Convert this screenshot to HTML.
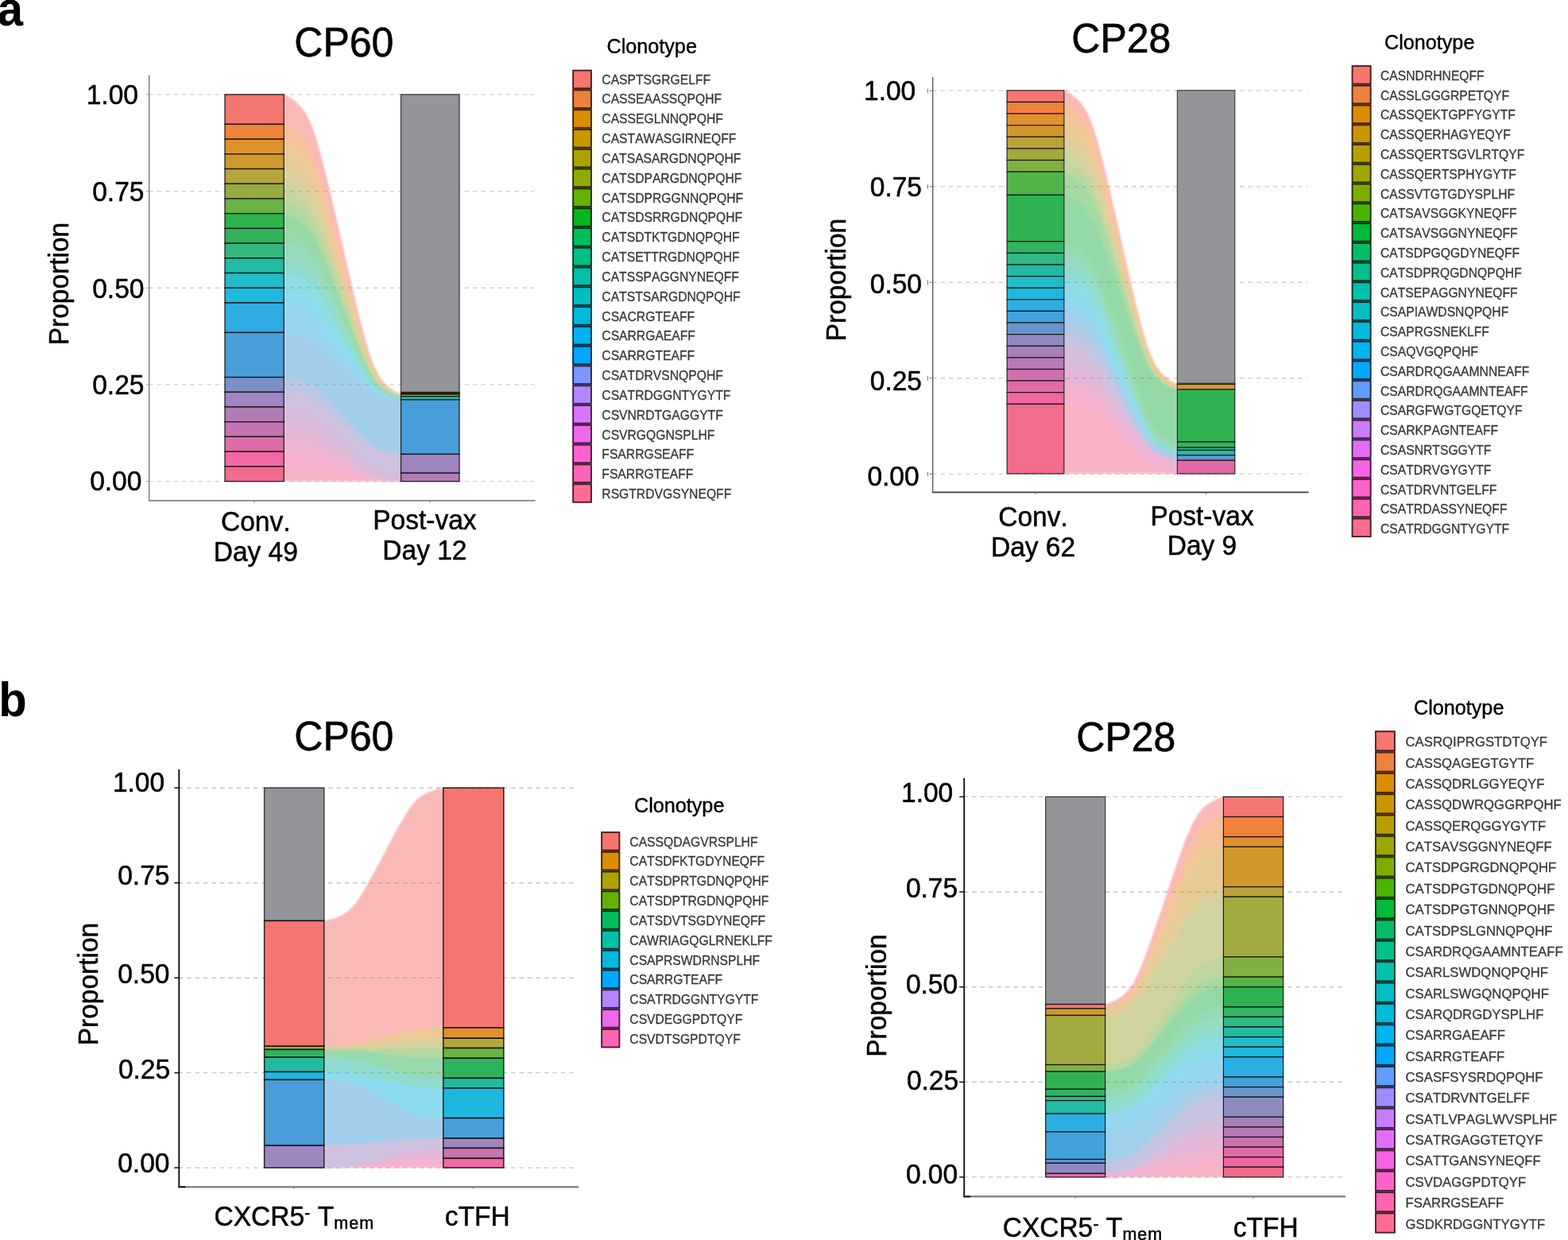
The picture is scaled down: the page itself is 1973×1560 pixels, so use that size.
<!DOCTYPE html>
<html lang="en"><head><meta charset="utf-8"><title>Clonotype alluvial plots</title>
<style>html,body{margin:0;padding:0;background:#fff;}svg{display:block;}text{white-space:pre;font-kerning:none;}</style>
</head><body>
<svg width="1973" height="1560" viewBox="0 0 1973 1560" font-family='"Liberation Sans", sans-serif' fill="#000" style="font-kerning:none">
<defs><filter id="soft" x="-5%" y="-5%" width="110%" height="110%"><feGaussianBlur stdDeviation="0.9"/></filter></defs>
<rect width="1973" height="1560" fill="#fff"/>
<g>
<line x1="187.0" y1="605.6" x2="672.2" y2="605.6" stroke="#cfcfcf" stroke-width="1.4" stroke-dasharray="5.5 4.96"/>
<line x1="187.0" y1="483.9" x2="672.2" y2="483.9" stroke="#cfcfcf" stroke-width="1.4" stroke-dasharray="5.5 4.96"/>
<line x1="187.0" y1="362.2" x2="672.2" y2="362.2" stroke="#cfcfcf" stroke-width="1.4" stroke-dasharray="5.5 4.96"/>
<line x1="187.0" y1="240.6" x2="672.2" y2="240.6" stroke="#cfcfcf" stroke-width="1.4" stroke-dasharray="5.5 4.96"/>
<line x1="187.0" y1="118.9" x2="672.2" y2="118.9" stroke="#cfcfcf" stroke-width="1.4" stroke-dasharray="5.5 4.96"/>
<g opacity="0.5" filter="url(#soft)">
<path d="M357.2,118.9 357.4,119.0 358.4,119.4 360.9,120.5 364.6,122.5 369.3,125.6 374.3,129.7 379.2,134.9 383.8,141.1 388.0,148.5 392.0,157.6 396.0,168.5 400.2,181.8 404.5,197.3 409.2,215.4 414.2,235.8 419.5,258.4 425.1,282.5 430.9,307.5 436.6,332.4 442.2,356.5 447.5,379.1 452.5,399.5 457.2,417.6 461.5,433.2 465.7,446.4 469.7,457.3 473.7,466.4 477.9,473.8 482.5,480.0 487.4,485.2 492.4,489.3 497.1,492.4 500.8,494.4 503.3,495.5 504.3,495.9 504.5,496.0 504.5,496.7 504.3,496.6 503.3,496.3 500.8,495.3 497.1,493.5 492.4,490.7 487.4,486.9 482.5,482.3 477.9,476.7 473.7,470.0 469.7,461.9 465.7,452.0 461.5,440.1 457.2,426.0 452.5,409.8 447.5,391.4 442.2,371.1 436.6,349.4 430.9,326.9 425.1,304.4 419.5,282.7 414.2,262.4 409.2,244.0 404.5,227.7 400.2,213.6 396.0,201.7 392.0,191.9 388.0,183.7 383.8,177.0 379.2,171.4 374.3,166.8 369.3,163.1 364.6,160.3 360.9,158.4 358.4,157.5 357.4,157.1 357.2,157.0Z" fill="#f47670"/>
<path d="M357.2,156.3 357.4,156.4 358.4,156.8 360.9,157.7 364.6,159.6 369.3,162.4 374.3,166.1 379.2,170.7 383.8,176.3 388.0,183.0 392.0,191.2 396.0,201.0 400.2,212.9 404.5,227.0 409.2,243.3 414.2,261.7 419.5,282.0 425.1,303.7 430.9,326.2 436.6,348.7 442.2,370.4 447.5,390.7 452.5,409.1 457.2,425.3 461.5,439.4 465.7,451.3 469.7,461.2 473.7,469.3 477.9,476.0 482.5,481.6 487.4,486.2 492.4,490.0 497.1,492.8 500.8,494.6 503.3,495.6 504.3,495.9 504.5,496.0 504.5,496.7 504.3,496.7 503.3,496.3 500.8,495.4 497.1,493.6 492.4,491.0 487.4,487.5 482.5,483.1 477.9,477.8 473.7,471.5 469.7,463.8 465.7,454.5 461.5,443.2 457.2,429.9 452.5,414.6 447.5,397.2 442.2,378.0 436.6,357.5 430.9,336.2 425.1,315.0 419.5,294.5 414.2,275.3 409.2,257.9 404.5,242.5 400.2,229.2 396.0,218.0 392.0,208.7 388.0,201.0 383.8,194.6 379.2,189.3 374.3,185.0 369.3,181.5 364.6,178.8 360.9,177.1 358.4,176.1 357.4,175.8 357.2,175.8Z" fill="#f1833a"/>
<path d="M357.2,175.1 357.4,175.1 358.4,175.4 360.9,176.4 364.6,178.1 369.3,180.8 374.3,184.3 379.2,188.6 383.8,193.9 388.0,200.3 392.0,208.0 396.0,217.3 400.2,228.5 404.5,241.8 409.2,257.2 414.2,274.6 419.5,293.8 425.1,314.3 430.9,335.5 436.6,356.8 442.2,377.3 447.5,396.5 452.5,413.9 457.2,429.2 461.5,442.5 465.7,453.8 469.7,463.1 473.7,470.8 477.9,477.1 482.5,482.4 487.4,486.8 492.4,490.3 497.1,492.9 500.8,494.7 503.3,495.6 504.3,496.0 504.5,496.0 504.5,496.7 504.3,496.7 503.3,496.3 500.8,495.5 497.1,493.8 492.4,491.3 487.4,488.0 482.5,483.9 477.9,478.9 473.7,472.9 469.7,465.7 465.7,456.9 461.5,446.3 457.2,433.8 452.5,419.4 447.5,403.0 442.2,384.9 436.6,365.6 430.9,345.6 425.1,325.6 419.5,306.3 414.2,288.2 409.2,271.8 404.5,257.3 400.2,244.8 396.0,234.3 392.0,225.5 388.0,218.2 383.8,212.3 379.2,207.3 374.3,203.2 369.3,199.8 364.6,197.4 360.9,195.7 358.4,194.8 357.4,194.5 357.2,194.5Z" fill="#de922e"/>
<path d="M357.2,193.8 357.4,193.8 358.4,194.1 360.9,195.0 364.6,196.7 369.3,199.1 374.3,202.5 379.2,206.6 383.8,211.6 388.0,217.5 392.0,224.8 396.0,233.6 400.2,244.1 404.5,256.6 409.2,271.1 414.2,287.5 419.5,305.6 425.1,324.9 430.9,344.9 436.6,364.9 442.2,384.2 447.5,402.3 452.5,418.7 457.2,433.1 461.5,445.6 465.7,456.2 469.7,465.0 473.7,472.2 477.9,478.2 482.5,483.2 487.4,487.3 492.4,490.6 497.1,493.1 500.8,494.8 503.3,495.6 504.3,496.0 504.5,496.0 504.5,496.7 504.3,496.7 503.3,496.4 500.8,495.5 497.1,494.0 492.4,491.7 487.4,488.6 482.5,484.7 477.9,480.0 473.7,474.4 469.7,467.6 465.7,459.4 461.5,449.4 457.2,437.7 452.5,424.2 447.5,408.8 442.2,391.8 436.6,373.7 430.9,354.9 425.1,336.2 419.5,318.1 414.2,301.1 409.2,285.7 404.5,272.2 400.2,260.4 396.0,250.5 392.0,242.3 388.0,235.5 383.8,229.9 379.2,225.2 374.3,221.3 369.3,218.2 364.6,215.9 360.9,214.4 358.4,213.5 357.4,213.2 357.2,213.2Z" fill="#cd992d"/>
<path d="M357.2,212.5 357.4,212.5 358.4,212.8 360.9,213.7 364.6,215.2 369.3,217.5 374.3,220.6 379.2,224.5 383.8,229.2 388.0,234.8 392.0,241.6 396.0,249.8 400.2,259.7 404.5,271.5 409.2,285.0 414.2,300.4 419.5,317.4 425.1,335.5 430.9,354.2 436.6,373.0 442.2,391.1 447.5,408.1 452.5,423.5 457.2,437.0 461.5,448.7 465.7,458.7 469.7,466.9 473.7,473.7 477.9,479.3 482.5,484.0 487.4,487.9 492.4,491.0 497.1,493.3 500.8,494.8 503.3,495.7 504.3,496.0 504.5,496.0 504.5,499.3 504.3,499.3 503.3,499.0 500.8,498.2 497.1,496.7 492.4,494.5 487.4,491.6 482.5,488.0 477.9,483.6 473.7,478.3 469.7,471.9 465.7,464.1 461.5,454.7 457.2,443.7 452.5,430.9 447.5,416.4 442.2,400.4 436.6,383.3 430.9,365.6 425.1,347.9 419.5,330.8 414.2,314.8 409.2,300.3 404.5,287.5 400.2,276.5 396.0,267.1 392.0,259.3 388.0,252.9 383.8,247.6 379.2,243.2 374.3,239.6 369.3,236.7 364.6,234.5 360.9,233.0 358.4,232.2 357.4,232.0 357.2,231.9Z" fill="#b4a53d"/>
<path d="M357.2,231.2 357.4,231.3 358.4,231.5 360.9,232.3 364.6,233.8 369.3,236.0 374.3,238.9 379.2,242.5 383.8,246.9 388.0,252.2 392.0,258.6 396.0,266.4 400.2,275.8 404.5,286.8 409.2,299.6 414.2,314.1 419.5,330.1 425.1,347.2 430.9,364.9 436.6,382.6 442.2,399.7 447.5,415.7 452.5,430.2 457.2,443.0 461.5,454.0 465.7,463.4 469.7,471.2 473.7,477.6 477.9,482.9 482.5,487.3 487.4,490.9 492.4,493.8 497.1,496.0 500.8,497.5 503.3,498.3 504.3,498.6 504.5,498.6 504.5,499.3 504.3,499.3 503.3,499.0 500.8,498.3 497.1,496.9 492.4,494.9 487.4,492.2 482.5,488.8 477.9,484.7 473.7,479.7 469.7,473.8 465.7,466.6 461.5,457.9 457.2,447.6 452.5,435.7 447.5,422.2 442.2,407.3 436.6,391.4 430.9,375.0 425.1,358.5 419.5,342.6 414.2,327.7 409.2,314.3 404.5,302.4 400.2,292.1 396.0,283.4 392.0,276.1 388.0,270.2 383.8,265.3 379.2,261.2 374.3,257.8 369.3,255.1 364.6,253.0 360.9,251.7 358.4,250.9 357.4,250.7 357.2,250.6Z" fill="#96ac3f"/>
<path d="M357.2,249.9 357.4,250.0 358.4,250.2 360.9,251.0 364.6,252.3 369.3,254.4 374.3,257.1 379.2,260.5 383.8,264.6 388.0,269.5 392.0,275.4 396.0,282.7 400.2,291.4 404.5,301.7 409.2,313.6 414.2,327.0 419.5,341.9 425.1,357.8 430.9,374.3 436.6,390.7 442.2,406.6 447.5,421.5 452.5,435.0 457.2,446.9 461.5,457.2 465.7,465.9 469.7,473.1 473.7,479.0 477.9,484.0 482.5,488.1 487.4,491.5 492.4,494.2 497.1,496.2 500.8,497.6 503.3,498.3 504.3,498.6 504.5,498.6 504.5,499.3 504.3,499.3 503.3,499.0 500.8,498.4 497.1,497.1 492.4,495.2 487.4,492.7 482.5,489.6 477.9,485.8 473.7,481.2 469.7,475.7 465.7,469.0 461.5,461.0 457.2,451.5 452.5,440.5 447.5,428.0 442.2,414.3 436.6,399.5 430.9,384.3 425.1,369.1 419.5,354.4 414.2,340.7 409.2,328.2 404.5,317.2 400.2,307.7 396.0,299.6 392.0,292.9 388.0,287.4 383.8,282.9 379.2,279.1 374.3,276.0 369.3,273.4 364.6,271.6 360.9,270.3 358.4,269.6 357.4,269.4 357.2,269.4Z" fill="#6ab445"/>
<path d="M357.2,268.7 357.4,268.7 358.4,268.9 360.9,269.6 364.6,270.9 369.3,272.7 374.3,275.3 379.2,278.4 383.8,282.2 388.0,286.7 392.0,292.2 396.0,298.9 400.2,307.0 404.5,316.5 409.2,327.5 414.2,340.0 419.5,353.7 425.1,368.4 430.9,383.6 436.6,398.8 442.2,413.6 447.5,427.3 452.5,439.8 457.2,450.8 461.5,460.3 465.7,468.3 469.7,475.0 473.7,480.5 477.9,485.1 482.5,488.9 487.4,492.0 492.4,494.5 497.1,496.4 500.8,497.7 503.3,498.3 504.3,498.6 504.5,498.6 504.5,499.3 504.3,499.3 503.3,499.0 500.8,498.4 497.1,497.3 492.4,495.5 487.4,493.2 482.5,490.4 477.9,486.9 473.7,482.7 469.7,477.6 465.7,471.5 461.5,464.1 457.2,455.4 452.5,445.3 447.5,433.8 442.2,421.2 436.6,407.7 430.9,393.7 425.1,379.7 419.5,366.2 414.2,353.6 409.2,342.1 404.5,332.0 400.2,323.3 396.0,315.9 392.0,309.7 388.0,304.7 383.8,300.5 379.2,297.0 374.3,294.1 369.3,291.8 364.6,290.1 360.9,288.9 358.4,288.3 357.4,288.1 357.2,288.1Z" fill="#2eb34b"/>
<path d="M357.2,287.4 357.4,287.4 358.4,287.6 360.9,288.2 364.6,289.4 369.3,291.1 374.3,293.4 379.2,296.3 383.8,299.8 388.0,304.0 392.0,309.0 396.0,315.2 400.2,322.6 404.5,331.3 409.2,341.4 414.2,352.9 419.5,365.5 425.1,379.0 430.9,393.0 436.6,407.0 442.2,420.5 447.5,433.1 452.5,444.6 457.2,454.7 461.5,463.4 465.7,470.8 469.7,476.9 473.7,482.0 477.9,486.2 482.5,489.7 487.4,492.5 492.4,494.8 497.1,496.6 500.8,497.7 503.3,498.3 504.3,498.6 504.5,498.6 504.5,499.3 504.3,499.3 503.3,499.1 500.8,498.5 497.1,497.5 492.4,495.9 487.4,493.8 482.5,491.1 477.9,488.0 473.7,484.2 469.7,479.6 465.7,474.0 461.5,467.2 457.2,459.3 452.5,450.0 447.5,439.6 442.2,428.1 436.6,415.8 430.9,403.0 425.1,390.3 419.5,378.0 414.2,366.5 409.2,356.1 404.5,346.8 400.2,338.9 396.0,332.1 392.0,326.5 388.0,321.9 383.8,318.1 379.2,314.9 374.3,312.3 369.3,310.2 364.6,308.6 360.9,307.6 358.4,307.0 357.4,306.8 357.2,306.8Z" fill="#30b35c"/>
<path d="M357.2,306.1 357.4,306.1 358.4,306.3 360.9,306.9 364.6,307.9 369.3,309.5 374.3,311.6 379.2,314.2 383.8,317.4 388.0,321.2 392.0,325.8 396.0,331.4 400.2,338.2 404.5,346.1 409.2,355.4 414.2,365.8 419.5,377.3 425.1,389.6 430.9,402.3 436.6,415.1 442.2,427.4 447.5,438.9 452.5,449.3 457.2,458.6 461.5,466.5 465.7,473.3 469.7,478.9 473.7,483.5 477.9,487.3 482.5,490.4 487.4,493.1 492.4,495.2 497.1,496.8 500.8,497.8 503.3,498.4 504.3,498.6 504.5,498.6 504.5,499.3 504.3,499.3 503.3,499.1 500.8,498.6 497.1,497.6 492.4,496.2 487.4,494.3 482.5,491.9 477.9,489.1 473.7,485.6 469.7,481.5 465.7,476.4 461.5,470.3 457.2,463.1 452.5,454.8 447.5,445.4 442.2,435.0 436.6,423.9 430.9,412.4 425.1,400.9 419.5,389.8 414.2,379.4 409.2,370.0 404.5,361.7 400.2,354.5 396.0,348.4 392.0,343.3 388.0,339.2 383.8,335.7 379.2,332.9 374.3,330.5 369.3,328.6 364.6,327.2 360.9,326.2 358.4,325.7 357.4,325.5 357.2,325.5Z" fill="#34b77d"/>
<path d="M357.2,324.8 357.4,324.8 358.4,325.0 360.9,325.5 364.6,326.5 369.3,327.9 374.3,329.8 379.2,332.2 383.8,335.0 388.0,338.5 392.0,342.6 396.0,347.7 400.2,353.8 404.5,361.0 409.2,369.3 414.2,378.7 419.5,389.1 425.1,400.2 430.9,411.7 436.6,423.2 442.2,434.3 447.5,444.7 452.5,454.1 457.2,462.4 461.5,469.6 465.7,475.7 469.7,480.8 473.7,484.9 477.9,488.4 482.5,491.2 487.4,493.6 492.4,495.5 497.1,496.9 500.8,497.9 503.3,498.4 504.3,498.6 504.5,498.6 504.5,503.6 504.3,503.6 503.3,503.4 500.8,502.9 497.1,502.1 492.4,500.8 487.4,499.0 482.5,496.9 477.9,494.2 473.7,491.1 469.7,487.3 465.7,482.6 461.5,477.0 457.2,470.4 452.5,462.8 447.5,454.2 442.2,444.7 436.6,434.5 430.9,423.9 425.1,413.4 419.5,403.2 414.2,393.6 409.2,385.0 404.5,377.4 400.2,370.8 396.0,365.2 392.0,360.6 388.0,356.8 383.8,353.6 379.2,351.0 374.3,348.8 369.3,347.1 364.6,345.8 360.9,344.9 358.4,344.4 357.4,344.3 357.2,344.2Z" fill="#21bba1"/>
<path d="M357.2,343.5 357.4,343.6 358.4,343.7 360.9,344.2 364.6,345.1 369.3,346.4 374.3,348.1 379.2,350.3 383.8,352.9 388.0,356.1 392.0,359.9 396.0,364.5 400.2,370.1 404.5,376.7 409.2,384.3 414.2,392.9 419.5,402.5 425.1,412.7 430.9,423.2 436.6,433.8 442.2,444.0 447.5,453.5 452.5,462.1 457.2,469.7 461.5,476.3 465.7,481.9 469.7,486.6 473.7,490.4 477.9,493.5 482.5,496.2 487.4,498.3 492.4,500.1 497.1,501.4 500.8,502.2 503.3,502.7 504.3,502.9 504.5,502.9 504.5,503.6 504.3,503.6 503.3,503.4 500.8,503.0 497.1,502.3 492.4,501.1 487.4,499.6 482.5,497.6 477.9,495.3 473.7,492.5 469.7,489.2 465.7,485.1 461.5,480.2 457.2,474.3 452.5,467.6 447.5,460.0 442.2,451.6 436.6,442.6 430.9,433.3 425.1,424.0 419.5,415.0 414.2,406.6 409.2,398.9 404.5,392.2 400.2,386.4 396.0,381.5 392.0,377.4 388.0,374.0 383.8,371.2 379.2,368.9 374.3,367.0 369.3,365.4 364.6,364.3 360.9,363.5 358.4,363.1 357.4,363.0 357.2,362.9Z" fill="#22bcc8"/>
<path d="M357.2,362.2 357.4,362.3 358.4,362.4 360.9,362.8 364.6,363.6 369.3,364.7 374.3,366.3 379.2,368.2 383.8,370.5 388.0,373.3 392.0,376.7 396.0,380.8 400.2,385.7 404.5,391.5 409.2,398.2 414.2,405.9 419.5,414.3 425.1,423.3 430.9,432.6 436.6,441.9 442.2,450.9 447.5,459.3 452.5,466.9 457.2,473.6 461.5,479.5 465.7,484.4 469.7,488.5 473.7,491.8 477.9,494.6 482.5,496.9 487.4,498.9 492.4,500.4 497.1,501.6 500.8,502.3 503.3,502.7 504.3,502.9 504.5,502.9 504.5,503.6 504.3,503.6 503.3,503.5 500.8,503.1 497.1,502.4 492.4,501.4 487.4,500.1 482.5,498.4 477.9,496.4 473.7,494.0 469.7,491.1 465.7,487.6 461.5,483.3 457.2,478.2 452.5,472.4 447.5,465.8 442.2,458.5 436.6,450.7 430.9,442.6 425.1,434.6 419.5,426.8 414.2,419.5 409.2,412.9 404.5,407.0 400.2,402.0 396.0,397.7 392.0,394.2 388.0,391.3 383.8,388.8 379.2,386.8 374.3,385.2 369.3,383.8 364.6,382.8 360.9,382.2 358.4,381.8 357.4,381.7 357.2,381.7Z" fill="#1eb8de"/>
<path d="M357.2,381.0 357.4,381.0 358.4,381.1 360.9,381.5 364.6,382.1 369.3,383.1 374.3,384.5 379.2,386.1 383.8,388.1 388.0,390.6 392.0,393.5 396.0,397.0 400.2,401.3 404.5,406.3 409.2,412.2 414.2,418.8 419.5,426.1 425.1,433.9 430.9,441.9 436.6,450.0 442.2,457.8 447.5,465.1 452.5,471.7 457.2,477.5 461.5,482.6 465.7,486.9 469.7,490.4 473.7,493.3 477.9,495.7 482.5,497.7 487.4,499.4 492.4,500.7 497.1,501.7 500.8,502.4 503.3,502.8 504.3,502.9 504.5,502.9 504.5,503.6 504.3,503.6 503.3,503.5 500.8,503.3 497.1,502.8 492.4,502.1 487.4,501.2 482.5,500.0 477.9,498.6 473.7,497.0 469.7,494.9 465.7,492.5 461.5,489.5 457.2,486.0 452.5,482.0 447.5,477.4 442.2,472.3 436.6,466.9 430.9,461.4 425.1,455.8 419.5,450.4 414.2,445.3 409.2,440.7 404.5,436.7 400.2,433.2 396.0,430.2 392.0,427.8 388.0,425.8 383.8,424.1 379.2,422.7 374.3,421.5 369.3,420.6 364.6,419.9 360.9,419.5 358.4,419.2 357.4,419.1 357.2,419.1Z" fill="#30ace4"/>
<path d="M357.2,418.4 357.4,418.4 358.4,418.5 360.9,418.8 364.6,419.2 369.3,419.9 374.3,420.8 379.2,422.0 383.8,423.4 388.0,425.1 392.0,427.1 396.0,429.5 400.2,432.5 404.5,436.0 409.2,440.0 414.2,444.6 419.5,449.7 425.1,455.1 430.9,460.7 436.6,466.2 442.2,471.6 447.5,476.7 452.5,481.3 457.2,485.3 461.5,488.8 465.7,491.8 469.7,494.2 473.7,496.3 477.9,497.9 482.5,499.3 487.4,500.5 492.4,501.4 497.1,502.1 500.8,502.6 503.3,502.8 504.3,502.9 504.5,502.9 504.5,572.1 504.3,572.1 503.3,572.0 500.8,571.7 497.1,571.2 492.4,570.4 487.4,569.3 482.5,568.0 477.9,566.4 473.7,564.5 469.7,562.2 465.7,559.4 461.5,556.0 457.2,552.0 452.5,547.3 447.5,542.1 442.2,536.3 436.6,530.1 430.9,523.7 425.1,517.3 419.5,511.1 414.2,505.3 409.2,500.0 404.5,495.4 400.2,491.4 396.0,488.0 392.0,485.2 388.0,482.9 383.8,481.0 379.2,479.4 374.3,478.0 369.3,477.0 364.6,476.2 360.9,475.7 358.4,475.4 357.4,475.3 357.2,475.3Z" fill="#489ed8"/>
<path d="M357.2,474.6 357.4,474.6 358.4,474.7 360.9,475.0 364.6,475.5 369.3,476.3 374.3,477.3 379.2,478.7 383.8,480.3 388.0,482.2 392.0,484.5 396.0,487.3 400.2,490.7 404.5,494.7 409.2,499.3 414.2,504.6 419.5,510.4 425.1,516.6 430.9,523.0 436.6,529.4 442.2,535.6 447.5,541.4 452.5,546.6 457.2,551.3 461.5,555.3 465.7,558.7 469.7,561.5 473.7,563.8 477.9,565.7 482.5,567.3 487.4,568.6 492.4,569.7 497.1,570.5 500.8,571.0 503.3,571.3 504.3,571.4 504.5,571.4 504.5,572.1 504.3,572.1 503.3,572.0 500.8,571.8 497.1,571.4 492.4,570.7 487.4,569.9 482.5,568.8 477.9,567.5 473.7,566.0 469.7,564.1 465.7,561.8 461.5,559.1 457.2,555.8 452.5,552.1 447.5,547.9 442.2,543.2 436.6,538.2 430.9,533.0 425.1,527.9 419.5,522.9 414.2,518.2 409.2,514.0 404.5,510.2 400.2,507.0 396.0,504.3 392.0,502.0 388.0,500.1 383.8,498.6 379.2,497.3 374.3,496.2 369.3,495.4 364.6,494.7 360.9,494.3 358.4,494.1 357.4,494.0 357.2,494.0Z" fill="#7a90c8"/>
<path d="M357.2,493.3 357.4,493.3 358.4,493.4 360.9,493.6 364.6,494.0 369.3,494.7 374.3,495.5 379.2,496.6 383.8,497.9 388.0,499.4 392.0,501.3 396.0,503.6 400.2,506.3 404.5,509.5 409.2,513.3 414.2,517.5 419.5,522.2 425.1,527.2 430.9,532.3 436.6,537.5 442.2,542.5 447.5,547.2 452.5,551.4 457.2,555.1 461.5,558.4 465.7,561.1 469.7,563.4 473.7,565.3 477.9,566.8 482.5,568.1 487.4,569.2 492.4,570.0 497.1,570.7 500.8,571.1 503.3,571.3 504.3,571.4 504.5,571.4 504.5,595.9 504.3,595.9 503.3,595.8 500.8,595.6 497.1,595.1 492.4,594.4 487.4,593.5 482.5,592.4 477.9,591.0 473.7,589.4 469.7,587.4 465.7,585.0 461.5,582.0 457.2,578.6 452.5,574.6 447.5,570.1 442.2,565.1 436.6,559.8 430.9,554.3 425.1,548.8 419.5,543.5 414.2,538.5 409.2,534.0 404.5,530.0 400.2,526.6 396.0,523.7 392.0,521.2 388.0,519.2 383.8,517.6 379.2,516.2 374.3,515.1 369.3,514.2 364.6,513.5 360.9,513.0 358.4,512.8 357.4,512.7 357.2,512.7Z" fill="#a086c0"/>
<path d="M357.2,512.0 357.4,512.0 358.4,512.1 360.9,512.3 364.6,512.8 369.3,513.5 374.3,514.4 379.2,515.5 383.8,516.9 388.0,518.5 392.0,520.5 396.0,523.0 400.2,525.9 404.5,529.3 409.2,533.3 414.2,537.8 419.5,542.8 425.1,548.1 430.9,553.6 436.6,559.1 442.2,564.4 447.5,569.4 452.5,573.9 457.2,577.9 461.5,581.3 465.7,584.3 469.7,586.7 473.7,588.7 477.9,590.3 482.5,591.7 487.4,592.8 492.4,593.7 497.1,594.4 500.8,594.9 503.3,595.1 504.3,595.2 504.5,595.2 504.5,606.3 504.3,606.3 503.3,606.2 500.8,606.0 497.1,605.6 492.4,605.0 487.4,604.1 482.5,603.1 477.9,601.9 473.7,600.4 469.7,598.6 465.7,596.4 461.5,593.8 457.2,590.7 452.5,587.1 447.5,583.1 442.2,578.6 436.6,573.8 430.9,568.9 425.1,563.9 419.5,559.1 414.2,554.6 409.2,550.6 404.5,547.0 400.2,543.9 396.0,541.3 392.0,539.1 388.0,537.3 383.8,535.8 379.2,534.6 374.3,533.6 369.3,532.8 364.6,532.1 360.9,531.7 358.4,531.5 357.4,531.4 357.2,531.4Z" fill="#b07cb6"/>
<path d="M357.2,530.7 357.4,530.7 358.4,530.8 360.9,531.0 364.6,531.4 369.3,532.1 374.3,532.9 379.2,533.9 383.8,535.1 388.0,536.6 392.0,538.4 396.0,540.6 400.2,543.2 404.5,546.3 409.2,549.9 414.2,553.9 419.5,558.4 425.1,563.2 430.9,568.2 436.6,573.1 442.2,577.9 447.5,582.4 452.5,586.4 457.2,590.0 461.5,593.1 465.7,595.7 469.7,597.9 473.7,599.7 477.9,601.2 482.5,602.4 487.4,603.4 492.4,604.3 497.1,604.9 500.8,605.3 503.3,605.5 504.3,605.6 504.5,605.6 504.5,606.3 504.3,606.3 503.3,606.2 500.8,606.1 497.1,605.8 492.4,605.3 487.4,604.7 482.5,603.9 477.9,603.0 473.7,601.9 469.7,600.5 465.7,598.9 461.5,596.9 457.2,594.6 452.5,591.9 447.5,588.9 442.2,585.5 436.6,581.9 430.9,578.2 425.1,574.5 419.5,570.9 414.2,567.6 409.2,564.5 404.5,561.8 400.2,559.5 396.0,557.5 392.0,555.9 388.0,554.6 383.8,553.4 379.2,552.5 374.3,551.8 369.3,551.1 364.6,550.7 360.9,550.4 358.4,550.2 357.4,550.2 357.2,550.1Z" fill="#c574b1"/>
<path d="M357.2,549.4 357.4,549.5 358.4,549.5 360.9,549.7 364.6,550.0 369.3,550.4 374.3,551.1 379.2,551.8 383.8,552.7 388.0,553.9 392.0,555.2 396.0,556.8 400.2,558.8 404.5,561.1 409.2,563.8 414.2,566.9 419.5,570.2 425.1,573.8 430.9,577.5 436.6,581.2 442.2,584.8 447.5,588.2 452.5,591.2 457.2,593.9 461.5,596.2 465.7,598.2 469.7,599.8 473.7,601.2 477.9,602.3 482.5,603.2 487.4,604.0 492.4,604.6 497.1,605.1 500.8,605.4 503.3,605.5 504.3,605.6 504.5,605.6 504.5,606.3 504.3,606.3 503.3,606.3 500.8,606.1 497.1,605.9 492.4,605.6 487.4,605.2 482.5,604.7 477.9,604.1 473.7,603.4 469.7,602.5 465.7,601.4 461.5,600.1 457.2,598.5 452.5,596.7 447.5,594.7 442.2,592.5 436.6,590.1 430.9,587.6 425.1,585.1 419.5,582.7 414.2,580.5 409.2,578.4 404.5,576.6 400.2,575.1 396.0,573.8 392.0,572.7 388.0,571.8 383.8,571.1 379.2,570.4 374.3,569.9 369.3,569.5 364.6,569.2 360.9,569.0 358.4,568.9 357.4,568.9 357.2,568.9Z" fill="#de6ca8"/>
<path d="M357.2,568.2 357.4,568.2 358.4,568.2 360.9,568.3 364.6,568.5 369.3,568.8 374.3,569.2 379.2,569.7 383.8,570.4 388.0,571.1 392.0,572.0 396.0,573.1 400.2,574.4 404.5,575.9 409.2,577.7 414.2,579.8 419.5,582.0 425.1,584.4 430.9,586.9 436.6,589.4 442.2,591.8 447.5,594.0 452.5,596.0 457.2,597.8 461.5,599.4 465.7,600.7 469.7,601.8 473.7,602.7 477.9,603.4 482.5,604.0 487.4,604.5 492.4,604.9 497.1,605.2 500.8,605.4 503.3,605.6 504.3,605.6 504.5,605.6 504.5,606.3 504.3,606.3 503.3,606.3 500.8,606.2 497.1,606.1 492.4,606.0 487.4,605.8 482.5,605.5 477.9,605.2 473.7,604.8 469.7,604.4 465.7,603.8 461.5,603.2 457.2,602.4 452.5,601.5 447.5,600.5 442.2,599.4 436.6,598.2 430.9,596.9 425.1,595.7 419.5,594.5 414.2,593.4 409.2,592.4 404.5,591.5 400.2,590.7 396.0,590.0 392.0,589.5 388.0,589.1 383.8,588.7 379.2,588.4 374.3,588.1 369.3,587.9 364.6,587.8 360.9,587.7 358.4,587.6 357.4,587.6 357.2,587.6Z" fill="#f068a5"/>
<path d="M357.2,586.9 357.4,586.9 358.4,586.9 360.9,587.0 364.6,587.1 369.3,587.2 374.3,587.4 379.2,587.7 383.8,588.0 388.0,588.4 392.0,588.8 396.0,589.3 400.2,590.0 404.5,590.8 409.2,591.7 414.2,592.7 419.5,593.8 425.1,595.0 430.9,596.2 436.6,597.5 442.2,598.7 447.5,599.8 452.5,600.8 457.2,601.7 461.5,602.5 465.7,603.1 469.7,603.7 473.7,604.1 477.9,604.5 482.5,604.8 487.4,605.1 492.4,605.3 497.1,605.4 500.8,605.5 503.3,605.6 504.3,605.6 504.5,605.6 504.5,605.6 504.3,605.6 503.3,605.6 500.8,605.6 497.1,605.6 492.4,605.6 487.4,605.6 482.5,605.6 477.9,605.6 473.7,605.6 469.7,605.6 465.7,605.6 461.5,605.6 457.2,605.6 452.5,605.6 447.5,605.6 442.2,605.6 436.6,605.6 430.9,605.6 425.1,605.6 419.5,605.6 414.2,605.6 409.2,605.6 404.5,605.6 400.2,605.6 396.0,605.6 392.0,605.6 388.0,605.6 383.8,605.6 379.2,605.6 374.3,605.6 369.3,605.6 364.6,605.6 360.9,605.6 358.4,605.6 357.4,605.6 357.2,605.6Z" fill="#f26b8e"/>
</g>
<rect x="283.0" y="118.9" width="74.2" height="37.4" fill="#f47670" stroke="#0a0a0a" stroke-opacity="0.88" stroke-width="1.3"/>
<rect x="283.0" y="156.3" width="74.2" height="18.7" fill="#f1833a" stroke="#0a0a0a" stroke-opacity="0.88" stroke-width="1.3"/>
<rect x="283.0" y="175.1" width="74.2" height="18.7" fill="#de922e" stroke="#0a0a0a" stroke-opacity="0.88" stroke-width="1.3"/>
<rect x="283.0" y="193.8" width="74.2" height="18.7" fill="#cd992d" stroke="#0a0a0a" stroke-opacity="0.88" stroke-width="1.3"/>
<rect x="283.0" y="212.5" width="74.2" height="18.7" fill="#b4a53d" stroke="#0a0a0a" stroke-opacity="0.88" stroke-width="1.3"/>
<rect x="283.0" y="231.2" width="74.2" height="18.7" fill="#96ac3f" stroke="#0a0a0a" stroke-opacity="0.88" stroke-width="1.3"/>
<rect x="283.0" y="249.9" width="74.2" height="18.7" fill="#6ab445" stroke="#0a0a0a" stroke-opacity="0.88" stroke-width="1.3"/>
<rect x="283.0" y="268.7" width="74.2" height="18.7" fill="#2eb34b" stroke="#0a0a0a" stroke-opacity="0.88" stroke-width="1.3"/>
<rect x="283.0" y="287.4" width="74.2" height="18.7" fill="#30b35c" stroke="#0a0a0a" stroke-opacity="0.88" stroke-width="1.3"/>
<rect x="283.0" y="306.1" width="74.2" height="18.7" fill="#34b77d" stroke="#0a0a0a" stroke-opacity="0.88" stroke-width="1.3"/>
<rect x="283.0" y="324.8" width="74.2" height="18.7" fill="#21bba1" stroke="#0a0a0a" stroke-opacity="0.88" stroke-width="1.3"/>
<rect x="283.0" y="343.5" width="74.2" height="18.7" fill="#22bcc8" stroke="#0a0a0a" stroke-opacity="0.88" stroke-width="1.3"/>
<rect x="283.0" y="362.2" width="74.2" height="18.7" fill="#1eb8de" stroke="#0a0a0a" stroke-opacity="0.88" stroke-width="1.3"/>
<rect x="283.0" y="381.0" width="74.2" height="37.4" fill="#30ace4" stroke="#0a0a0a" stroke-opacity="0.88" stroke-width="1.3"/>
<rect x="283.0" y="418.4" width="74.2" height="56.2" fill="#489ed8" stroke="#0a0a0a" stroke-opacity="0.88" stroke-width="1.3"/>
<rect x="283.0" y="474.6" width="74.2" height="18.7" fill="#7a90c8" stroke="#0a0a0a" stroke-opacity="0.88" stroke-width="1.3"/>
<rect x="283.0" y="493.3" width="74.2" height="18.7" fill="#a086c0" stroke="#0a0a0a" stroke-opacity="0.88" stroke-width="1.3"/>
<rect x="283.0" y="512.0" width="74.2" height="18.7" fill="#b07cb6" stroke="#0a0a0a" stroke-opacity="0.88" stroke-width="1.3"/>
<rect x="283.0" y="530.7" width="74.2" height="18.7" fill="#c574b1" stroke="#0a0a0a" stroke-opacity="0.88" stroke-width="1.3"/>
<rect x="283.0" y="549.4" width="74.2" height="18.7" fill="#de6ca8" stroke="#0a0a0a" stroke-opacity="0.88" stroke-width="1.3"/>
<rect x="283.0" y="568.2" width="74.2" height="18.7" fill="#f068a5" stroke="#0a0a0a" stroke-opacity="0.88" stroke-width="1.3"/>
<rect x="283.0" y="586.9" width="74.2" height="18.7" fill="#f26b8e" stroke="#0a0a0a" stroke-opacity="0.88" stroke-width="1.3"/>
<rect x="504.5" y="118.9" width="73.5" height="377.1" fill="#939598" stroke="#3d3d3f" stroke-width="1.3"/>
<rect x="503.9" y="492.8" width="74.8" height="3.2" fill="#222222"/>
<rect x="504.5" y="496.0" width="73.5" height="2.6" fill="#b4a53d" stroke="#0a0a0a" stroke-opacity="0.88" stroke-width="1.3"/>
<rect x="504.5" y="498.6" width="73.5" height="4.3" fill="#21bba1" stroke="#0a0a0a" stroke-opacity="0.88" stroke-width="1.3"/>
<rect x="504.5" y="502.9" width="73.5" height="68.5" fill="#489ed8" stroke="#0a0a0a" stroke-opacity="0.88" stroke-width="1.3"/>
<rect x="504.5" y="571.4" width="73.5" height="23.8" fill="#a086c0" stroke="#0a0a0a" stroke-opacity="0.88" stroke-width="1.3"/>
<rect x="504.5" y="595.2" width="73.5" height="10.4" fill="#b07cb6" stroke="#0a0a0a" stroke-opacity="0.88" stroke-width="1.3"/>
<line x1="187.7" y1="94.7" x2="187.7" y2="630.5" stroke="#707070" stroke-width="1.3"/>
<line x1="187.0" y1="629.8" x2="673.6" y2="629.8" stroke="#707070" stroke-width="1.4"/>
<line x1="320.1" y1="629.8" x2="320.1" y2="632.2" stroke="#707070" stroke-width="1.1"/>
<line x1="541.2" y1="629.8" x2="541.2" y2="632.2" stroke="#707070" stroke-width="1.1"/>
<line x1="184.2" y1="605.6" x2="187.7" y2="605.6" stroke="#9a9a9a" stroke-width="1.1"/>
<line x1="184.2" y1="483.9" x2="187.7" y2="483.9" stroke="#9a9a9a" stroke-width="1.1"/>
<line x1="184.2" y1="362.2" x2="187.7" y2="362.2" stroke="#9a9a9a" stroke-width="1.1"/>
<line x1="184.2" y1="240.6" x2="187.7" y2="240.6" stroke="#9a9a9a" stroke-width="1.1"/>
<line x1="184.2" y1="118.9" x2="187.7" y2="118.9" stroke="#9a9a9a" stroke-width="1.1"/>
<text transform="translate(173.90,131.20) scale(1,1.04)" font-size="33.5" text-anchor="end" stroke="#000" stroke-width="0.5">1.00</text>
<text transform="translate(181.40,252.90) scale(1,1.04)" font-size="33.5" text-anchor="end" stroke="#000" stroke-width="0.5">0.75</text>
<text transform="translate(181.40,375.10) scale(1,1.04)" font-size="33.5" text-anchor="end" stroke="#000" stroke-width="0.5">0.50</text>
<text transform="translate(181.40,496.40) scale(1,1.04)" font-size="33.5" text-anchor="end" stroke="#000" stroke-width="0.5">0.25</text>
<text transform="translate(178.30,617.10) scale(1,1.04)" font-size="33.5" text-anchor="end" stroke="#000" stroke-width="0.5">0.00</text>
<text transform="translate(85.60,357.00) rotate(-90) scale(1,1.04)" font-size="33.5" text-anchor="middle" stroke="#000" stroke-width="0.5">Proportion</text>
<text transform="translate(432.80,71.30) scale(1,1.04)" font-size="50" text-anchor="middle" stroke="#000" stroke-width="0.6">CP60</text>
<text transform="translate(321.80,667.80) scale(1,1.04)" font-size="33.5" text-anchor="middle" stroke="#000" stroke-width="0.5">Conv.</text>
<text transform="translate(321.80,705.70) scale(1,1.04)" font-size="33.5" text-anchor="middle" stroke="#000" stroke-width="0.5">Day 49</text>
<text transform="translate(534.40,666.00) scale(1,1.04)" font-size="33.5" text-anchor="middle" stroke="#000" stroke-width="0.5">Post-vax</text>
<text transform="translate(534.40,704.10) scale(1,1.04)" font-size="33.5" text-anchor="middle" stroke="#000" stroke-width="0.5">Day 12</text>
<text transform="translate(763.50,66.60) scale(1,1.04)" font-size="25.2" stroke="#000" stroke-width="0.4">Clonotype</text>
<rect x="720.60" y="88.10" width="23.90" height="544.18" fill="#3a2424"/>
<rect x="720.30" y="87.75" width="24.50" height="24.29" fill="#f8766d"/>
<rect x="721.20" y="88.65" width="22.70" height="22.49" fill="none" stroke="#140c0c" stroke-opacity="0.8" stroke-width="1.8"/>
<text transform="translate(757.30,105.52) scale(1,1.04)" font-size="15.7" fill="#383838" stroke="#383838" stroke-width="0.3">CASPTSGRGELFF</text>
<rect x="720.30" y="112.54" width="24.50" height="24.29" fill="#ec8239"/>
<rect x="721.20" y="113.44" width="22.70" height="22.49" fill="none" stroke="#140c0c" stroke-opacity="0.8" stroke-width="1.8"/>
<text transform="translate(757.30,130.36) scale(1,1.04)" font-size="15.7" fill="#383838" stroke="#383838" stroke-width="0.3">CASSEAASSQPQHF</text>
<rect x="720.30" y="137.33" width="24.50" height="24.29" fill="#db8e00"/>
<rect x="721.20" y="138.23" width="22.70" height="22.49" fill="none" stroke="#140c0c" stroke-opacity="0.8" stroke-width="1.8"/>
<text transform="translate(757.30,155.20) scale(1,1.04)" font-size="15.7" fill="#383838" stroke="#383838" stroke-width="0.3">CASSEGLNNQPQHF</text>
<rect x="720.30" y="162.12" width="24.50" height="24.29" fill="#c79800"/>
<rect x="721.20" y="163.02" width="22.70" height="22.49" fill="none" stroke="#140c0c" stroke-opacity="0.8" stroke-width="1.8"/>
<text transform="translate(757.30,180.04) scale(1,1.04)" font-size="15.7" fill="#383838" stroke="#383838" stroke-width="0.3">CASTAWASGIRNEQFF</text>
<rect x="720.30" y="186.91" width="24.50" height="24.29" fill="#aea200"/>
<rect x="721.20" y="187.81" width="22.70" height="22.49" fill="none" stroke="#140c0c" stroke-opacity="0.8" stroke-width="1.8"/>
<text transform="translate(757.30,204.88) scale(1,1.04)" font-size="15.7" fill="#383838" stroke="#383838" stroke-width="0.3">CATSASARGDNQPQHF</text>
<rect x="720.30" y="211.70" width="24.50" height="24.29" fill="#8faa00"/>
<rect x="721.20" y="212.60" width="22.70" height="22.49" fill="none" stroke="#140c0c" stroke-opacity="0.8" stroke-width="1.8"/>
<text transform="translate(757.30,229.72) scale(1,1.04)" font-size="15.7" fill="#383838" stroke="#383838" stroke-width="0.3">CATSDPARGDNQPQHF</text>
<rect x="720.30" y="236.49" width="24.50" height="24.29" fill="#64b200"/>
<rect x="721.20" y="237.39" width="22.70" height="22.49" fill="none" stroke="#140c0c" stroke-opacity="0.8" stroke-width="1.8"/>
<text transform="translate(757.30,254.56) scale(1,1.04)" font-size="15.7" fill="#383838" stroke="#383838" stroke-width="0.3">CATSDPRGGNNQPQHF</text>
<rect x="720.30" y="261.28" width="24.50" height="24.29" fill="#00b81b"/>
<rect x="721.20" y="262.18" width="22.70" height="22.49" fill="none" stroke="#140c0c" stroke-opacity="0.8" stroke-width="1.8"/>
<text transform="translate(757.30,279.40) scale(1,1.04)" font-size="15.7" fill="#383838" stroke="#383838" stroke-width="0.3">CATSDSRRGDNQPQHF</text>
<rect x="720.30" y="286.07" width="24.50" height="24.29" fill="#00bd5c"/>
<rect x="721.20" y="286.97" width="22.70" height="22.49" fill="none" stroke="#140c0c" stroke-opacity="0.8" stroke-width="1.8"/>
<text transform="translate(757.30,304.24) scale(1,1.04)" font-size="15.7" fill="#383838" stroke="#383838" stroke-width="0.3">CATSDTKTGDNQPQHF</text>
<rect x="720.30" y="310.86" width="24.50" height="24.29" fill="#00c085"/>
<rect x="721.20" y="311.76" width="22.70" height="22.49" fill="none" stroke="#140c0c" stroke-opacity="0.8" stroke-width="1.8"/>
<text transform="translate(757.30,329.08) scale(1,1.04)" font-size="15.7" fill="#383838" stroke="#383838" stroke-width="0.3">CATSETTRGDNQPQHF</text>
<rect x="720.30" y="335.65" width="24.50" height="24.29" fill="#00c1a7"/>
<rect x="721.20" y="336.55" width="22.70" height="22.49" fill="none" stroke="#140c0c" stroke-opacity="0.8" stroke-width="1.8"/>
<text transform="translate(757.30,353.92) scale(1,1.04)" font-size="15.7" fill="#383838" stroke="#383838" stroke-width="0.3">CATSSPAGGNYNEQFF</text>
<rect x="720.30" y="360.44" width="24.50" height="24.29" fill="#00bfc4"/>
<rect x="721.20" y="361.34" width="22.70" height="22.49" fill="none" stroke="#140c0c" stroke-opacity="0.8" stroke-width="1.8"/>
<text transform="translate(757.30,378.76) scale(1,1.04)" font-size="15.7" fill="#383838" stroke="#383838" stroke-width="0.3">CATSTSARGDNQPQHF</text>
<rect x="720.30" y="385.23" width="24.50" height="24.29" fill="#00bade"/>
<rect x="721.20" y="386.13" width="22.70" height="22.49" fill="none" stroke="#140c0c" stroke-opacity="0.8" stroke-width="1.8"/>
<text transform="translate(757.30,403.60) scale(1,1.04)" font-size="15.7" fill="#383838" stroke="#383838" stroke-width="0.3">CSACRGTEAFF</text>
<rect x="720.30" y="410.02" width="24.50" height="24.29" fill="#00b2f3"/>
<rect x="721.20" y="410.92" width="22.70" height="22.49" fill="none" stroke="#140c0c" stroke-opacity="0.8" stroke-width="1.8"/>
<text transform="translate(757.30,428.44) scale(1,1.04)" font-size="15.7" fill="#383838" stroke="#383838" stroke-width="0.3">CSARRGAEAFF</text>
<rect x="720.30" y="434.81" width="24.50" height="24.29" fill="#00a6ff"/>
<rect x="721.20" y="435.71" width="22.70" height="22.49" fill="none" stroke="#140c0c" stroke-opacity="0.8" stroke-width="1.8"/>
<text transform="translate(757.30,453.28) scale(1,1.04)" font-size="15.7" fill="#383838" stroke="#383838" stroke-width="0.3">CSARRGTEAFF</text>
<rect x="720.30" y="459.60" width="24.50" height="24.29" fill="#7c96ff"/>
<rect x="721.20" y="460.50" width="22.70" height="22.49" fill="none" stroke="#140c0c" stroke-opacity="0.8" stroke-width="1.8"/>
<text transform="translate(757.30,478.12) scale(1,1.04)" font-size="15.7" fill="#383838" stroke="#383838" stroke-width="0.3">CSATDRVSNQPQHF</text>
<rect x="720.30" y="484.39" width="24.50" height="24.29" fill="#b385ff"/>
<rect x="721.20" y="485.29" width="22.70" height="22.49" fill="none" stroke="#140c0c" stroke-opacity="0.8" stroke-width="1.8"/>
<text transform="translate(757.30,502.96) scale(1,1.04)" font-size="15.7" fill="#383838" stroke="#383838" stroke-width="0.3">CSATRDGGNTYGYTF</text>
<rect x="720.30" y="509.18" width="24.50" height="24.29" fill="#d874fd"/>
<rect x="721.20" y="510.08" width="22.70" height="22.49" fill="none" stroke="#140c0c" stroke-opacity="0.8" stroke-width="1.8"/>
<text transform="translate(757.30,527.80) scale(1,1.04)" font-size="15.7" fill="#383838" stroke="#383838" stroke-width="0.3">CSVNRDTGAGGYTF</text>
<rect x="720.30" y="533.97" width="24.50" height="24.29" fill="#ef67eb"/>
<rect x="721.20" y="534.87" width="22.70" height="22.49" fill="none" stroke="#140c0c" stroke-opacity="0.8" stroke-width="1.8"/>
<text transform="translate(757.30,552.64) scale(1,1.04)" font-size="15.7" fill="#383838" stroke="#383838" stroke-width="0.3">CSVRGQGNSPLHF</text>
<rect x="720.30" y="558.76" width="24.50" height="24.29" fill="#fd61d3"/>
<rect x="721.20" y="559.66" width="22.70" height="22.49" fill="none" stroke="#140c0c" stroke-opacity="0.8" stroke-width="1.8"/>
<text transform="translate(757.30,577.48) scale(1,1.04)" font-size="15.7" fill="#383838" stroke="#383838" stroke-width="0.3">FSARRGSEAFF</text>
<rect x="720.30" y="583.55" width="24.50" height="24.29" fill="#ff63b6"/>
<rect x="721.20" y="584.45" width="22.70" height="22.49" fill="none" stroke="#140c0c" stroke-opacity="0.8" stroke-width="1.8"/>
<text transform="translate(757.30,602.32) scale(1,1.04)" font-size="15.7" fill="#383838" stroke="#383838" stroke-width="0.3">FSARRGTEAFF</text>
<rect x="720.30" y="608.34" width="24.50" height="24.29" fill="#ff6b94"/>
<rect x="721.20" y="609.24" width="22.70" height="22.49" fill="none" stroke="#140c0c" stroke-opacity="0.8" stroke-width="1.8"/>
<text transform="translate(757.30,627.16) scale(1,1.04)" font-size="15.7" fill="#383838" stroke="#383838" stroke-width="0.3">RSGTRDVGSYNEQFF</text>
</g>
<g>
<line x1="1173.0" y1="596.4" x2="1645.1" y2="596.4" stroke="#cfcfcf" stroke-width="1.4" stroke-dasharray="5.5 4.96"/>
<line x1="1173.0" y1="475.8" x2="1645.1" y2="475.8" stroke="#cfcfcf" stroke-width="1.4" stroke-dasharray="5.5 4.96"/>
<line x1="1173.0" y1="355.2" x2="1645.1" y2="355.2" stroke="#cfcfcf" stroke-width="1.4" stroke-dasharray="5.5 4.96"/>
<line x1="1173.0" y1="234.7" x2="1645.1" y2="234.7" stroke="#cfcfcf" stroke-width="1.4" stroke-dasharray="5.5 4.96"/>
<line x1="1173.0" y1="114.1" x2="1645.1" y2="114.1" stroke="#cfcfcf" stroke-width="1.4" stroke-dasharray="5.5 4.96"/>
<g opacity="0.5" filter="url(#soft)">
<path d="M1338.9,113.8 1339.1,113.9 1340.1,114.3 1342.4,115.3 1346.1,117.3 1350.6,120.4 1355.4,124.4 1360.2,129.5 1364.6,135.5 1368.7,142.9 1372.6,151.7 1376.5,162.4 1380.5,175.4 1384.7,190.7 1389.2,208.4 1394.0,228.4 1399.2,250.5 1404.6,274.1 1410.2,298.6 1415.7,323.1 1421.1,346.7 1426.3,368.8 1431.1,388.8 1435.6,406.5 1439.8,421.8 1443.8,434.8 1447.7,445.5 1451.6,454.3 1455.7,461.7 1460.1,467.7 1464.9,472.8 1469.7,476.8 1474.2,479.9 1477.9,481.9 1480.2,482.9 1481.2,483.3 1481.4,483.4 1481.4,484.1 1481.2,484.0 1480.2,483.7 1477.9,482.6 1474.2,480.7 1469.7,477.8 1464.9,473.9 1460.1,469.1 1455.7,463.2 1451.6,456.2 1447.7,447.7 1443.8,437.4 1439.8,424.9 1435.6,410.3 1431.1,393.3 1426.3,374.0 1421.1,352.8 1415.7,330.1 1410.2,306.6 1404.6,283.1 1399.2,260.4 1394.0,239.2 1389.2,219.9 1384.7,203.0 1380.5,188.3 1376.5,175.8 1372.6,165.5 1368.7,157.0 1364.6,150.0 1360.2,144.1 1355.4,139.3 1350.6,135.4 1346.1,132.5 1342.4,130.6 1340.1,129.5 1339.1,129.2 1338.9,129.1Z" fill="#f47670"/>
<path d="M1338.9,128.4 1339.1,128.5 1340.1,128.8 1342.4,129.9 1346.1,131.8 1350.6,134.7 1355.4,138.6 1360.2,143.4 1364.6,149.3 1368.7,156.3 1372.6,164.8 1376.5,175.1 1380.5,187.6 1384.7,202.3 1389.2,219.2 1394.0,238.5 1399.2,259.7 1404.6,282.4 1410.2,305.9 1415.7,329.4 1421.1,352.1 1426.3,373.3 1431.1,392.6 1435.6,409.6 1439.8,424.2 1443.8,436.7 1447.7,447.0 1451.6,455.5 1455.7,462.5 1460.1,468.4 1464.9,473.2 1469.7,477.1 1474.2,480.0 1477.9,481.9 1480.2,483.0 1481.2,483.3 1481.4,483.4 1481.4,484.1 1481.2,484.0 1480.2,483.7 1477.9,482.7 1474.2,480.8 1469.7,478.1 1464.9,474.3 1460.1,469.7 1455.7,464.1 1451.6,457.3 1447.7,449.2 1443.8,439.3 1439.8,427.4 1435.6,413.3 1431.1,397.0 1426.3,378.6 1421.1,358.2 1415.7,336.4 1410.2,313.9 1404.6,291.4 1399.2,269.6 1394.0,249.3 1389.2,230.8 1384.7,214.5 1380.5,200.5 1376.5,188.5 1372.6,178.6 1368.7,170.5 1364.6,163.7 1360.2,158.1 1355.4,153.5 1350.6,149.8 1346.1,147.0 1342.4,145.1 1340.1,144.1 1339.1,143.8 1338.9,143.7Z" fill="#f1823e"/>
<path d="M1338.9,143.0 1339.1,143.1 1340.1,143.4 1342.4,144.4 1346.1,146.3 1350.6,149.1 1355.4,152.8 1360.2,157.4 1364.6,163.0 1368.7,169.8 1372.6,177.9 1376.5,187.8 1380.5,199.8 1384.7,213.8 1389.2,230.1 1394.0,248.6 1399.2,268.9 1404.6,290.7 1410.2,313.2 1415.7,335.7 1421.1,357.5 1426.3,377.9 1431.1,396.3 1435.6,412.6 1439.8,426.7 1443.8,438.6 1447.7,448.5 1451.6,456.6 1455.7,463.4 1460.1,469.0 1464.9,473.6 1469.7,477.4 1474.2,480.1 1477.9,482.0 1480.2,483.0 1481.2,483.3 1481.4,483.4 1481.4,484.1 1481.2,484.1 1480.2,483.7 1477.9,482.8 1474.2,481.0 1469.7,478.3 1464.9,474.7 1460.1,470.3 1455.7,464.9 1451.6,458.5 1447.7,450.7 1443.8,441.2 1439.8,429.8 1435.6,416.3 1431.1,400.7 1426.3,383.1 1421.1,363.6 1415.7,342.8 1410.2,321.2 1404.6,299.7 1399.2,278.8 1394.0,259.4 1389.2,241.7 1384.7,226.1 1380.5,212.6 1376.5,201.2 1372.6,191.7 1368.7,183.9 1364.6,177.5 1360.2,172.1 1355.4,167.7 1350.6,164.1 1346.1,161.4 1342.4,159.7 1340.1,158.7 1339.1,158.4 1338.9,158.3Z" fill="#e19030"/>
<path d="M1338.9,157.6 1339.1,157.7 1340.1,158.0 1342.4,159.0 1346.1,160.7 1350.6,163.4 1355.4,167.0 1360.2,171.4 1364.6,176.8 1368.7,183.2 1372.6,191.0 1376.5,200.5 1380.5,211.9 1384.7,225.4 1389.2,241.0 1394.0,258.7 1399.2,278.1 1404.6,299.0 1410.2,320.5 1415.7,342.1 1421.1,362.9 1426.3,382.4 1431.1,400.0 1435.6,415.6 1439.8,429.1 1443.8,440.5 1447.7,450.0 1451.6,457.8 1455.7,464.2 1460.1,469.6 1464.9,474.0 1469.7,477.6 1474.2,480.3 1477.9,482.1 1480.2,483.0 1481.2,483.4 1481.4,483.4 1481.4,490.7 1481.2,490.7 1480.2,490.3 1477.9,489.4 1474.2,487.7 1469.7,485.1 1464.9,481.6 1460.1,477.2 1455.7,472.0 1451.6,465.7 1447.7,458.1 1443.8,448.9 1439.8,437.7 1435.6,424.6 1431.1,409.4 1426.3,392.2 1421.1,373.2 1415.7,352.9 1410.2,331.8 1404.6,310.8 1399.2,290.5 1394.0,271.5 1389.2,254.3 1384.7,239.0 1380.5,225.9 1376.5,214.8 1372.6,205.5 1368.7,197.9 1364.6,191.6 1360.2,186.4 1355.4,182.1 1350.6,178.6 1346.1,176.0 1342.4,174.3 1340.1,173.3 1339.1,173.0 1338.9,172.9Z" fill="#d1972d"/>
<path d="M1338.9,172.2 1339.1,172.3 1340.1,172.6 1342.4,173.6 1346.1,175.3 1350.6,177.9 1355.4,181.4 1360.2,185.7 1364.6,190.9 1368.7,197.2 1372.6,204.8 1376.5,214.1 1380.5,225.2 1384.7,238.3 1389.2,253.6 1394.0,270.8 1399.2,289.8 1404.6,310.1 1410.2,331.1 1415.7,352.2 1421.1,372.5 1426.3,391.5 1431.1,408.7 1435.6,423.9 1439.8,437.0 1443.8,448.2 1447.7,457.4 1451.6,465.0 1455.7,471.3 1460.1,476.5 1464.9,480.9 1469.7,484.4 1474.2,487.0 1477.9,488.7 1480.2,489.6 1481.2,490.0 1481.4,490.0 1481.4,490.7 1481.2,490.7 1480.2,490.3 1477.9,489.4 1474.2,487.8 1469.7,485.3 1464.9,482.0 1460.1,477.9 1455.7,472.9 1451.6,466.9 1447.7,459.6 1443.8,450.8 1439.8,440.2 1435.6,427.6 1431.1,413.1 1426.3,396.7 1421.1,378.6 1415.7,359.2 1410.2,339.1 1404.6,319.1 1399.2,299.7 1394.0,281.6 1389.2,265.1 1384.7,250.6 1380.5,238.1 1376.5,227.5 1372.6,218.6 1368.7,211.4 1364.6,205.4 1360.2,200.4 1355.4,196.3 1350.6,192.9 1346.1,190.5 1342.4,188.8 1340.1,187.9 1339.1,187.6 1338.9,187.6Z" fill="#bca138"/>
<path d="M1338.9,186.9 1339.1,186.9 1340.1,187.2 1342.4,188.1 1346.1,189.8 1350.6,192.2 1355.4,195.6 1360.2,199.7 1364.6,204.7 1368.7,210.7 1372.6,217.9 1376.5,226.8 1380.5,237.4 1384.7,249.9 1389.2,264.4 1394.0,280.9 1399.2,299.0 1404.6,318.4 1410.2,338.4 1415.7,358.5 1421.1,377.9 1426.3,396.0 1431.1,412.4 1435.6,426.9 1439.8,439.5 1443.8,450.1 1447.7,458.9 1451.6,466.2 1455.7,472.2 1460.1,477.2 1464.9,481.3 1469.7,484.6 1474.2,487.1 1477.9,488.7 1480.2,489.6 1481.2,490.0 1481.4,490.0 1481.4,490.7 1481.2,490.7 1480.2,490.3 1477.9,489.5 1474.2,487.9 1469.7,485.6 1464.9,482.4 1460.1,478.5 1455.7,473.7 1451.6,468.0 1447.7,461.1 1443.8,452.7 1439.8,442.6 1435.6,430.7 1431.1,416.9 1426.3,401.2 1421.1,384.0 1415.7,365.5 1410.2,346.4 1404.6,327.3 1399.2,308.9 1394.0,291.6 1389.2,276.0 1384.7,262.2 1380.5,250.3 1376.5,240.1 1372.6,231.8 1368.7,224.9 1364.6,219.1 1360.2,214.4 1355.4,210.5 1350.6,207.3 1346.1,204.9 1342.4,203.4 1340.1,202.5 1339.1,202.2 1338.9,202.2Z" fill="#a2a93e"/>
<path d="M1338.9,201.5 1339.1,201.5 1340.1,201.8 1342.4,202.7 1346.1,204.2 1350.6,206.6 1355.4,209.8 1360.2,213.7 1364.6,218.4 1368.7,224.2 1372.6,231.1 1376.5,239.4 1380.5,249.6 1384.7,261.5 1389.2,275.3 1394.0,290.9 1399.2,308.2 1404.6,326.6 1410.2,345.7 1415.7,364.8 1421.1,383.3 1426.3,400.5 1431.1,416.2 1435.6,430.0 1439.8,441.9 1443.8,452.0 1447.7,460.4 1451.6,467.3 1455.7,473.0 1460.1,477.8 1464.9,481.7 1469.7,484.9 1474.2,487.2 1477.9,488.8 1480.2,489.6 1481.2,490.0 1481.4,490.0 1481.4,490.7 1481.2,490.7 1480.2,490.4 1477.9,489.6 1474.2,488.1 1469.7,485.8 1464.9,482.8 1460.1,479.1 1455.7,474.6 1451.6,469.2 1447.7,462.6 1443.8,454.7 1439.8,445.0 1435.6,433.7 1431.1,420.6 1426.3,405.8 1421.1,389.4 1415.7,371.9 1410.2,353.7 1404.6,335.6 1399.2,318.1 1394.0,301.7 1389.2,286.9 1384.7,273.8 1380.5,262.4 1376.5,252.8 1372.6,244.9 1368.7,238.3 1364.6,232.9 1360.2,228.4 1355.4,224.7 1350.6,221.7 1346.1,219.4 1342.4,217.9 1340.1,217.1 1339.1,216.8 1338.9,216.8Z" fill="#80b042"/>
<path d="M1338.9,216.1 1339.1,216.1 1340.1,216.4 1342.4,217.2 1346.1,218.7 1350.6,221.0 1355.4,224.0 1360.2,227.7 1364.6,232.2 1368.7,237.6 1372.6,244.2 1376.5,252.1 1380.5,261.7 1384.7,273.1 1389.2,286.2 1394.0,301.0 1399.2,317.4 1404.6,334.9 1410.2,353.0 1415.7,371.2 1421.1,388.7 1426.3,405.1 1431.1,419.9 1435.6,433.0 1439.8,444.3 1443.8,454.0 1447.7,461.9 1451.6,468.5 1455.7,473.9 1460.1,478.4 1464.9,482.1 1469.7,485.1 1474.2,487.4 1477.9,488.9 1480.2,489.7 1481.2,490.0 1481.4,490.0 1481.4,490.7 1481.2,490.7 1480.2,490.4 1477.9,489.7 1474.2,488.4 1469.7,486.4 1464.9,483.7 1460.1,480.3 1455.7,476.3 1451.6,471.5 1447.7,465.6 1443.8,458.5 1439.8,449.9 1435.6,439.8 1431.1,428.1 1426.3,414.8 1421.1,400.2 1415.7,384.6 1410.2,368.4 1404.6,352.2 1399.2,336.5 1394.0,321.9 1389.2,308.6 1384.7,296.9 1380.5,286.8 1376.5,278.2 1372.6,271.1 1368.7,265.2 1364.6,260.4 1360.2,256.4 1355.4,253.0 1350.6,250.4 1346.1,248.3 1342.4,247.0 1340.1,246.3 1339.1,246.0 1338.9,246.0Z" fill="#51b448"/>
<path d="M1338.9,245.3 1339.1,245.3 1340.1,245.6 1342.4,246.3 1346.1,247.6 1350.6,249.7 1355.4,252.3 1360.2,255.7 1364.6,259.7 1368.7,264.5 1372.6,270.4 1376.5,277.5 1380.5,286.1 1384.7,296.2 1389.2,307.9 1394.0,321.2 1399.2,335.8 1404.6,351.5 1410.2,367.7 1415.7,383.9 1421.1,399.5 1426.3,414.1 1431.1,427.4 1435.6,439.1 1439.8,449.2 1443.8,457.8 1447.7,464.9 1451.6,470.8 1455.7,475.6 1460.1,479.6 1464.9,483.0 1469.7,485.7 1474.2,487.7 1477.9,489.0 1480.2,489.7 1481.2,490.0 1481.4,490.0 1481.4,556.7 1481.2,556.7 1480.2,556.4 1477.9,555.7 1474.2,554.3 1469.7,552.2 1464.9,549.5 1460.1,546.0 1455.7,541.9 1451.6,536.9 1447.7,530.8 1443.8,523.5 1439.8,514.7 1435.6,504.2 1431.1,492.2 1426.3,478.5 1421.1,463.4 1415.7,447.3 1410.2,430.6 1404.6,413.9 1399.2,397.8 1394.0,382.7 1389.2,369.0 1384.7,356.9 1380.5,346.5 1376.5,337.7 1372.6,330.3 1368.7,324.3 1364.6,319.3 1360.2,315.1 1355.4,311.7 1350.6,308.9 1346.1,306.9 1342.4,305.5 1340.1,304.8 1339.1,304.5 1338.9,304.5Z" fill="#2fb351"/>
<path d="M1338.9,303.8 1339.1,303.8 1340.1,304.1 1342.4,304.8 1346.1,306.2 1350.6,308.2 1355.4,311.0 1360.2,314.4 1364.6,318.6 1368.7,323.6 1372.6,329.6 1376.5,337.0 1380.5,345.8 1384.7,356.2 1389.2,368.3 1394.0,382.0 1399.2,397.1 1404.6,413.2 1410.2,429.9 1415.7,446.6 1421.1,462.7 1426.3,477.8 1431.1,491.5 1435.6,503.5 1439.8,514.0 1443.8,522.8 1447.7,530.1 1451.6,536.2 1455.7,541.2 1460.1,545.3 1464.9,548.8 1469.7,551.5 1474.2,553.6 1477.9,555.0 1480.2,555.7 1481.2,556.0 1481.4,556.0 1481.4,563.7 1481.2,563.7 1480.2,563.4 1477.9,562.7 1474.2,561.4 1469.7,559.4 1464.9,556.7 1460.1,553.3 1455.7,549.3 1451.6,544.5 1447.7,538.6 1443.8,531.5 1439.8,522.9 1435.6,512.8 1431.1,501.1 1426.3,487.8 1421.1,473.2 1415.7,457.6 1410.2,441.4 1404.6,425.2 1399.2,409.5 1394.0,394.9 1389.2,381.7 1384.7,370.0 1380.5,359.8 1376.5,351.3 1372.6,344.2 1368.7,338.3 1364.6,333.5 1360.2,329.4 1355.4,326.1 1350.6,323.4 1346.1,321.4 1342.4,320.1 1340.1,319.4 1339.1,319.1 1338.9,319.1Z" fill="#31b464"/>
<path d="M1338.9,318.4 1339.1,318.4 1340.1,318.7 1342.4,319.4 1346.1,320.7 1350.6,322.7 1355.4,325.4 1360.2,328.7 1364.6,332.8 1368.7,337.6 1372.6,343.5 1376.5,350.6 1380.5,359.1 1384.7,369.3 1389.2,381.0 1394.0,394.2 1399.2,408.8 1404.6,424.5 1410.2,440.7 1415.7,456.9 1421.1,472.5 1426.3,487.1 1431.1,500.4 1435.6,512.1 1439.8,522.2 1443.8,530.8 1447.7,537.9 1451.6,543.8 1455.7,548.6 1460.1,552.6 1464.9,556.0 1469.7,558.7 1474.2,560.7 1477.9,562.0 1480.2,562.7 1481.2,563.0 1481.4,563.0 1481.4,567.1 1481.2,567.1 1480.2,566.8 1477.9,566.1 1474.2,564.9 1469.7,563.0 1464.9,560.4 1460.1,557.2 1455.7,553.4 1451.6,548.7 1447.7,543.2 1443.8,536.4 1439.8,528.2 1435.6,518.5 1431.1,507.4 1426.3,494.7 1421.1,480.8 1415.7,465.8 1410.2,450.4 1404.6,434.9 1399.2,420.0 1394.0,406.1 1389.2,393.4 1384.7,382.2 1380.5,372.6 1376.5,364.4 1372.6,357.6 1368.7,352.0 1364.6,347.4 1360.2,343.6 1355.4,340.4 1350.6,337.8 1346.1,335.9 1342.4,334.6 1340.1,334.0 1339.1,333.7 1338.9,333.7Z" fill="#31b883"/>
<path d="M1338.9,333.0 1339.1,333.0 1340.1,333.3 1342.4,333.9 1346.1,335.2 1350.6,337.1 1355.4,339.7 1360.2,342.9 1364.6,346.7 1368.7,351.3 1372.6,356.9 1376.5,363.7 1380.5,371.9 1384.7,381.5 1389.2,392.7 1394.0,405.4 1399.2,419.3 1404.6,434.2 1410.2,449.7 1415.7,465.1 1421.1,480.1 1426.3,494.0 1431.1,506.7 1435.6,517.8 1439.8,527.5 1443.8,535.7 1447.7,542.5 1451.6,548.0 1455.7,552.7 1460.1,556.5 1464.9,559.7 1469.7,562.3 1474.2,564.2 1477.9,565.4 1480.2,566.1 1481.2,566.4 1481.4,566.4 1481.4,573.4 1481.2,573.4 1480.2,573.1 1477.9,572.5 1474.2,571.2 1469.7,569.4 1464.9,566.9 1460.1,563.9 1455.7,560.2 1451.6,555.7 1447.7,550.3 1443.8,543.8 1439.8,535.9 1435.6,526.6 1431.1,515.8 1426.3,503.6 1421.1,490.1 1415.7,475.7 1410.2,460.8 1404.6,445.9 1399.2,431.6 1394.0,418.1 1389.2,405.9 1384.7,395.1 1380.5,385.8 1376.5,377.9 1372.6,371.4 1368.7,366.0 1364.6,361.5 1360.2,357.8 1355.4,354.8 1350.6,352.3 1346.1,350.4 1342.4,349.2 1340.1,348.6 1339.1,348.3 1338.9,348.3Z" fill="#21bba4"/>
<path d="M1338.9,347.6 1339.1,347.6 1340.1,347.9 1342.4,348.5 1346.1,349.7 1350.6,351.6 1355.4,354.1 1360.2,357.1 1364.6,360.8 1368.7,365.3 1372.6,370.7 1376.5,377.2 1380.5,385.1 1384.7,394.4 1389.2,405.2 1394.0,417.4 1399.2,430.9 1404.6,445.2 1410.2,460.1 1415.7,475.0 1421.1,489.4 1426.3,502.9 1431.1,515.1 1435.6,525.9 1439.8,535.2 1443.8,543.1 1447.7,549.6 1451.6,555.0 1455.7,559.5 1460.1,563.2 1464.9,566.2 1469.7,568.7 1474.2,570.5 1477.9,571.8 1480.2,572.4 1481.2,572.7 1481.4,572.7 1481.4,573.4 1481.2,573.4 1480.2,573.1 1477.9,572.5 1474.2,571.4 1469.7,569.7 1464.9,567.4 1460.1,564.5 1455.7,561.0 1451.6,556.8 1447.7,551.8 1443.8,545.7 1439.8,538.3 1435.6,529.6 1431.1,519.5 1426.3,508.1 1421.1,495.5 1415.7,482.1 1410.2,468.2 1404.6,454.2 1399.2,440.8 1394.0,428.2 1389.2,416.8 1384.7,406.7 1380.5,398.0 1376.5,390.6 1372.6,384.5 1368.7,379.5 1364.6,375.3 1360.2,371.8 1355.4,369.0 1350.6,366.6 1346.1,364.9 1342.4,363.8 1340.1,363.2 1339.1,362.9 1338.9,362.9Z" fill="#22bcc8"/>
<path d="M1338.9,362.2 1339.1,362.2 1340.1,362.5 1342.4,363.1 1346.1,364.2 1350.6,365.9 1355.4,368.3 1360.2,371.1 1364.6,374.6 1368.7,378.8 1372.6,383.8 1376.5,389.9 1380.5,397.3 1384.7,406.0 1389.2,416.1 1394.0,427.5 1399.2,440.1 1404.6,453.5 1410.2,467.5 1415.7,481.4 1421.1,494.8 1426.3,507.4 1431.1,518.8 1435.6,528.9 1439.8,537.6 1443.8,545.0 1447.7,551.1 1451.6,556.1 1455.7,560.3 1460.1,563.8 1464.9,566.7 1469.7,569.0 1474.2,570.7 1477.9,571.8 1480.2,572.4 1481.2,572.7 1481.4,572.7 1481.4,573.4 1481.2,573.4 1480.2,573.2 1477.9,572.6 1474.2,571.5 1469.7,569.9 1464.9,567.8 1460.1,565.1 1455.7,561.9 1451.6,558.0 1447.7,553.3 1443.8,547.6 1439.8,540.8 1435.6,532.7 1431.1,523.3 1426.3,512.7 1421.1,501.0 1415.7,488.4 1410.2,475.5 1404.6,462.5 1399.2,450.0 1394.0,438.3 1389.2,427.6 1384.7,418.3 1380.5,410.2 1376.5,403.3 1372.6,397.6 1368.7,392.9 1364.6,389.0 1360.2,385.8 1355.4,383.1 1350.6,381.0 1346.1,379.4 1342.4,378.3 1340.1,377.8 1339.1,377.5 1338.9,377.5Z" fill="#1eb8dc"/>
<path d="M1338.9,376.8 1339.1,376.8 1340.1,377.1 1342.4,377.6 1346.1,378.7 1350.6,380.3 1355.4,382.4 1360.2,385.1 1364.6,388.3 1368.7,392.2 1372.6,396.9 1376.5,402.6 1380.5,409.5 1384.7,417.6 1389.2,426.9 1394.0,437.6 1399.2,449.3 1404.6,461.8 1410.2,474.8 1415.7,487.7 1421.1,500.3 1426.3,512.0 1431.1,522.6 1435.6,532.0 1439.8,540.1 1443.8,546.9 1447.7,552.6 1451.6,557.3 1455.7,561.2 1460.1,564.4 1464.9,567.1 1469.7,569.2 1474.2,570.8 1477.9,571.9 1480.2,572.5 1481.2,572.7 1481.4,572.7 1481.4,573.4 1481.2,573.4 1480.2,573.2 1477.9,572.7 1474.2,571.7 1469.7,570.2 1464.9,568.2 1460.1,565.7 1455.7,562.7 1451.6,559.1 1447.7,554.8 1443.8,549.5 1439.8,543.2 1435.6,535.7 1431.1,527.0 1426.3,517.2 1421.1,506.4 1415.7,494.8 1410.2,482.8 1404.6,470.8 1399.2,459.2 1394.0,448.3 1389.2,438.5 1384.7,429.8 1380.5,422.3 1376.5,416.0 1372.6,410.7 1368.7,406.4 1364.6,402.8 1360.2,399.8 1355.4,397.3 1350.6,395.4 1346.1,393.9 1342.4,392.9 1340.1,392.4 1339.1,392.2 1338.9,392.1Z" fill="#2daee3"/>
<path d="M1338.9,391.4 1339.1,391.5 1340.1,391.7 1342.4,392.2 1346.1,393.2 1350.6,394.7 1355.4,396.6 1360.2,399.1 1364.6,402.1 1368.7,405.7 1372.6,410.0 1376.5,415.3 1380.5,421.6 1384.7,429.1 1389.2,437.8 1394.0,447.6 1399.2,458.5 1404.6,470.1 1410.2,482.1 1415.7,494.1 1421.1,505.7 1426.3,516.5 1431.1,526.3 1435.6,535.0 1439.8,542.5 1443.8,548.8 1447.7,554.1 1451.6,558.4 1455.7,562.0 1460.1,565.0 1464.9,567.5 1469.7,569.5 1474.2,571.0 1477.9,572.0 1480.2,572.5 1481.2,572.7 1481.4,572.7 1481.4,573.4 1481.2,573.4 1480.2,573.2 1477.9,572.7 1474.2,571.8 1469.7,570.4 1464.9,568.6 1460.1,566.3 1455.7,563.6 1451.6,560.3 1447.7,556.3 1443.8,551.5 1439.8,545.6 1435.6,538.7 1431.1,530.8 1426.3,521.7 1421.1,511.8 1415.7,501.1 1410.2,490.1 1404.6,479.0 1399.2,468.4 1394.0,458.4 1389.2,449.4 1384.7,441.4 1380.5,434.5 1376.5,428.7 1372.6,423.8 1368.7,419.8 1364.6,416.5 1360.2,413.8 1355.4,411.5 1350.6,409.7 1346.1,408.3 1342.4,407.4 1340.1,406.9 1339.1,406.8 1338.9,406.7Z" fill="#42a2db"/>
<path d="M1338.9,406.0 1339.1,406.1 1340.1,406.2 1342.4,406.7 1346.1,407.6 1350.6,409.0 1355.4,410.8 1360.2,413.1 1364.6,415.8 1368.7,419.1 1372.6,423.1 1376.5,428.0 1380.5,433.8 1384.7,440.7 1389.2,448.7 1394.0,457.7 1399.2,467.7 1404.6,478.3 1410.2,489.4 1415.7,500.4 1421.1,511.1 1426.3,521.0 1431.1,530.1 1435.6,538.0 1439.8,544.9 1443.8,550.8 1447.7,555.6 1451.6,559.6 1455.7,562.9 1460.1,565.6 1464.9,567.9 1469.7,569.7 1474.2,571.1 1477.9,572.0 1480.2,572.5 1481.2,572.7 1481.4,572.7 1481.4,579.9 1481.2,579.9 1480.2,579.7 1477.9,579.2 1474.2,578.4 1469.7,577.1 1464.9,575.3 1460.1,573.2 1455.7,570.6 1451.6,567.4 1447.7,563.6 1443.8,559.0 1439.8,553.5 1435.6,546.9 1431.1,539.3 1426.3,530.7 1421.1,521.3 1415.7,511.1 1410.2,500.6 1404.6,490.1 1399.2,480.0 1394.0,470.5 1389.2,461.9 1384.7,454.3 1380.5,447.8 1376.5,442.2 1372.6,437.6 1368.7,433.8 1364.6,430.7 1360.2,428.1 1355.4,425.9 1350.6,424.2 1346.1,422.9 1342.4,422.0 1340.1,421.5 1339.1,421.4 1338.9,421.4Z" fill="#6995cd"/>
<path d="M1338.9,420.7 1339.1,420.7 1340.1,420.8 1342.4,421.3 1346.1,422.2 1350.6,423.5 1355.4,425.2 1360.2,427.4 1364.6,430.0 1368.7,433.1 1372.6,436.9 1376.5,441.5 1380.5,447.1 1384.7,453.6 1389.2,461.2 1394.0,469.8 1399.2,479.3 1404.6,489.4 1410.2,499.9 1415.7,510.4 1421.1,520.6 1426.3,530.0 1431.1,538.6 1435.6,546.2 1439.8,552.8 1443.8,558.3 1447.7,562.9 1451.6,566.7 1455.7,569.9 1460.1,572.5 1464.9,574.6 1469.7,576.4 1474.2,577.7 1477.9,578.5 1480.2,579.0 1481.2,579.2 1481.4,579.2 1481.4,579.9 1481.2,579.9 1480.2,579.7 1477.9,579.3 1474.2,578.5 1469.7,577.3 1464.9,575.8 1460.1,573.8 1455.7,571.4 1451.6,568.6 1447.7,565.1 1443.8,561.0 1439.8,555.9 1435.6,550.0 1431.1,543.1 1426.3,535.3 1421.1,526.7 1415.7,517.5 1410.2,507.9 1404.6,498.4 1399.2,489.2 1394.0,480.6 1389.2,472.8 1384.7,465.9 1380.5,460.0 1376.5,454.9 1372.6,450.7 1368.7,447.3 1364.6,444.4 1360.2,442.1 1355.4,440.1 1350.6,438.5 1346.1,437.3 1342.4,436.6 1340.1,436.1 1339.1,436.0 1338.9,436.0Z" fill="#908ac3"/>
<path d="M1338.9,435.3 1339.1,435.3 1340.1,435.4 1342.4,435.9 1346.1,436.6 1350.6,437.8 1355.4,439.4 1360.2,441.4 1364.6,443.7 1368.7,446.6 1372.6,450.0 1376.5,454.2 1380.5,459.3 1384.7,465.2 1389.2,472.1 1394.0,479.9 1399.2,488.5 1404.6,497.7 1410.2,507.2 1415.7,516.8 1421.1,526.0 1426.3,534.6 1431.1,542.4 1435.6,549.3 1439.8,555.2 1443.8,560.3 1447.7,564.4 1451.6,567.9 1455.7,570.7 1460.1,573.1 1464.9,575.1 1469.7,576.6 1474.2,577.8 1477.9,578.6 1480.2,579.0 1481.2,579.2 1481.4,579.2 1481.4,579.9 1481.2,579.9 1480.2,579.7 1477.9,579.4 1474.2,578.7 1469.7,577.6 1464.9,576.2 1460.1,574.4 1455.7,572.3 1451.6,569.7 1447.7,566.6 1443.8,562.9 1439.8,558.3 1435.6,553.0 1431.1,546.8 1426.3,539.8 1421.1,532.1 1415.7,523.8 1410.2,515.2 1404.6,506.7 1399.2,498.4 1394.0,490.7 1389.2,483.7 1384.7,477.5 1380.5,472.1 1376.5,467.6 1372.6,463.8 1368.7,460.7 1364.6,458.2 1360.2,456.1 1355.4,454.3 1350.6,452.9 1346.1,451.8 1342.4,451.1 1340.1,450.7 1339.1,450.6 1338.9,450.6Z" fill="#a881bb"/>
<path d="M1338.9,449.9 1339.1,449.9 1340.1,450.0 1342.4,450.4 1346.1,451.1 1350.6,452.2 1355.4,453.6 1360.2,455.4 1364.6,457.5 1368.7,460.0 1372.6,463.1 1376.5,466.9 1380.5,471.4 1384.7,476.8 1389.2,483.0 1394.0,490.0 1399.2,497.7 1404.6,506.0 1410.2,514.5 1415.7,523.1 1421.1,531.4 1426.3,539.1 1431.1,546.1 1435.6,552.3 1439.8,557.6 1443.8,562.2 1447.7,565.9 1451.6,569.0 1455.7,571.6 1460.1,573.7 1464.9,575.5 1469.7,576.9 1474.2,578.0 1477.9,578.7 1480.2,579.0 1481.2,579.2 1481.4,579.2 1481.4,579.9 1481.2,579.9 1480.2,579.8 1477.9,579.4 1474.2,578.8 1469.7,577.9 1464.9,576.6 1460.1,575.0 1455.7,573.2 1451.6,570.9 1447.7,568.1 1443.8,564.8 1439.8,560.8 1435.6,556.0 1431.1,550.5 1426.3,544.3 1421.1,537.5 1415.7,530.1 1410.2,522.5 1404.6,515.0 1399.2,507.6 1394.0,500.8 1389.2,494.5 1384.7,489.1 1380.5,484.3 1376.5,480.3 1372.6,477.0 1368.7,474.2 1364.6,471.9 1360.2,470.0 1355.4,468.5 1350.6,467.2 1346.1,466.3 1342.4,465.7 1340.1,465.3 1339.1,465.2 1338.9,465.2Z" fill="#b979b4"/>
<path d="M1338.9,464.5 1339.1,464.5 1340.1,464.6 1342.4,465.0 1346.1,465.6 1350.6,466.5 1355.4,467.8 1360.2,469.3 1364.6,471.2 1368.7,473.5 1372.6,476.3 1376.5,479.6 1380.5,483.6 1384.7,488.4 1389.2,493.8 1394.0,500.1 1399.2,506.9 1404.6,514.3 1410.2,521.8 1415.7,529.4 1421.1,536.8 1426.3,543.6 1431.1,549.8 1435.6,555.3 1439.8,560.1 1443.8,564.1 1447.7,567.4 1451.6,570.2 1455.7,572.5 1460.1,574.3 1464.9,575.9 1469.7,577.2 1474.2,578.1 1477.9,578.7 1480.2,579.1 1481.2,579.2 1481.4,579.2 1481.4,579.9 1481.2,579.9 1480.2,579.8 1477.9,579.5 1474.2,578.9 1469.7,578.1 1464.9,577.0 1460.1,575.7 1455.7,574.0 1451.6,572.0 1447.7,569.6 1443.8,566.7 1439.8,563.2 1435.6,559.1 1431.1,554.3 1426.3,548.9 1421.1,542.9 1415.7,536.5 1410.2,529.9 1404.6,523.2 1399.2,516.8 1394.0,510.8 1389.2,505.4 1384.7,500.6 1380.5,496.5 1376.5,493.0 1372.6,490.1 1368.7,487.7 1364.6,485.7 1360.2,484.0 1355.4,482.7 1350.6,481.6 1346.1,480.8 1342.4,480.2 1340.1,479.9 1339.1,479.8 1338.9,479.8Z" fill="#cd71ae"/>
<path d="M1338.9,479.1 1339.1,479.1 1340.1,479.2 1342.4,479.5 1346.1,480.1 1350.6,480.9 1355.4,482.0 1360.2,483.3 1364.6,485.0 1368.7,487.0 1372.6,489.4 1376.5,492.3 1380.5,495.8 1384.7,499.9 1389.2,504.7 1394.0,510.1 1399.2,516.1 1404.6,522.5 1410.2,529.2 1415.7,535.8 1421.1,542.2 1426.3,548.2 1431.1,553.6 1435.6,558.4 1439.8,562.5 1443.8,566.0 1447.7,568.9 1451.6,571.3 1455.7,573.3 1460.1,575.0 1464.9,576.3 1469.7,577.4 1474.2,578.2 1477.9,578.8 1480.2,579.1 1481.2,579.2 1481.4,579.2 1481.4,596.7 1481.2,596.7 1480.2,596.6 1477.9,596.3 1474.2,595.7 1469.7,594.9 1464.9,593.8 1460.1,592.4 1455.7,590.7 1451.6,588.7 1447.7,586.2 1443.8,583.2 1439.8,579.7 1435.6,575.4 1431.1,570.5 1426.3,565.0 1421.1,558.9 1415.7,552.3 1410.2,545.6 1404.6,538.8 1399.2,532.2 1394.0,526.1 1389.2,520.6 1384.7,515.7 1380.5,511.5 1376.5,507.9 1372.6,504.9 1368.7,502.5 1364.6,500.4 1360.2,498.7 1355.4,497.4 1350.6,496.2 1346.1,495.4 1342.4,494.8 1340.1,494.5 1339.1,494.4 1338.9,494.4Z" fill="#e26ba7"/>
<path d="M1338.9,493.7 1339.1,493.7 1340.1,493.8 1342.4,494.1 1346.1,494.7 1350.6,495.5 1355.4,496.7 1360.2,498.0 1364.6,499.7 1368.7,501.8 1372.6,504.2 1376.5,507.2 1380.5,510.8 1384.7,515.0 1389.2,519.9 1394.0,525.4 1399.2,531.5 1404.6,538.1 1410.2,544.9 1415.7,551.6 1421.1,558.2 1426.3,564.3 1431.1,569.8 1435.6,574.7 1439.8,579.0 1443.8,582.5 1447.7,585.5 1451.6,588.0 1455.7,590.0 1460.1,591.7 1464.9,593.1 1469.7,594.2 1474.2,595.0 1477.9,595.6 1480.2,595.9 1481.2,596.0 1481.4,596.0 1481.4,596.7 1481.2,596.7 1480.2,596.6 1477.9,596.3 1474.2,595.9 1469.7,595.1 1464.9,594.2 1460.1,593.0 1455.7,591.5 1451.6,589.8 1447.7,587.7 1443.8,585.2 1439.8,582.1 1435.6,578.5 1431.1,574.3 1426.3,569.5 1421.1,564.3 1415.7,558.7 1410.2,552.9 1404.6,547.1 1399.2,541.5 1394.0,536.2 1389.2,531.5 1384.7,527.3 1380.5,523.6 1376.5,520.6 1372.6,518.0 1368.7,515.9 1364.6,514.2 1360.2,512.7 1355.4,511.5 1350.6,510.6 1346.1,509.9 1342.4,509.4 1340.1,509.1 1339.1,509.0 1338.9,509.0Z" fill="#f068a1"/>
<path d="M1338.9,508.3 1339.1,508.3 1340.1,508.4 1342.4,508.7 1346.1,509.2 1350.6,509.9 1355.4,510.8 1360.2,512.0 1364.6,513.5 1368.7,515.2 1372.6,517.3 1376.5,519.9 1380.5,522.9 1384.7,526.6 1389.2,530.8 1394.0,535.5 1399.2,540.8 1404.6,546.4 1410.2,552.2 1415.7,558.0 1421.1,563.6 1426.3,568.8 1431.1,573.6 1435.6,577.8 1439.8,581.4 1443.8,584.5 1447.7,587.0 1451.6,589.1 1455.7,590.8 1460.1,592.3 1464.9,593.5 1469.7,594.4 1474.2,595.2 1477.9,595.6 1480.2,595.9 1481.2,596.0 1481.4,596.0 1481.4,596.0 1481.2,596.0 1480.2,596.0 1477.9,596.0 1474.2,596.0 1469.7,596.0 1464.9,596.0 1460.1,596.0 1455.7,596.0 1451.6,596.0 1447.7,596.0 1443.8,596.0 1439.8,596.0 1435.6,596.0 1431.1,596.0 1426.3,596.0 1421.1,596.0 1415.7,596.0 1410.2,596.0 1404.6,596.0 1399.2,596.0 1394.0,596.0 1389.2,596.0 1384.7,596.0 1380.5,596.0 1376.5,596.0 1372.6,596.0 1368.7,596.0 1364.6,596.0 1360.2,596.0 1355.4,596.0 1350.6,596.0 1346.1,596.0 1342.4,596.0 1340.1,596.0 1339.1,596.0 1338.9,596.0Z" fill="#f26c8b"/>
</g>
<rect x="1267.1" y="113.8" width="71.8" height="14.6" fill="#f47670" stroke="#0a0a0a" stroke-opacity="0.88" stroke-width="1.15"/>
<rect x="1267.1" y="128.4" width="71.8" height="14.6" fill="#f1823e" stroke="#0a0a0a" stroke-opacity="0.88" stroke-width="1.15"/>
<rect x="1267.1" y="143.0" width="71.8" height="14.6" fill="#e19030" stroke="#0a0a0a" stroke-opacity="0.88" stroke-width="1.15"/>
<rect x="1267.1" y="157.6" width="71.8" height="14.6" fill="#d1972d" stroke="#0a0a0a" stroke-opacity="0.88" stroke-width="1.15"/>
<rect x="1267.1" y="172.2" width="71.8" height="14.6" fill="#bca138" stroke="#0a0a0a" stroke-opacity="0.88" stroke-width="1.15"/>
<rect x="1267.1" y="186.9" width="71.8" height="14.6" fill="#a2a93e" stroke="#0a0a0a" stroke-opacity="0.88" stroke-width="1.15"/>
<rect x="1267.1" y="201.5" width="71.8" height="14.6" fill="#80b042" stroke="#0a0a0a" stroke-opacity="0.88" stroke-width="1.15"/>
<rect x="1267.1" y="216.1" width="71.8" height="29.2" fill="#51b448" stroke="#0a0a0a" stroke-opacity="0.88" stroke-width="1.15"/>
<rect x="1267.1" y="245.3" width="71.8" height="58.4" fill="#2fb351" stroke="#0a0a0a" stroke-opacity="0.88" stroke-width="1.15"/>
<rect x="1267.1" y="303.8" width="71.8" height="14.6" fill="#31b464" stroke="#0a0a0a" stroke-opacity="0.88" stroke-width="1.15"/>
<rect x="1267.1" y="318.4" width="71.8" height="14.6" fill="#31b883" stroke="#0a0a0a" stroke-opacity="0.88" stroke-width="1.15"/>
<rect x="1267.1" y="333.0" width="71.8" height="14.6" fill="#21bba4" stroke="#0a0a0a" stroke-opacity="0.88" stroke-width="1.15"/>
<rect x="1267.1" y="347.6" width="71.8" height="14.6" fill="#22bcc8" stroke="#0a0a0a" stroke-opacity="0.88" stroke-width="1.15"/>
<rect x="1267.1" y="362.2" width="71.8" height="14.6" fill="#1eb8dc" stroke="#0a0a0a" stroke-opacity="0.88" stroke-width="1.15"/>
<rect x="1267.1" y="376.8" width="71.8" height="14.6" fill="#2daee3" stroke="#0a0a0a" stroke-opacity="0.88" stroke-width="1.15"/>
<rect x="1267.1" y="391.4" width="71.8" height="14.6" fill="#42a2db" stroke="#0a0a0a" stroke-opacity="0.88" stroke-width="1.15"/>
<rect x="1267.1" y="406.0" width="71.8" height="14.6" fill="#6995cd" stroke="#0a0a0a" stroke-opacity="0.88" stroke-width="1.15"/>
<rect x="1267.1" y="420.7" width="71.8" height="14.6" fill="#908ac3" stroke="#0a0a0a" stroke-opacity="0.88" stroke-width="1.15"/>
<rect x="1267.1" y="435.3" width="71.8" height="14.6" fill="#a881bb" stroke="#0a0a0a" stroke-opacity="0.88" stroke-width="1.15"/>
<rect x="1267.1" y="449.9" width="71.8" height="14.6" fill="#b979b4" stroke="#0a0a0a" stroke-opacity="0.88" stroke-width="1.15"/>
<rect x="1267.1" y="464.5" width="71.8" height="14.6" fill="#cd71ae" stroke="#0a0a0a" stroke-opacity="0.88" stroke-width="1.15"/>
<rect x="1267.1" y="479.1" width="71.8" height="14.6" fill="#e26ba7" stroke="#0a0a0a" stroke-opacity="0.88" stroke-width="1.15"/>
<rect x="1267.1" y="493.7" width="71.8" height="14.6" fill="#f068a1" stroke="#0a0a0a" stroke-opacity="0.88" stroke-width="1.15"/>
<rect x="1267.1" y="508.3" width="71.8" height="87.7" fill="#f26c8b" stroke="#0a0a0a" stroke-opacity="0.88" stroke-width="1.15"/>
<rect x="1481.4" y="113.7" width="72.4" height="369.7" fill="#939598" stroke="#3d3d3f" stroke-width="1.15"/>
<rect x="1480.8" y="481.5" width="73.5" height="1.9" fill="#4a4a48"/>
<rect x="1481.4" y="483.4" width="72.4" height="6.6" fill="#d1972d" stroke="#0a0a0a" stroke-opacity="0.88" stroke-width="1.15"/>
<rect x="1481.4" y="490.0" width="72.4" height="66.0" fill="#2fb351" stroke="#0a0a0a" stroke-opacity="0.88" stroke-width="1.15"/>
<rect x="1481.4" y="556.0" width="72.4" height="7.0" fill="#31b464" stroke="#0a0a0a" stroke-opacity="0.88" stroke-width="1.15"/>
<rect x="1481.4" y="563.0" width="72.4" height="3.4" fill="#31b883" stroke="#0a0a0a" stroke-opacity="0.88" stroke-width="1.15"/>
<rect x="1481.4" y="566.4" width="72.4" height="6.3" fill="#21bba4" stroke="#0a0a0a" stroke-opacity="0.88" stroke-width="1.15"/>
<rect x="1481.4" y="572.7" width="72.4" height="6.5" fill="#6995cd" stroke="#0a0a0a" stroke-opacity="0.88" stroke-width="1.15"/>
<rect x="1481.4" y="579.2" width="72.4" height="16.8" fill="#e26ba7" stroke="#0a0a0a" stroke-opacity="0.88" stroke-width="1.15"/>
<line x1="1173.7" y1="96.9" x2="1173.7" y2="620.1" stroke="#4a4a4a" stroke-width="1.25"/>
<line x1="1173.1" y1="619.4" x2="1646.5" y2="619.4" stroke="#3a3a3a" stroke-width="1.8"/>
<line x1="1303.0" y1="619.4" x2="1303.0" y2="621.8" stroke="#707070" stroke-width="1.1"/>
<line x1="1517.6" y1="619.4" x2="1517.6" y2="621.8" stroke="#707070" stroke-width="1.1"/>
<line x1="1169.8" y1="596.4" x2="1173.7" y2="596.4" stroke="#777" stroke-width="1.1"/>
<line x1="1167.3" y1="593.8" x2="1167.3" y2="599.2" stroke="#6a6a6a" stroke-width="1"/>
<line x1="1169.8" y1="475.8" x2="1173.7" y2="475.8" stroke="#777" stroke-width="1.1"/>
<line x1="1167.3" y1="473.2" x2="1167.3" y2="478.6" stroke="#6a6a6a" stroke-width="1"/>
<line x1="1169.8" y1="355.2" x2="1173.7" y2="355.2" stroke="#777" stroke-width="1.1"/>
<line x1="1167.3" y1="352.6" x2="1167.3" y2="358.1" stroke="#6a6a6a" stroke-width="1"/>
<line x1="1169.8" y1="234.7" x2="1173.7" y2="234.7" stroke="#777" stroke-width="1.1"/>
<line x1="1167.3" y1="232.1" x2="1167.3" y2="237.5" stroke="#6a6a6a" stroke-width="1"/>
<line x1="1169.8" y1="114.1" x2="1173.7" y2="114.1" stroke="#777" stroke-width="1.1"/>
<line x1="1167.3" y1="111.5" x2="1167.3" y2="116.9" stroke="#6a6a6a" stroke-width="1"/>
<text transform="translate(1152.20,126.20) scale(1,1.04)" font-size="33.5" text-anchor="end" stroke="#000" stroke-width="0.5">1.00</text>
<text transform="translate(1160.00,247.20) scale(1,1.04)" font-size="33.5" text-anchor="end" stroke="#000" stroke-width="0.5">0.75</text>
<text transform="translate(1160.00,368.80) scale(1,1.04)" font-size="33.5" text-anchor="end" stroke="#000" stroke-width="0.5">0.50</text>
<text transform="translate(1160.00,491.00) scale(1,1.04)" font-size="33.5" text-anchor="end" stroke="#000" stroke-width="0.5">0.25</text>
<text transform="translate(1156.60,610.60) scale(1,1.04)" font-size="33.5" text-anchor="end" stroke="#000" stroke-width="0.5">0.00</text>
<text transform="translate(1064.20,352.00) rotate(-90) scale(1,1.04)" font-size="33.5" text-anchor="middle" stroke="#000" stroke-width="0.5">Proportion</text>
<text transform="translate(1410.80,66.00) scale(1,1.04)" font-size="50" text-anchor="middle" stroke="#000" stroke-width="0.6">CP28</text>
<text transform="translate(1300.00,662.00) scale(1,1.04)" font-size="33.5" text-anchor="middle" stroke="#000" stroke-width="0.5">Conv.</text>
<text transform="translate(1300.00,699.50) scale(1,1.04)" font-size="33.5" text-anchor="middle" stroke="#000" stroke-width="0.5">Day 62</text>
<text transform="translate(1512.50,660.50) scale(1,1.04)" font-size="33.5" text-anchor="middle" stroke="#000" stroke-width="0.5">Post-vax</text>
<text transform="translate(1512.50,697.50) scale(1,1.04)" font-size="33.5" text-anchor="middle" stroke="#000" stroke-width="0.5">Day 9</text>
<text transform="translate(1742.00,62.00) scale(1,1.04)" font-size="25.2" stroke="#000" stroke-width="0.4">Clonotype</text>
<rect x="1701.00" y="82.50" width="24.20" height="593.04" fill="#3a2424"/>
<rect x="1700.70" y="82.15" width="24.80" height="24.26" fill="#f8766d"/>
<rect x="1701.60" y="83.05" width="23.00" height="22.46" fill="none" stroke="#140c0c" stroke-opacity="0.8" stroke-width="1.8"/>
<text transform="translate(1737.00,100.72) scale(1,1.04)" font-size="15.7" fill="#383838" stroke="#383838" stroke-width="0.3">CASNDRHNEQFF</text>
<rect x="1700.70" y="106.91" width="24.80" height="24.26" fill="#ed813e"/>
<rect x="1701.60" y="107.81" width="23.00" height="22.46" fill="none" stroke="#140c0c" stroke-opacity="0.8" stroke-width="1.8"/>
<text transform="translate(1737.00,125.52) scale(1,1.04)" font-size="15.7" fill="#383838" stroke="#383838" stroke-width="0.3">CASSLGGGRPETQYF</text>
<rect x="1700.70" y="131.67" width="24.80" height="24.26" fill="#de8c00"/>
<rect x="1701.60" y="132.57" width="23.00" height="22.46" fill="none" stroke="#140c0c" stroke-opacity="0.8" stroke-width="1.8"/>
<text transform="translate(1737.00,150.32) scale(1,1.04)" font-size="15.7" fill="#383838" stroke="#383838" stroke-width="0.3">CASSQEKTGPFYGYTF</text>
<rect x="1700.70" y="156.43" width="24.80" height="24.26" fill="#cd9600"/>
<rect x="1701.60" y="157.33" width="23.00" height="22.46" fill="none" stroke="#140c0c" stroke-opacity="0.8" stroke-width="1.8"/>
<text transform="translate(1737.00,175.12) scale(1,1.04)" font-size="15.7" fill="#383838" stroke="#383838" stroke-width="0.3">CASSQERHAGYEQYF</text>
<rect x="1700.70" y="181.19" width="24.80" height="24.26" fill="#b79f00"/>
<rect x="1701.60" y="182.09" width="23.00" height="22.46" fill="none" stroke="#140c0c" stroke-opacity="0.8" stroke-width="1.8"/>
<text transform="translate(1737.00,199.92) scale(1,1.04)" font-size="15.7" fill="#383838" stroke="#383838" stroke-width="0.3">CASSQERTSGVLRTQYF</text>
<rect x="1700.70" y="205.95" width="24.80" height="24.26" fill="#9da700"/>
<rect x="1701.60" y="206.85" width="23.00" height="22.46" fill="none" stroke="#140c0c" stroke-opacity="0.8" stroke-width="1.8"/>
<text transform="translate(1737.00,224.72) scale(1,1.04)" font-size="15.7" fill="#383838" stroke="#383838" stroke-width="0.3">CASSQERTSPHYGYTF</text>
<rect x="1700.70" y="230.71" width="24.80" height="24.26" fill="#7cae00"/>
<rect x="1701.60" y="231.61" width="23.00" height="22.46" fill="none" stroke="#140c0c" stroke-opacity="0.8" stroke-width="1.8"/>
<text transform="translate(1737.00,249.52) scale(1,1.04)" font-size="15.7" fill="#383838" stroke="#383838" stroke-width="0.3">CASSVTGTGDYSPLHF</text>
<rect x="1700.70" y="255.47" width="24.80" height="24.26" fill="#49b500"/>
<rect x="1701.60" y="256.37" width="23.00" height="22.46" fill="none" stroke="#140c0c" stroke-opacity="0.8" stroke-width="1.8"/>
<text transform="translate(1737.00,274.32) scale(1,1.04)" font-size="15.7" fill="#383838" stroke="#383838" stroke-width="0.3">CATSAVSGGKYNEQFF</text>
<rect x="1700.70" y="280.23" width="24.80" height="24.26" fill="#00ba38"/>
<rect x="1701.60" y="281.13" width="23.00" height="22.46" fill="none" stroke="#140c0c" stroke-opacity="0.8" stroke-width="1.8"/>
<text transform="translate(1737.00,299.12) scale(1,1.04)" font-size="15.7" fill="#383838" stroke="#383838" stroke-width="0.3">CATSAVSGGNYNEQFF</text>
<rect x="1700.70" y="304.99" width="24.80" height="24.26" fill="#00be67"/>
<rect x="1701.60" y="305.89" width="23.00" height="22.46" fill="none" stroke="#140c0c" stroke-opacity="0.8" stroke-width="1.8"/>
<text transform="translate(1737.00,323.92) scale(1,1.04)" font-size="15.7" fill="#383838" stroke="#383838" stroke-width="0.3">CATSDPGQGDYNEQFF</text>
<rect x="1700.70" y="329.75" width="24.80" height="24.26" fill="#00c08b"/>
<rect x="1701.60" y="330.65" width="23.00" height="22.46" fill="none" stroke="#140c0c" stroke-opacity="0.8" stroke-width="1.8"/>
<text transform="translate(1737.00,348.72) scale(1,1.04)" font-size="15.7" fill="#383838" stroke="#383838" stroke-width="0.3">CATSDPRQGDNQPQHF</text>
<rect x="1700.70" y="354.51" width="24.80" height="24.26" fill="#00c1a9"/>
<rect x="1701.60" y="355.41" width="23.00" height="22.46" fill="none" stroke="#140c0c" stroke-opacity="0.8" stroke-width="1.8"/>
<text transform="translate(1737.00,373.52) scale(1,1.04)" font-size="15.7" fill="#383838" stroke="#383838" stroke-width="0.3">CATSEPAGGNYNEQFF</text>
<rect x="1700.70" y="379.27" width="24.80" height="24.26" fill="#00bfc4"/>
<rect x="1701.60" y="380.17" width="23.00" height="22.46" fill="none" stroke="#140c0c" stroke-opacity="0.8" stroke-width="1.8"/>
<text transform="translate(1737.00,398.32) scale(1,1.04)" font-size="15.7" fill="#383838" stroke="#383838" stroke-width="0.3">CSAPIAWDSNQPQHF</text>
<rect x="1700.70" y="404.03" width="24.80" height="24.26" fill="#00bbdc"/>
<rect x="1701.60" y="404.93" width="23.00" height="22.46" fill="none" stroke="#140c0c" stroke-opacity="0.8" stroke-width="1.8"/>
<text transform="translate(1737.00,423.12) scale(1,1.04)" font-size="15.7" fill="#383838" stroke="#383838" stroke-width="0.3">CSAPRGSNEKLFF</text>
<rect x="1700.70" y="428.79" width="24.80" height="24.26" fill="#00b4f0"/>
<rect x="1701.60" y="429.69" width="23.00" height="22.46" fill="none" stroke="#140c0c" stroke-opacity="0.8" stroke-width="1.8"/>
<text transform="translate(1737.00,447.92) scale(1,1.04)" font-size="15.7" fill="#383838" stroke="#383838" stroke-width="0.3">CSAQVGQPQHF</text>
<rect x="1700.70" y="453.55" width="24.80" height="24.26" fill="#00a9ff"/>
<rect x="1701.60" y="454.45" width="23.00" height="22.46" fill="none" stroke="#140c0c" stroke-opacity="0.8" stroke-width="1.8"/>
<text transform="translate(1737.00,472.72) scale(1,1.04)" font-size="15.7" fill="#383838" stroke="#383838" stroke-width="0.3">CSARDRQGAAMNNEAFF</text>
<rect x="1700.70" y="478.31" width="24.80" height="24.26" fill="#619cff"/>
<rect x="1701.60" y="479.21" width="23.00" height="22.46" fill="none" stroke="#140c0c" stroke-opacity="0.8" stroke-width="1.8"/>
<text transform="translate(1737.00,497.52) scale(1,1.04)" font-size="15.7" fill="#383838" stroke="#383838" stroke-width="0.3">CSARDRQGAAMNTEAFF</text>
<rect x="1700.70" y="503.07" width="24.80" height="24.26" fill="#9f8cff"/>
<rect x="1701.60" y="503.97" width="23.00" height="22.46" fill="none" stroke="#140c0c" stroke-opacity="0.8" stroke-width="1.8"/>
<text transform="translate(1737.00,522.32) scale(1,1.04)" font-size="15.7" fill="#383838" stroke="#383838" stroke-width="0.3">CSARGFWGTGQETQYF</text>
<rect x="1700.70" y="527.83" width="24.80" height="24.26" fill="#c77cff"/>
<rect x="1701.60" y="528.73" width="23.00" height="22.46" fill="none" stroke="#140c0c" stroke-opacity="0.8" stroke-width="1.8"/>
<text transform="translate(1737.00,547.12) scale(1,1.04)" font-size="15.7" fill="#383838" stroke="#383838" stroke-width="0.3">CSARKPAGNTEAFF</text>
<rect x="1700.70" y="552.59" width="24.80" height="24.26" fill="#e36ef6"/>
<rect x="1701.60" y="553.49" width="23.00" height="22.46" fill="none" stroke="#140c0c" stroke-opacity="0.8" stroke-width="1.8"/>
<text transform="translate(1737.00,571.92) scale(1,1.04)" font-size="15.7" fill="#383838" stroke="#383838" stroke-width="0.3">CSASNRTSGGYTF</text>
<rect x="1700.70" y="577.35" width="24.80" height="24.26" fill="#f564e3"/>
<rect x="1701.60" y="578.25" width="23.00" height="22.46" fill="none" stroke="#140c0c" stroke-opacity="0.8" stroke-width="1.8"/>
<text transform="translate(1737.00,596.72) scale(1,1.04)" font-size="15.7" fill="#383838" stroke="#383838" stroke-width="0.3">CSATDRVGYGYTF</text>
<rect x="1700.70" y="602.11" width="24.80" height="24.26" fill="#ff61cc"/>
<rect x="1701.60" y="603.01" width="23.00" height="22.46" fill="none" stroke="#140c0c" stroke-opacity="0.8" stroke-width="1.8"/>
<text transform="translate(1737.00,621.52) scale(1,1.04)" font-size="15.7" fill="#383838" stroke="#383838" stroke-width="0.3">CSATDRVNTGELFF</text>
<rect x="1700.70" y="626.87" width="24.80" height="24.26" fill="#ff64b0"/>
<rect x="1701.60" y="627.77" width="23.00" height="22.46" fill="none" stroke="#140c0c" stroke-opacity="0.8" stroke-width="1.8"/>
<text transform="translate(1737.00,646.32) scale(1,1.04)" font-size="15.7" fill="#383838" stroke="#383838" stroke-width="0.3">CSATRDASSYNEQFF</text>
<rect x="1700.70" y="651.63" width="24.80" height="24.26" fill="#ff6c91"/>
<rect x="1701.60" y="652.53" width="23.00" height="22.46" fill="none" stroke="#140c0c" stroke-opacity="0.8" stroke-width="1.8"/>
<text transform="translate(1737.00,671.12) scale(1,1.04)" font-size="15.7" fill="#383838" stroke="#383838" stroke-width="0.3">CSATRDGGNTYGYTF</text>
</g>
<g>
<line x1="224.6" y1="1469.1" x2="726.5" y2="1469.1" stroke="#c6c6c6" stroke-width="1.4" stroke-dasharray="5.5 4.96"/>
<line x1="224.6" y1="1349.6" x2="726.5" y2="1349.6" stroke="#c6c6c6" stroke-width="1.4" stroke-dasharray="5.5 4.96"/>
<line x1="224.6" y1="1230.2" x2="726.5" y2="1230.2" stroke="#c6c6c6" stroke-width="1.4" stroke-dasharray="5.5 4.96"/>
<line x1="224.6" y1="1110.7" x2="726.5" y2="1110.7" stroke="#c6c6c6" stroke-width="1.4" stroke-dasharray="5.5 4.96"/>
<line x1="224.6" y1="991.2" x2="726.5" y2="991.2" stroke="#c6c6c6" stroke-width="1.4" stroke-dasharray="5.5 4.96"/>
<g opacity="0.5" filter="url(#soft)">
<path d="M407.7,1158.4 407.9,1158.4 408.9,1158.2 411.4,1157.7 415.3,1156.8 420.0,1155.4 425.1,1153.6 430.1,1151.3 434.8,1148.6 439.1,1145.3 443.2,1141.3 447.3,1136.4 451.4,1130.5 455.9,1123.6 460.6,1115.6 465.7,1106.6 471.2,1096.6 476.9,1085.9 482.7,1074.8 488.5,1063.7 494.2,1053.0 499.7,1043.0 504.8,1034.0 509.5,1026.0 514.0,1019.1 518.1,1013.2 522.2,1008.3 526.3,1004.3 530.6,1001.0 535.3,998.3 540.3,996.0 545.4,994.2 550.1,992.8 554.0,991.9 556.5,991.4 557.5,991.2 557.7,991.2 557.7,1293.7 557.5,1293.7 556.5,1293.7 554.0,1293.8 550.1,1293.9 545.4,1294.1 540.3,1294.4 535.3,1294.7 530.6,1295.1 526.3,1295.5 522.2,1296.1 518.1,1296.8 514.0,1297.6 509.5,1298.5 504.8,1299.6 499.7,1300.9 494.2,1302.3 488.5,1303.8 482.7,1305.3 476.9,1306.8 471.2,1308.3 465.7,1309.7 460.6,1311.0 455.9,1312.1 451.4,1313.0 447.3,1313.8 443.2,1314.5 439.1,1315.1 434.8,1315.5 430.1,1315.9 425.1,1316.2 420.0,1316.5 415.3,1316.7 411.4,1316.8 408.9,1316.9 407.9,1316.9 407.7,1316.9Z" fill="#f47670"/>
<path d="M407.7,1316.2 407.9,1316.2 408.9,1316.2 411.4,1316.1 415.3,1316.0 420.0,1315.8 425.1,1315.5 430.1,1315.2 434.8,1314.8 439.1,1314.4 443.2,1313.8 447.3,1313.1 451.4,1312.3 455.9,1311.4 460.6,1310.3 465.7,1309.0 471.2,1307.6 476.9,1306.1 482.7,1304.6 488.5,1303.1 494.2,1301.6 499.7,1300.2 504.8,1298.9 509.5,1297.8 514.0,1296.9 518.1,1296.1 522.2,1295.4 526.3,1294.8 530.6,1294.4 535.3,1294.0 540.3,1293.7 545.4,1293.4 550.1,1293.2 554.0,1293.1 556.5,1293.0 557.5,1293.0 557.7,1293.0 557.7,1306.9 557.5,1306.9 556.5,1306.9 554.0,1306.9 550.1,1307.0 545.4,1307.1 540.3,1307.2 535.3,1307.3 530.6,1307.5 526.3,1307.7 522.2,1307.9 518.1,1308.2 514.0,1308.6 509.5,1309.0 504.8,1309.5 499.7,1310.0 494.2,1310.6 488.5,1311.2 482.7,1311.9 476.9,1312.6 471.2,1313.2 465.7,1313.8 460.6,1314.3 455.9,1314.8 451.4,1315.2 447.3,1315.6 443.2,1315.9 439.1,1316.1 434.8,1316.3 430.1,1316.5 425.1,1316.6 420.0,1316.7 415.3,1316.8 411.4,1316.9 408.9,1316.9 407.9,1316.9 407.7,1316.9Z" fill="#de922e"/>
<path d="M407.7,1316.2 407.9,1316.2 408.9,1316.2 411.4,1316.2 415.3,1316.1 420.0,1316.0 425.1,1315.9 430.1,1315.8 434.8,1315.6 439.1,1315.4 443.2,1315.2 447.3,1314.9 451.4,1314.5 455.9,1314.1 460.6,1313.6 465.7,1313.1 471.2,1312.5 476.9,1311.9 482.7,1311.2 488.5,1310.5 494.2,1309.9 499.7,1309.3 504.8,1308.8 509.5,1308.3 514.0,1307.9 518.1,1307.5 522.2,1307.2 526.3,1307.0 530.6,1306.8 535.3,1306.6 540.3,1306.5 545.4,1306.4 550.1,1306.3 554.0,1306.2 556.5,1306.2 557.5,1306.2 557.7,1306.2 557.7,1319.2 557.5,1319.2 556.5,1319.2 554.0,1319.2 550.1,1319.2 545.4,1319.2 540.3,1319.3 535.3,1319.3 530.6,1319.3 526.3,1319.3 522.2,1319.4 518.1,1319.5 514.0,1319.5 509.5,1319.6 504.8,1319.7 499.7,1319.8 494.2,1319.9 488.5,1320.0 482.7,1320.2 476.9,1320.3 471.2,1320.4 465.7,1320.5 460.6,1320.6 455.9,1320.7 451.4,1320.8 447.3,1320.8 443.2,1320.9 439.1,1321.0 434.8,1321.0 430.1,1321.0 425.1,1321.0 420.0,1321.1 415.3,1321.1 411.4,1321.1 408.9,1321.1 407.9,1321.1 407.7,1321.1Z" fill="#b4a53d"/>
<path d="M407.7,1320.4 407.9,1320.4 408.9,1320.4 411.4,1320.4 415.3,1320.4 420.0,1320.4 425.1,1320.3 430.1,1320.3 434.8,1320.3 439.1,1320.3 443.2,1320.2 447.3,1320.1 451.4,1320.1 455.9,1320.0 460.6,1319.9 465.7,1319.8 471.2,1319.7 476.9,1319.6 482.7,1319.5 488.5,1319.3 494.2,1319.2 499.7,1319.1 504.8,1319.0 509.5,1318.9 514.0,1318.8 518.1,1318.8 522.2,1318.7 526.3,1318.6 530.6,1318.6 535.3,1318.6 540.3,1318.6 545.4,1318.5 550.1,1318.5 554.0,1318.5 556.5,1318.5 557.5,1318.5 557.7,1318.5 557.7,1332.0 557.5,1332.0 556.5,1332.0 554.0,1332.0 550.1,1331.9 545.4,1331.8 540.3,1331.7 535.3,1331.5 530.6,1331.4 526.3,1331.1 522.2,1330.9 518.1,1330.6 514.0,1330.2 509.5,1329.7 504.8,1329.2 499.7,1328.6 494.2,1328.0 488.5,1327.3 482.7,1326.6 476.9,1325.8 471.2,1325.1 465.7,1324.5 460.6,1323.9 455.9,1323.4 451.4,1322.9 447.3,1322.5 443.2,1322.2 439.1,1322.0 434.8,1321.7 430.1,1321.6 425.1,1321.4 420.0,1321.3 415.3,1321.2 411.4,1321.1 408.9,1321.1 407.9,1321.1 407.7,1321.1Z" fill="#6ab445"/>
<path d="M407.7,1320.4 407.9,1320.4 408.9,1320.4 411.4,1320.4 415.3,1320.5 420.0,1320.6 425.1,1320.7 430.1,1320.9 434.8,1321.0 439.1,1321.3 443.2,1321.5 447.3,1321.8 451.4,1322.2 455.9,1322.7 460.6,1323.2 465.7,1323.8 471.2,1324.4 476.9,1325.1 482.7,1325.8 488.5,1326.6 494.2,1327.3 499.7,1327.9 504.8,1328.5 509.5,1329.0 514.0,1329.5 518.1,1329.9 522.2,1330.2 526.3,1330.4 530.6,1330.7 535.3,1330.8 540.3,1331.0 545.4,1331.1 550.1,1331.2 554.0,1331.3 556.5,1331.3 557.5,1331.3 557.7,1331.3 557.7,1357.1 557.5,1357.1 556.5,1357.1 554.0,1357.0 550.1,1356.8 545.4,1356.6 540.3,1356.3 535.3,1356.0 530.6,1355.6 526.3,1355.0 522.2,1354.4 518.1,1353.7 514.0,1352.7 509.5,1351.6 504.8,1350.4 499.7,1349.0 494.2,1347.4 488.5,1345.7 482.7,1344.0 476.9,1342.3 471.2,1340.6 465.7,1339.0 460.6,1337.6 455.9,1336.4 451.4,1335.3 447.3,1334.3 443.2,1333.6 439.1,1333.0 434.8,1332.4 430.1,1332.0 425.1,1331.7 420.0,1331.4 415.3,1331.2 411.4,1331.0 408.9,1330.9 407.9,1330.9 407.7,1330.9Z" fill="#30b35c"/>
<path d="M407.7,1330.2 407.9,1330.2 408.9,1330.2 411.4,1330.3 415.3,1330.5 420.0,1330.7 425.1,1331.0 430.1,1331.3 434.8,1331.7 439.1,1332.3 443.2,1332.9 447.3,1333.6 451.4,1334.6 455.9,1335.7 460.6,1336.9 465.7,1338.3 471.2,1339.9 476.9,1341.6 482.7,1343.3 488.5,1345.0 494.2,1346.7 499.7,1348.3 504.8,1349.7 509.5,1350.9 514.0,1352.0 518.1,1353.0 522.2,1353.7 526.3,1354.3 530.6,1354.9 535.3,1355.3 540.3,1355.6 545.4,1355.9 550.1,1356.1 554.0,1356.3 556.5,1356.4 557.5,1356.4 557.7,1356.4 557.7,1369.6 557.5,1369.6 556.5,1369.6 554.0,1369.5 550.1,1369.4 545.4,1369.2 540.3,1369.0 535.3,1368.7 530.6,1368.4 526.3,1368.0 522.2,1367.5 518.1,1366.9 514.0,1366.2 509.5,1365.3 504.8,1364.4 499.7,1363.2 494.2,1362.0 488.5,1360.7 482.7,1359.4 476.9,1358.0 471.2,1356.7 465.7,1355.5 460.6,1354.3 455.9,1353.4 451.4,1352.5 447.3,1351.8 443.2,1351.2 439.1,1350.7 434.8,1350.3 430.1,1350.0 425.1,1349.7 420.0,1349.5 415.3,1349.3 411.4,1349.2 408.9,1349.1 407.9,1349.1 407.7,1349.1Z" fill="#21bba1"/>
<path d="M407.7,1348.4 407.9,1348.4 408.9,1348.4 411.4,1348.5 415.3,1348.6 420.0,1348.8 425.1,1349.0 430.1,1349.3 434.8,1349.6 439.1,1350.0 443.2,1350.5 447.3,1351.1 451.4,1351.8 455.9,1352.7 460.6,1353.6 465.7,1354.8 471.2,1356.0 476.9,1357.3 482.7,1358.7 488.5,1360.0 494.2,1361.3 499.7,1362.5 504.8,1363.7 509.5,1364.6 514.0,1365.5 518.1,1366.2 522.2,1366.8 526.3,1367.3 530.6,1367.7 535.3,1368.0 540.3,1368.3 545.4,1368.5 550.1,1368.7 554.0,1368.8 556.5,1368.9 557.5,1368.9 557.7,1368.9 557.7,1407.3 557.5,1407.3 556.5,1407.2 554.0,1407.1 550.1,1406.8 545.4,1406.4 540.3,1405.9 535.3,1405.3 530.6,1404.5 526.3,1403.5 522.2,1402.4 518.1,1401.0 514.0,1399.3 509.5,1397.3 504.8,1395.0 499.7,1392.4 494.2,1389.5 488.5,1386.4 482.7,1383.2 476.9,1380.0 471.2,1376.9 465.7,1374.0 460.6,1371.4 455.9,1369.1 451.4,1367.1 447.3,1365.4 443.2,1364.0 439.1,1362.9 434.8,1361.9 430.1,1361.1 425.1,1360.5 420.0,1360.0 415.3,1359.6 411.4,1359.3 408.9,1359.2 407.9,1359.1 407.7,1359.1Z" fill="#1eb8de"/>
<path d="M407.7,1358.4 407.9,1358.4 408.9,1358.5 411.4,1358.6 415.3,1358.9 420.0,1359.3 425.1,1359.8 430.1,1360.4 434.8,1361.2 439.1,1362.2 443.2,1363.3 447.3,1364.7 451.4,1366.4 455.9,1368.4 460.6,1370.7 465.7,1373.3 471.2,1376.2 476.9,1379.3 482.7,1382.5 488.5,1385.7 494.2,1388.8 499.7,1391.7 504.8,1394.3 509.5,1396.6 514.0,1398.6 518.1,1400.3 522.2,1401.7 526.3,1402.8 530.6,1403.8 535.3,1404.6 540.3,1405.2 545.4,1405.7 550.1,1406.1 554.0,1406.4 556.5,1406.5 557.5,1406.6 557.7,1406.6 557.7,1432.8 557.5,1432.8 556.5,1432.8 554.0,1432.8 550.1,1432.9 545.4,1433.0 540.3,1433.1 535.3,1433.2 530.6,1433.3 526.3,1433.5 522.2,1433.7 518.1,1434.0 514.0,1434.3 509.5,1434.7 504.8,1435.1 499.7,1435.6 494.2,1436.2 488.5,1436.7 482.7,1437.3 476.9,1438.0 471.2,1438.5 465.7,1439.1 460.6,1439.6 455.9,1440.0 451.4,1440.4 447.3,1440.7 443.2,1441.0 439.1,1441.2 434.8,1441.4 430.1,1441.5 425.1,1441.6 420.0,1441.7 415.3,1441.8 411.4,1441.9 408.9,1441.9 407.9,1441.9 407.7,1441.9Z" fill="#489ed8"/>
<path d="M407.7,1441.2 407.9,1441.2 408.9,1441.2 411.4,1441.2 415.3,1441.1 420.0,1441.0 425.1,1440.9 430.1,1440.8 434.8,1440.7 439.1,1440.5 443.2,1440.3 447.3,1440.0 451.4,1439.7 455.9,1439.3 460.6,1438.9 465.7,1438.4 471.2,1437.8 476.9,1437.3 482.7,1436.7 488.5,1436.0 494.2,1435.5 499.7,1434.9 504.8,1434.4 509.5,1434.0 514.0,1433.6 518.1,1433.3 522.2,1433.0 526.3,1432.8 530.6,1432.6 535.3,1432.5 540.3,1432.4 545.4,1432.3 550.1,1432.2 554.0,1432.1 556.5,1432.1 557.5,1432.1 557.7,1432.1 557.7,1445.1 557.5,1445.1 556.5,1445.1 554.0,1445.2 550.1,1445.3 545.4,1445.5 540.3,1445.8 535.3,1446.1 530.6,1446.6 526.3,1447.0 522.2,1447.6 518.1,1448.4 514.0,1449.2 509.5,1450.2 504.8,1451.4 499.7,1452.8 494.2,1454.2 488.5,1455.8 482.7,1457.5 476.9,1459.1 471.2,1460.7 465.7,1462.1 460.6,1463.5 455.9,1464.7 451.4,1465.7 447.3,1466.5 443.2,1467.3 439.1,1467.9 434.8,1468.3 430.1,1468.8 425.1,1469.1 420.0,1469.4 415.3,1469.6 411.4,1469.7 408.9,1469.8 407.9,1469.8 407.7,1469.8Z" fill="#a086c0"/>
<path d="M407.7,1469.1 407.9,1469.1 408.9,1469.1 411.4,1469.0 415.3,1468.9 420.0,1468.7 425.1,1468.4 430.1,1468.1 434.8,1467.6 439.1,1467.2 443.2,1466.6 447.3,1465.8 451.4,1465.0 455.9,1464.0 460.6,1462.8 465.7,1461.4 471.2,1460.0 476.9,1458.4 482.7,1456.8 488.5,1455.1 494.2,1453.5 499.7,1452.1 504.8,1450.7 509.5,1449.5 514.0,1448.5 518.1,1447.7 522.2,1446.9 526.3,1446.3 530.6,1445.9 535.3,1445.4 540.3,1445.1 545.4,1444.8 550.1,1444.6 554.0,1444.5 556.5,1444.4 557.5,1444.4 557.7,1444.4 557.7,1458.0 557.5,1458.0 556.5,1458.0 554.0,1458.0 550.1,1458.1 545.4,1458.2 540.3,1458.3 535.3,1458.5 530.6,1458.7 526.3,1458.9 522.2,1459.2 518.1,1459.6 514.0,1460.0 509.5,1460.5 504.8,1461.0 499.7,1461.7 494.2,1462.4 488.5,1463.1 482.7,1463.9 476.9,1464.7 471.2,1465.4 465.7,1466.1 460.6,1466.8 455.9,1467.3 451.4,1467.8 447.3,1468.2 443.2,1468.6 439.1,1468.9 434.8,1469.1 430.1,1469.3 425.1,1469.5 420.0,1469.6 415.3,1469.7 411.4,1469.8 408.9,1469.8 407.9,1469.8 407.7,1469.8Z" fill="#c574b1"/>
<path d="M407.7,1469.1 407.9,1469.1 408.9,1469.1 411.4,1469.1 415.3,1469.0 420.0,1468.9 425.1,1468.8 430.1,1468.6 434.8,1468.4 439.1,1468.2 443.2,1467.9 447.3,1467.5 451.4,1467.1 455.9,1466.6 460.6,1466.1 465.7,1465.4 471.2,1464.7 476.9,1464.0 482.7,1463.2 488.5,1462.4 494.2,1461.7 499.7,1461.0 504.8,1460.3 509.5,1459.8 514.0,1459.3 518.1,1458.9 522.2,1458.5 526.3,1458.2 530.6,1458.0 535.3,1457.8 540.3,1457.6 545.4,1457.5 550.1,1457.4 554.0,1457.3 556.5,1457.3 557.5,1457.3 557.7,1457.3 557.7,1469.1 557.5,1469.1 556.5,1469.1 554.0,1469.1 550.1,1469.1 545.4,1469.1 540.3,1469.1 535.3,1469.1 530.6,1469.1 526.3,1469.1 522.2,1469.1 518.1,1469.1 514.0,1469.1 509.5,1469.1 504.8,1469.1 499.7,1469.1 494.2,1469.1 488.5,1469.1 482.7,1469.1 476.9,1469.1 471.2,1469.1 465.7,1469.1 460.6,1469.1 455.9,1469.1 451.4,1469.1 447.3,1469.1 443.2,1469.1 439.1,1469.1 434.8,1469.1 430.1,1469.1 425.1,1469.1 420.0,1469.1 415.3,1469.1 411.4,1469.1 408.9,1469.1 407.9,1469.1 407.7,1469.1Z" fill="#f068a5"/>
</g>
<rect x="332.6" y="991.2" width="75.1" height="167.2" fill="#939598" stroke="#3d3d3f" stroke-width="1.5"/>
<rect x="332.6" y="1158.4" width="75.1" height="157.8" fill="#f47670" stroke="#0a0a0a" stroke-opacity="0.88" stroke-width="1.5"/>
<rect x="332.6" y="1316.2" width="75.1" height="4.2" fill="#b4a53d" stroke="#0a0a0a" stroke-opacity="0.88" stroke-width="1.5"/>
<rect x="332.6" y="1320.4" width="75.1" height="9.8" fill="#30b35c" stroke="#0a0a0a" stroke-opacity="0.88" stroke-width="1.5"/>
<rect x="332.6" y="1330.2" width="75.1" height="18.2" fill="#21bba1" stroke="#0a0a0a" stroke-opacity="0.88" stroke-width="1.5"/>
<rect x="332.6" y="1348.4" width="75.1" height="10.0" fill="#1eb8de" stroke="#0a0a0a" stroke-opacity="0.88" stroke-width="1.5"/>
<rect x="332.6" y="1358.4" width="75.1" height="82.8" fill="#489ed8" stroke="#0a0a0a" stroke-opacity="0.88" stroke-width="1.5"/>
<rect x="332.6" y="1441.2" width="75.1" height="27.9" fill="#a086c0" stroke="#0a0a0a" stroke-opacity="0.88" stroke-width="1.5"/>
<rect x="557.7" y="991.2" width="76.1" height="301.8" fill="#f47670" stroke="#0a0a0a" stroke-opacity="0.88" stroke-width="1.5"/>
<rect x="557.7" y="1293.0" width="76.1" height="13.2" fill="#de922e" stroke="#0a0a0a" stroke-opacity="0.88" stroke-width="1.5"/>
<rect x="557.7" y="1306.2" width="76.1" height="12.3" fill="#b4a53d" stroke="#0a0a0a" stroke-opacity="0.88" stroke-width="1.5"/>
<rect x="557.7" y="1318.5" width="76.1" height="12.8" fill="#6ab445" stroke="#0a0a0a" stroke-opacity="0.88" stroke-width="1.5"/>
<rect x="557.7" y="1331.3" width="76.1" height="25.1" fill="#30b35c" stroke="#0a0a0a" stroke-opacity="0.88" stroke-width="1.5"/>
<rect x="557.7" y="1356.4" width="76.1" height="12.5" fill="#21bba1" stroke="#0a0a0a" stroke-opacity="0.88" stroke-width="1.5"/>
<rect x="557.7" y="1368.9" width="76.1" height="37.7" fill="#1eb8de" stroke="#0a0a0a" stroke-opacity="0.88" stroke-width="1.5"/>
<rect x="557.7" y="1406.6" width="76.1" height="25.5" fill="#489ed8" stroke="#0a0a0a" stroke-opacity="0.88" stroke-width="1.5"/>
<rect x="557.7" y="1432.1" width="76.1" height="12.3" fill="#a086c0" stroke="#0a0a0a" stroke-opacity="0.88" stroke-width="1.5"/>
<rect x="557.7" y="1444.4" width="76.1" height="12.9" fill="#c574b1" stroke="#0a0a0a" stroke-opacity="0.88" stroke-width="1.5"/>
<rect x="557.7" y="1457.3" width="76.1" height="11.8" fill="#f068a5" stroke="#0a0a0a" stroke-opacity="0.88" stroke-width="1.5"/>
<line x1="225.3" y1="968.0" x2="225.3" y2="1493.9" stroke="#111" stroke-width="1.9"/>
<line x1="224.4" y1="1493.2" x2="727.9" y2="1493.2" stroke="#888888" stroke-width="2.4"/>
<line x1="224.4" y1="1493.2" x2="233.3" y2="1493.2" stroke="#111" stroke-width="1.9"/>
<line x1="370.1" y1="1493.2" x2="370.1" y2="1495.6" stroke="#707070" stroke-width="1.1"/>
<line x1="595.8" y1="1493.2" x2="595.8" y2="1495.6" stroke="#707070" stroke-width="1.1"/>
<line x1="219.3" y1="1469.1" x2="225.3" y2="1469.1" stroke="#111" stroke-width="1.5"/>
<line x1="219.3" y1="1349.6" x2="225.3" y2="1349.6" stroke="#111" stroke-width="1.5"/>
<line x1="219.3" y1="1230.2" x2="225.3" y2="1230.2" stroke="#111" stroke-width="1.5"/>
<line x1="219.3" y1="1110.7" x2="225.3" y2="1110.7" stroke="#111" stroke-width="1.5"/>
<line x1="219.3" y1="991.2" x2="225.3" y2="991.2" stroke="#111" stroke-width="1.5"/>
<text transform="translate(207.10,995.60) scale(1,1.04)" font-size="33.5" text-anchor="end" stroke="#000" stroke-width="0.5">1.00</text>
<text transform="translate(213.40,1113.40) scale(1,1.04)" font-size="33.5" text-anchor="end" stroke="#000" stroke-width="0.5">0.75</text>
<text transform="translate(213.40,1236.60) scale(1,1.04)" font-size="33.5" text-anchor="end" stroke="#000" stroke-width="0.5">0.50</text>
<text transform="translate(214.10,1356.70) scale(1,1.04)" font-size="33.5" text-anchor="end" stroke="#000" stroke-width="0.5">0.25</text>
<text transform="translate(213.40,1475.00) scale(1,1.04)" font-size="33.5" text-anchor="end" stroke="#000" stroke-width="0.5">0.00</text>
<text transform="translate(123.40,1238.00) rotate(-90) scale(1,1.04)" font-size="33.5" text-anchor="middle" stroke="#000" stroke-width="0.5">Proportion</text>
<text transform="translate(432.80,944.00) scale(1,1.04)" font-size="50" text-anchor="middle" stroke="#000" stroke-width="0.6">CP60</text>
<text transform="translate(269.60,1541.90) scale(1,1.04)" font-size="33.5" stroke="#000" stroke-width="0.5">CXCR5</text>
<text transform="translate(383.30,1533.30) scale(1,1.04)" font-size="21" stroke="#000" stroke-width="0.5">-</text>
<text transform="translate(399.70,1541.90) scale(1,1.04)" font-size="33.5" stroke="#000" stroke-width="0.5">T</text>
<text transform="translate(420.30,1546.00) scale(1,1.04)" font-size="21.5" stroke="#000" stroke-width="0.5" letter-spacing="1">mem</text>
<text transform="translate(600.70,1541.90) scale(1,1.04)" font-size="33.5" text-anchor="middle" stroke="#000" stroke-width="0.5">cTFH</text>
<text transform="translate(798.00,1021.50) scale(1,1.04)" font-size="25.2" stroke="#000" stroke-width="0.4">Clonotype</text>
<rect x="756.55" y="1046.60" width="23.40" height="271.38" fill="#3a2424"/>
<rect x="756.25" y="1046.25" width="24.00" height="24.28" fill="#f8766d"/>
<rect x="757.15" y="1047.15" width="22.20" height="22.48" fill="none" stroke="#140c0c" stroke-opacity="0.8" stroke-width="1.8"/>
<text transform="translate(792.30,1064.52) scale(1,1.04)" font-size="15.7" fill="#383838" stroke="#383838" stroke-width="0.3">CASSQDAGVRSPLHF</text>
<rect x="756.25" y="1071.03" width="24.00" height="24.28" fill="#db8e00"/>
<rect x="757.15" y="1071.93" width="22.20" height="22.48" fill="none" stroke="#140c0c" stroke-opacity="0.8" stroke-width="1.8"/>
<text transform="translate(792.30,1089.36) scale(1,1.04)" font-size="15.7" fill="#383838" stroke="#383838" stroke-width="0.3">CATSDFKTGDYNEQFF</text>
<rect x="756.25" y="1095.81" width="24.00" height="24.28" fill="#aea200"/>
<rect x="757.15" y="1096.71" width="22.20" height="22.48" fill="none" stroke="#140c0c" stroke-opacity="0.8" stroke-width="1.8"/>
<text transform="translate(792.30,1114.20) scale(1,1.04)" font-size="15.7" fill="#383838" stroke="#383838" stroke-width="0.3">CATSDPRTGDNQPQHF</text>
<rect x="756.25" y="1120.59" width="24.00" height="24.28" fill="#64b200"/>
<rect x="757.15" y="1121.49" width="22.20" height="22.48" fill="none" stroke="#140c0c" stroke-opacity="0.8" stroke-width="1.8"/>
<text transform="translate(792.30,1139.04) scale(1,1.04)" font-size="15.7" fill="#383838" stroke="#383838" stroke-width="0.3">CATSDPTRGDNQPQHF</text>
<rect x="756.25" y="1145.37" width="24.00" height="24.28" fill="#00bd5c"/>
<rect x="757.15" y="1146.27" width="22.20" height="22.48" fill="none" stroke="#140c0c" stroke-opacity="0.8" stroke-width="1.8"/>
<text transform="translate(792.30,1163.88) scale(1,1.04)" font-size="15.7" fill="#383838" stroke="#383838" stroke-width="0.3">CATSDVTSGDYNEQFF</text>
<rect x="756.25" y="1170.15" width="24.00" height="24.28" fill="#00c1a7"/>
<rect x="757.15" y="1171.05" width="22.20" height="22.48" fill="none" stroke="#140c0c" stroke-opacity="0.8" stroke-width="1.8"/>
<text transform="translate(792.30,1188.72) scale(1,1.04)" font-size="15.7" fill="#383838" stroke="#383838" stroke-width="0.3">CAWRIAGQGLRNEKLFF</text>
<rect x="756.25" y="1194.93" width="24.00" height="24.28" fill="#00bade"/>
<rect x="757.15" y="1195.83" width="22.20" height="22.48" fill="none" stroke="#140c0c" stroke-opacity="0.8" stroke-width="1.8"/>
<text transform="translate(792.30,1213.56) scale(1,1.04)" font-size="15.7" fill="#383838" stroke="#383838" stroke-width="0.3">CSAPRSWDRNSPLHF</text>
<rect x="756.25" y="1219.71" width="24.00" height="24.28" fill="#00a6ff"/>
<rect x="757.15" y="1220.61" width="22.20" height="22.48" fill="none" stroke="#140c0c" stroke-opacity="0.8" stroke-width="1.8"/>
<text transform="translate(792.30,1238.40) scale(1,1.04)" font-size="15.7" fill="#383838" stroke="#383838" stroke-width="0.3">CSARRGTEAFF</text>
<rect x="756.25" y="1244.49" width="24.00" height="24.28" fill="#b385ff"/>
<rect x="757.15" y="1245.39" width="22.20" height="22.48" fill="none" stroke="#140c0c" stroke-opacity="0.8" stroke-width="1.8"/>
<text transform="translate(792.30,1263.24) scale(1,1.04)" font-size="15.7" fill="#383838" stroke="#383838" stroke-width="0.3">CSATRDGGNTYGYTF</text>
<rect x="756.25" y="1269.27" width="24.00" height="24.28" fill="#ef67eb"/>
<rect x="757.15" y="1270.17" width="22.20" height="22.48" fill="none" stroke="#140c0c" stroke-opacity="0.8" stroke-width="1.8"/>
<text transform="translate(792.30,1288.08) scale(1,1.04)" font-size="15.7" fill="#383838" stroke="#383838" stroke-width="0.3">CSVDEGGPDTQYF</text>
<rect x="756.25" y="1294.05" width="24.00" height="24.28" fill="#ff63b6"/>
<rect x="757.15" y="1294.95" width="22.20" height="22.48" fill="none" stroke="#140c0c" stroke-opacity="0.8" stroke-width="1.8"/>
<text transform="translate(792.30,1312.92) scale(1,1.04)" font-size="15.7" fill="#383838" stroke="#383838" stroke-width="0.3">CSVDTSGPDTQYF</text>
</g>
<g>
<line x1="1212.5" y1="1480.9" x2="1691.6" y2="1480.9" stroke="#c6c6c6" stroke-width="1.4" stroke-dasharray="5.5 4.96"/>
<line x1="1212.5" y1="1361.3" x2="1691.6" y2="1361.3" stroke="#c6c6c6" stroke-width="1.4" stroke-dasharray="5.5 4.96"/>
<line x1="1212.5" y1="1241.7" x2="1691.6" y2="1241.7" stroke="#c6c6c6" stroke-width="1.4" stroke-dasharray="5.5 4.96"/>
<line x1="1212.5" y1="1122.0" x2="1691.6" y2="1122.0" stroke="#c6c6c6" stroke-width="1.4" stroke-dasharray="5.5 4.96"/>
<line x1="1212.5" y1="1002.4" x2="1691.6" y2="1002.4" stroke="#c6c6c6" stroke-width="1.4" stroke-dasharray="5.5 4.96"/>
<g opacity="0.5" filter="url(#soft)">
<path d="M1390.7,1263.5 1390.9,1263.5 1391.9,1263.2 1394.4,1262.4 1398.2,1261.0 1402.9,1258.9 1408.0,1256.0 1412.9,1252.4 1417.5,1248.1 1421.8,1243.0 1425.9,1236.7 1429.9,1229.1 1434.1,1220.0 1438.5,1209.2 1443.2,1196.7 1448.2,1182.5 1453.6,1166.9 1459.3,1150.2 1465.1,1133.0 1470.8,1115.7 1476.5,1099.0 1481.9,1083.4 1486.9,1069.2 1491.6,1056.7 1496.0,1045.9 1500.2,1036.8 1504.2,1029.2 1508.3,1022.9 1512.6,1017.8 1517.2,1013.5 1522.1,1009.9 1527.2,1007.0 1531.9,1004.9 1535.7,1003.5 1538.2,1002.7 1539.2,1002.4 1539.4,1002.4 1539.4,1028.3 1539.2,1028.3 1538.2,1028.6 1535.7,1029.3 1531.9,1030.6 1527.2,1032.6 1522.1,1035.2 1517.2,1038.5 1512.6,1042.5 1508.3,1047.2 1504.2,1053.0 1500.2,1060.0 1496.0,1068.5 1491.6,1078.5 1486.9,1090.0 1481.9,1103.1 1476.5,1117.5 1470.8,1132.9 1465.1,1148.9 1459.3,1164.9 1453.6,1180.3 1448.2,1194.7 1443.2,1207.8 1438.5,1219.3 1434.1,1229.3 1429.9,1237.8 1425.9,1244.8 1421.8,1250.5 1417.5,1255.3 1412.9,1259.3 1408.0,1262.6 1402.9,1265.2 1398.2,1267.2 1394.4,1268.5 1391.9,1269.2 1390.9,1269.5 1390.7,1269.5Z" fill="#f47670"/>
<path d="M1390.7,1268.8 1390.9,1268.8 1391.9,1268.5 1394.4,1267.8 1398.2,1266.5 1402.9,1264.5 1408.0,1261.9 1412.9,1258.6 1417.5,1254.6 1421.8,1249.8 1425.9,1244.1 1429.9,1237.1 1434.1,1228.6 1438.5,1218.6 1443.2,1207.1 1448.2,1194.0 1453.6,1179.6 1459.3,1164.2 1465.1,1148.2 1470.8,1132.2 1476.5,1116.8 1481.9,1102.4 1486.9,1089.3 1491.6,1077.8 1496.0,1067.8 1500.2,1059.3 1504.2,1052.3 1508.3,1046.5 1512.6,1041.8 1517.2,1037.8 1522.1,1034.5 1527.2,1031.9 1531.9,1029.9 1535.7,1028.6 1538.2,1027.9 1539.2,1027.6 1539.4,1027.6 1539.4,1053.5 1539.2,1053.5 1538.2,1053.7 1535.7,1054.4 1531.9,1055.5 1527.2,1057.3 1522.1,1059.7 1517.2,1062.6 1512.6,1066.2 1508.3,1070.5 1504.2,1075.6 1500.2,1081.9 1496.0,1089.5 1491.6,1098.4 1486.9,1108.7 1481.9,1120.5 1476.5,1133.4 1470.8,1147.2 1465.1,1161.5 1459.3,1175.8 1453.6,1189.6 1448.2,1202.5 1443.2,1214.2 1438.5,1224.6 1434.1,1233.5 1429.9,1241.1 1425.9,1247.3 1421.8,1252.5 1417.5,1256.8 1412.9,1260.4 1408.0,1263.3 1402.9,1265.7 1398.2,1267.4 1394.4,1268.6 1391.9,1269.2 1390.9,1269.5 1390.7,1269.5Z" fill="#f1823e"/>
<path d="M1390.7,1268.8 1390.9,1268.8 1391.9,1268.5 1394.4,1267.9 1398.2,1266.7 1402.9,1265.0 1408.0,1262.6 1412.9,1259.7 1417.5,1256.1 1421.8,1251.8 1425.9,1246.6 1429.9,1240.4 1434.1,1232.8 1438.5,1223.9 1443.2,1213.5 1448.2,1201.8 1453.6,1188.9 1459.3,1175.1 1465.1,1160.8 1470.8,1146.5 1476.5,1132.7 1481.9,1119.8 1486.9,1108.0 1491.6,1097.7 1496.0,1088.8 1500.2,1081.2 1504.2,1074.9 1508.3,1069.8 1512.6,1065.5 1517.2,1061.9 1522.1,1059.0 1527.2,1056.6 1531.9,1054.8 1535.7,1053.7 1538.2,1053.0 1539.2,1052.8 1539.4,1052.8 1539.4,1066.1 1539.2,1066.1 1538.2,1066.3 1535.7,1066.9 1531.9,1068.0 1527.2,1069.7 1522.1,1071.9 1517.2,1074.7 1512.6,1078.0 1508.3,1082.1 1504.2,1086.9 1500.2,1092.8 1496.0,1100.0 1491.6,1108.4 1486.9,1118.1 1481.9,1129.1 1476.5,1141.3 1470.8,1154.3 1465.1,1167.8 1459.3,1181.2 1453.6,1194.3 1448.2,1206.4 1443.2,1217.4 1438.5,1227.2 1434.1,1235.6 1429.9,1242.7 1425.9,1248.6 1421.8,1253.5 1417.5,1257.5 1412.9,1260.9 1408.0,1263.7 1402.9,1265.9 1398.2,1267.6 1394.4,1268.7 1391.9,1269.3 1390.9,1269.5 1390.7,1269.5Z" fill="#e19030"/>
<path d="M1390.7,1268.8 1390.9,1268.8 1391.9,1268.6 1394.4,1268.0 1398.2,1266.9 1402.9,1265.2 1408.0,1263.0 1412.9,1260.2 1417.5,1256.8 1421.8,1252.8 1425.9,1247.9 1429.9,1242.0 1434.1,1234.9 1438.5,1226.5 1443.2,1216.7 1448.2,1205.7 1453.6,1193.6 1459.3,1180.5 1465.1,1167.1 1470.8,1153.6 1476.5,1140.6 1481.9,1128.4 1486.9,1117.4 1491.6,1107.7 1496.0,1099.3 1500.2,1092.1 1504.2,1086.2 1508.3,1081.4 1512.6,1077.3 1517.2,1074.0 1522.1,1071.2 1527.2,1069.0 1531.9,1067.3 1535.7,1066.2 1538.2,1065.6 1539.2,1065.4 1539.4,1065.4 1539.4,1116.4 1539.2,1116.5 1538.2,1116.6 1535.7,1117.1 1531.9,1118.0 1527.2,1119.3 1522.1,1121.1 1517.2,1123.3 1512.6,1125.9 1508.3,1129.1 1504.2,1133.0 1500.2,1137.7 1496.0,1143.4 1491.6,1150.1 1486.9,1157.8 1481.9,1166.6 1476.5,1176.2 1470.8,1186.6 1465.1,1197.3 1459.3,1208.0 1453.6,1218.3 1448.2,1228.0 1443.2,1236.7 1438.5,1244.5 1434.1,1251.2 1429.9,1256.8 1425.9,1261.5 1421.8,1265.4 1417.5,1268.6 1412.9,1271.3 1408.0,1273.5 1402.9,1275.2 1398.2,1276.6 1394.4,1277.4 1391.9,1277.9 1390.9,1278.1 1390.7,1278.1Z" fill="#d1972d"/>
<path d="M1390.7,1277.4 1390.9,1277.4 1391.9,1277.2 1394.4,1276.7 1398.2,1275.9 1402.9,1274.5 1408.0,1272.8 1412.9,1270.6 1417.5,1267.9 1421.8,1264.7 1425.9,1260.8 1429.9,1256.1 1434.1,1250.5 1438.5,1243.8 1443.2,1236.0 1448.2,1227.3 1453.6,1217.6 1459.3,1207.3 1465.1,1196.6 1470.8,1185.9 1476.5,1175.5 1481.9,1165.9 1486.9,1157.1 1491.6,1149.4 1496.0,1142.7 1500.2,1137.0 1504.2,1132.3 1508.3,1128.4 1512.6,1125.2 1517.2,1122.6 1522.1,1120.4 1527.2,1118.6 1531.9,1117.3 1535.7,1116.4 1538.2,1115.9 1539.2,1115.8 1539.4,1115.7 1539.4,1129.0 1539.2,1129.0 1538.2,1129.2 1535.7,1129.6 1531.9,1130.4 1527.2,1131.7 1522.1,1133.3 1517.2,1135.3 1512.6,1137.8 1508.3,1140.7 1504.2,1144.3 1500.2,1148.6 1496.0,1153.9 1491.6,1160.0 1486.9,1167.2 1481.9,1175.2 1476.5,1184.2 1470.8,1193.7 1465.1,1203.6 1459.3,1213.4 1453.6,1223.0 1448.2,1231.9 1443.2,1240.0 1438.5,1247.1 1434.1,1253.3 1429.9,1258.5 1425.9,1262.8 1421.8,1266.4 1417.5,1269.3 1412.9,1271.8 1408.0,1273.8 1402.9,1275.5 1398.2,1276.7 1394.4,1277.5 1391.9,1277.9 1390.9,1278.1 1390.7,1278.1Z" fill="#bca138"/>
<path d="M1390.7,1277.4 1390.9,1277.4 1391.9,1277.2 1394.4,1276.8 1398.2,1276.0 1402.9,1274.8 1408.0,1273.1 1412.9,1271.1 1417.5,1268.6 1421.8,1265.7 1425.9,1262.1 1429.9,1257.8 1434.1,1252.6 1438.5,1246.4 1443.2,1239.3 1448.2,1231.2 1453.6,1222.3 1459.3,1212.7 1465.1,1202.9 1470.8,1193.0 1476.5,1183.5 1481.9,1174.5 1486.9,1166.5 1491.6,1159.3 1496.0,1153.2 1500.2,1147.9 1504.2,1143.6 1508.3,1140.0 1512.6,1137.1 1517.2,1134.6 1522.1,1132.6 1527.2,1131.0 1531.9,1129.7 1535.7,1128.9 1538.2,1128.5 1539.2,1128.3 1539.4,1128.3 1539.4,1204.6 1539.2,1204.6 1538.2,1204.7 1535.7,1205.1 1531.9,1205.9 1527.2,1207.0 1522.1,1208.5 1517.2,1210.3 1512.6,1212.6 1508.3,1215.2 1504.2,1218.5 1500.2,1222.4 1496.0,1227.2 1491.6,1232.8 1486.9,1239.3 1481.9,1246.6 1476.5,1254.7 1470.8,1263.4 1465.1,1272.4 1459.3,1281.4 1453.6,1290.0 1448.2,1298.1 1443.2,1305.5 1438.5,1312.0 1434.1,1317.6 1429.9,1322.4 1425.9,1326.3 1421.8,1329.5 1417.5,1332.2 1412.9,1334.5 1408.0,1336.3 1402.9,1337.8 1398.2,1338.9 1394.4,1339.6 1391.9,1340.0 1390.9,1340.2 1390.7,1340.2Z" fill="#a2a93e"/>
<path d="M1390.7,1339.5 1390.9,1339.5 1391.9,1339.3 1394.4,1338.9 1398.2,1338.2 1402.9,1337.1 1408.0,1335.6 1412.9,1333.8 1417.5,1331.5 1421.8,1328.8 1425.9,1325.6 1429.9,1321.7 1434.1,1316.9 1438.5,1311.3 1443.2,1304.8 1448.2,1297.4 1453.6,1289.3 1459.3,1280.7 1465.1,1271.7 1470.8,1262.7 1476.5,1254.0 1481.9,1245.9 1486.9,1238.6 1491.6,1232.1 1496.0,1226.5 1500.2,1221.7 1504.2,1217.8 1508.3,1214.5 1512.6,1211.9 1517.2,1209.6 1522.1,1207.8 1527.2,1206.3 1531.9,1205.2 1535.7,1204.4 1538.2,1204.0 1539.2,1203.9 1539.4,1203.9 1539.4,1229.8 1539.2,1229.8 1538.2,1229.9 1535.7,1230.2 1531.9,1230.9 1527.2,1231.9 1522.1,1233.2 1517.2,1234.8 1512.6,1236.8 1508.3,1239.1 1504.2,1242.0 1500.2,1245.4 1496.0,1249.6 1491.6,1254.5 1486.9,1260.2 1481.9,1266.7 1476.5,1273.8 1470.8,1281.4 1465.1,1289.3 1459.3,1297.2 1453.6,1304.8 1448.2,1311.9 1443.2,1318.3 1438.5,1324.0 1434.1,1329.0 1429.9,1333.1 1425.9,1336.6 1421.8,1339.4 1417.5,1341.8 1412.9,1343.8 1408.0,1345.4 1402.9,1346.7 1398.2,1347.7 1394.4,1348.3 1391.9,1348.7 1390.9,1348.8 1390.7,1348.8Z" fill="#80b042"/>
<path d="M1390.7,1348.1 1390.9,1348.1 1391.9,1348.0 1394.4,1347.6 1398.2,1347.0 1402.9,1346.0 1408.0,1344.7 1412.9,1343.1 1417.5,1341.1 1421.8,1338.7 1425.9,1335.9 1429.9,1332.4 1434.1,1328.3 1438.5,1323.3 1443.2,1317.6 1448.2,1311.2 1453.6,1304.1 1459.3,1296.5 1465.1,1288.6 1470.8,1280.7 1476.5,1273.1 1481.9,1266.0 1486.9,1259.5 1491.6,1253.8 1496.0,1248.9 1500.2,1244.7 1504.2,1241.3 1508.3,1238.4 1512.6,1236.1 1517.2,1234.1 1522.1,1232.5 1527.2,1231.2 1531.9,1230.2 1535.7,1229.5 1538.2,1229.2 1539.2,1229.1 1539.4,1229.1 1539.4,1242.4 1539.2,1242.4 1538.2,1242.5 1535.7,1242.8 1531.9,1243.4 1527.2,1244.2 1522.1,1245.4 1517.2,1246.9 1512.6,1248.6 1508.3,1250.7 1504.2,1253.3 1500.2,1256.4 1496.0,1260.1 1491.6,1264.5 1486.9,1269.6 1481.9,1275.4 1476.5,1281.7 1470.8,1288.5 1465.1,1295.6 1459.3,1302.6 1453.6,1309.4 1448.2,1315.8 1443.2,1321.6 1438.5,1326.7 1434.1,1331.1 1429.9,1334.8 1425.9,1337.9 1421.8,1340.4 1417.5,1342.5 1412.9,1344.3 1408.0,1345.7 1402.9,1346.9 1398.2,1347.8 1394.4,1348.4 1391.9,1348.7 1390.9,1348.8 1390.7,1348.8Z" fill="#51b448"/>
<path d="M1390.7,1348.1 1390.9,1348.1 1391.9,1348.0 1394.4,1347.7 1398.2,1347.1 1402.9,1346.2 1408.0,1345.0 1412.9,1343.6 1417.5,1341.8 1421.8,1339.7 1425.9,1337.2 1429.9,1334.1 1434.1,1330.4 1438.5,1326.0 1443.2,1320.9 1448.2,1315.1 1453.6,1308.7 1459.3,1301.9 1465.1,1294.9 1470.8,1287.8 1476.5,1281.0 1481.9,1274.7 1486.9,1268.9 1491.6,1263.8 1496.0,1259.4 1500.2,1255.7 1504.2,1252.6 1508.3,1250.0 1512.6,1247.9 1517.2,1246.2 1522.1,1244.7 1527.2,1243.5 1531.9,1242.7 1535.7,1242.1 1538.2,1241.8 1539.2,1241.7 1539.4,1241.7 1539.4,1267.5 1539.2,1267.5 1538.2,1267.7 1535.7,1268.0 1531.9,1268.5 1527.2,1269.4 1522.1,1270.5 1517.2,1271.9 1512.6,1273.6 1508.3,1275.7 1504.2,1278.1 1500.2,1281.2 1496.0,1284.8 1491.6,1289.1 1486.9,1294.0 1481.9,1299.6 1476.5,1305.8 1470.8,1312.4 1465.1,1319.3 1459.3,1326.1 1453.6,1332.7 1448.2,1338.9 1443.2,1344.5 1438.5,1349.5 1434.1,1353.8 1429.9,1357.4 1425.9,1360.4 1421.8,1362.9 1417.5,1364.9 1412.9,1366.6 1408.0,1368.0 1402.9,1369.2 1398.2,1370.0 1394.4,1370.6 1391.9,1370.9 1390.9,1371.0 1390.7,1371.0Z" fill="#2fb351"/>
<path d="M1390.7,1370.3 1390.9,1370.3 1391.9,1370.2 1394.4,1369.9 1398.2,1369.3 1402.9,1368.5 1408.0,1367.3 1412.9,1365.9 1417.5,1364.2 1421.8,1362.2 1425.9,1359.7 1429.9,1356.7 1434.1,1353.1 1438.5,1348.8 1443.2,1343.8 1448.2,1338.2 1453.6,1332.0 1459.3,1325.4 1465.1,1318.6 1470.8,1311.7 1476.5,1305.1 1481.9,1298.9 1486.9,1293.3 1491.6,1288.4 1496.0,1284.1 1500.2,1280.5 1504.2,1277.4 1508.3,1275.0 1512.6,1272.9 1517.2,1271.2 1522.1,1269.8 1527.2,1268.7 1531.9,1267.8 1535.7,1267.3 1538.2,1267.0 1539.2,1266.8 1539.4,1266.8 1539.4,1280.1 1539.2,1280.1 1538.2,1280.2 1535.7,1280.5 1531.9,1281.1 1527.2,1281.9 1522.1,1283.0 1517.2,1284.4 1512.6,1286.0 1508.3,1288.0 1504.2,1290.4 1500.2,1293.3 1496.0,1296.8 1491.6,1300.9 1486.9,1305.7 1481.9,1311.1 1476.5,1317.1 1470.8,1323.5 1465.1,1330.1 1459.3,1336.7 1453.6,1343.1 1448.2,1349.1 1443.2,1354.5 1438.5,1359.3 1434.1,1363.4 1429.9,1366.9 1425.9,1369.8 1421.8,1372.2 1417.5,1374.2 1412.9,1375.9 1408.0,1377.2 1402.9,1378.3 1398.2,1379.1 1394.4,1379.7 1391.9,1380.0 1390.9,1380.1 1390.7,1380.1Z" fill="#31b464"/>
<path d="M1390.7,1379.4 1390.9,1379.4 1391.9,1379.3 1394.4,1379.0 1398.2,1378.4 1402.9,1377.6 1408.0,1376.5 1412.9,1375.2 1417.5,1373.5 1421.8,1371.5 1425.9,1369.1 1429.9,1366.2 1434.1,1362.7 1438.5,1358.6 1443.2,1353.8 1448.2,1348.4 1453.6,1342.4 1459.3,1336.0 1465.1,1329.4 1470.8,1322.8 1476.5,1316.4 1481.9,1310.4 1486.9,1305.0 1491.6,1300.2 1496.0,1296.1 1500.2,1292.6 1504.2,1289.7 1508.3,1287.3 1512.6,1285.3 1517.2,1283.7 1522.1,1282.3 1527.2,1281.2 1531.9,1280.4 1535.7,1279.8 1538.2,1279.5 1539.2,1279.4 1539.4,1279.4 1539.4,1292.7 1539.2,1292.7 1538.2,1292.8 1535.7,1293.1 1531.9,1293.6 1527.2,1294.4 1522.1,1295.4 1517.2,1296.6 1512.6,1298.2 1508.3,1300.0 1504.2,1302.2 1500.2,1304.9 1496.0,1308.1 1491.6,1312.0 1486.9,1316.4 1481.9,1321.4 1476.5,1327.0 1470.8,1332.9 1465.1,1339.0 1459.3,1345.1 1453.6,1351.1 1448.2,1356.6 1443.2,1361.6 1438.5,1366.0 1434.1,1369.9 1429.9,1373.1 1425.9,1375.8 1421.8,1378.0 1417.5,1379.9 1412.9,1381.4 1408.0,1382.6 1402.9,1383.7 1398.2,1384.4 1394.4,1384.9 1391.9,1385.2 1390.9,1385.3 1390.7,1385.3Z" fill="#31b883"/>
<path d="M1390.7,1384.6 1390.9,1384.6 1391.9,1384.5 1394.4,1384.2 1398.2,1383.7 1402.9,1383.0 1408.0,1381.9 1412.9,1380.7 1417.5,1379.2 1421.8,1377.3 1425.9,1375.1 1429.9,1372.4 1434.1,1369.2 1438.5,1365.3 1443.2,1360.9 1448.2,1355.9 1453.6,1350.4 1459.3,1344.4 1465.1,1338.3 1470.8,1332.2 1476.5,1326.3 1481.9,1320.7 1486.9,1315.7 1491.6,1311.3 1496.0,1307.4 1500.2,1304.2 1504.2,1301.5 1508.3,1299.3 1512.6,1297.5 1517.2,1295.9 1522.1,1294.7 1527.2,1293.7 1531.9,1292.9 1535.7,1292.4 1538.2,1292.1 1539.2,1292.0 1539.4,1292.0 1539.4,1305.3 1539.2,1305.3 1538.2,1305.4 1535.7,1305.7 1531.9,1306.2 1527.2,1307.0 1522.1,1308.1 1517.2,1309.4 1512.6,1311.0 1508.3,1312.9 1504.2,1315.2 1500.2,1318.0 1496.0,1321.4 1491.6,1325.4 1486.9,1330.0 1481.9,1335.2 1476.5,1341.0 1470.8,1347.2 1465.1,1353.6 1459.3,1359.9 1453.6,1366.1 1448.2,1371.9 1443.2,1377.1 1438.5,1381.7 1434.1,1385.7 1429.9,1389.1 1425.9,1391.9 1421.8,1394.2 1417.5,1396.1 1412.9,1397.7 1408.0,1399.0 1402.9,1400.1 1398.2,1400.9 1394.4,1401.4 1391.9,1401.7 1390.9,1401.8 1390.7,1401.8Z" fill="#21bba4"/>
<path d="M1390.7,1401.1 1390.9,1401.1 1391.9,1401.0 1394.4,1400.7 1398.2,1400.2 1402.9,1399.4 1408.0,1398.3 1412.9,1397.0 1417.5,1395.4 1421.8,1393.5 1425.9,1391.2 1429.9,1388.4 1434.1,1385.0 1438.5,1381.0 1443.2,1376.4 1448.2,1371.2 1453.6,1365.4 1459.3,1359.2 1465.1,1352.9 1470.8,1346.5 1476.5,1340.3 1481.9,1334.5 1486.9,1329.3 1491.6,1324.7 1496.0,1320.7 1500.2,1317.3 1504.2,1314.5 1508.3,1312.2 1512.6,1310.3 1517.2,1308.7 1522.1,1307.4 1527.2,1306.3 1531.9,1305.5 1535.7,1305.0 1538.2,1304.7 1539.2,1304.6 1539.4,1304.6 1539.4,1317.9 1539.2,1317.9 1538.2,1318.0 1535.7,1318.2 1531.9,1318.7 1527.2,1319.4 1522.1,1320.3 1517.2,1321.5 1512.6,1322.8 1508.3,1324.5 1504.2,1326.5 1500.2,1328.9 1496.0,1331.9 1491.6,1335.4 1486.9,1339.4 1481.9,1343.9 1476.5,1348.9 1470.8,1354.3 1465.1,1359.9 1459.3,1365.4 1453.6,1370.8 1448.2,1375.8 1443.2,1380.3 1438.5,1384.3 1434.1,1387.8 1429.9,1390.8 1425.9,1393.2 1421.8,1395.2 1417.5,1396.9 1412.9,1398.2 1408.0,1399.4 1402.9,1400.3 1398.2,1401.0 1394.4,1401.5 1391.9,1401.7 1390.9,1401.8 1390.7,1401.8Z" fill="#22bcc8"/>
<path d="M1390.7,1401.1 1390.9,1401.1 1391.9,1401.0 1394.4,1400.8 1398.2,1400.3 1402.9,1399.6 1408.0,1398.7 1412.9,1397.5 1417.5,1396.2 1421.8,1394.5 1425.9,1392.5 1429.9,1390.1 1434.1,1387.1 1438.5,1383.6 1443.2,1379.6 1448.2,1375.1 1453.6,1370.1 1459.3,1364.7 1465.1,1359.2 1470.8,1353.6 1476.5,1348.2 1481.9,1343.2 1486.9,1338.7 1491.6,1334.7 1496.0,1331.2 1500.2,1328.2 1504.2,1325.8 1508.3,1323.8 1512.6,1322.1 1517.2,1320.8 1522.1,1319.6 1527.2,1318.7 1531.9,1318.0 1535.7,1317.5 1538.2,1317.3 1539.2,1317.2 1539.4,1317.2 1539.4,1330.5 1539.2,1330.5 1538.2,1330.6 1535.7,1330.8 1531.9,1331.2 1527.2,1331.8 1522.1,1332.5 1517.2,1333.5 1512.6,1334.7 1508.3,1336.1 1504.2,1337.8 1500.2,1339.9 1496.0,1342.4 1491.6,1345.3 1486.9,1348.7 1481.9,1352.6 1476.5,1356.9 1470.8,1361.4 1465.1,1366.1 1459.3,1370.9 1453.6,1375.4 1448.2,1379.7 1443.2,1383.6 1438.5,1387.0 1434.1,1389.9 1429.9,1392.4 1425.9,1394.5 1421.8,1396.2 1417.5,1397.6 1412.9,1398.8 1408.0,1399.8 1402.9,1400.5 1398.2,1401.1 1394.4,1401.5 1391.9,1401.7 1390.9,1401.8 1390.7,1401.8Z" fill="#1eb8dc"/>
<path d="M1390.7,1401.1 1390.9,1401.1 1391.9,1401.0 1394.4,1400.8 1398.2,1400.4 1402.9,1399.8 1408.0,1399.1 1412.9,1398.1 1417.5,1396.9 1421.8,1395.5 1425.9,1393.8 1429.9,1391.7 1434.1,1389.2 1438.5,1386.3 1443.2,1382.9 1448.2,1379.0 1453.6,1374.7 1459.3,1370.2 1465.1,1365.4 1470.8,1360.7 1476.5,1356.2 1481.9,1351.9 1486.9,1348.0 1491.6,1344.6 1496.0,1341.7 1500.2,1339.2 1504.2,1337.1 1508.3,1335.4 1512.6,1334.0 1517.2,1332.8 1522.1,1331.8 1527.2,1331.1 1531.9,1330.5 1535.7,1330.1 1538.2,1329.9 1539.2,1329.8 1539.4,1329.8 1539.4,1355.7 1539.2,1355.7 1538.2,1355.8 1535.7,1356.0 1531.9,1356.3 1527.2,1356.9 1522.1,1357.7 1517.2,1358.6 1512.6,1359.7 1508.3,1361.1 1504.2,1362.7 1500.2,1364.7 1496.0,1367.2 1491.6,1370.0 1486.9,1373.3 1481.9,1377.1 1476.5,1381.2 1470.8,1385.6 1465.1,1390.1 1459.3,1394.7 1453.6,1399.1 1448.2,1403.2 1443.2,1407.0 1438.5,1410.3 1434.1,1413.1 1429.9,1415.5 1425.9,1417.5 1421.8,1419.2 1417.5,1420.5 1412.9,1421.7 1408.0,1422.6 1402.9,1423.4 1398.2,1423.9 1394.4,1424.3 1391.9,1424.5 1390.9,1424.6 1390.7,1424.6Z" fill="#2daee3"/>
<path d="M1390.7,1423.9 1390.9,1423.9 1391.9,1423.8 1394.4,1423.6 1398.2,1423.2 1402.9,1422.7 1408.0,1421.9 1412.9,1421.0 1417.5,1419.8 1421.8,1418.5 1425.9,1416.8 1429.9,1414.8 1434.1,1412.4 1438.5,1409.6 1443.2,1406.3 1448.2,1402.5 1453.6,1398.4 1459.3,1394.0 1465.1,1389.4 1470.8,1384.9 1476.5,1380.5 1481.9,1376.4 1486.9,1372.6 1491.6,1369.3 1496.0,1366.5 1500.2,1364.0 1504.2,1362.0 1508.3,1360.4 1512.6,1359.0 1517.2,1357.9 1522.1,1357.0 1527.2,1356.2 1531.9,1355.6 1535.7,1355.3 1538.2,1355.1 1539.2,1355.0 1539.4,1355.0 1539.4,1368.3 1539.2,1368.3 1538.2,1368.4 1535.7,1368.6 1531.9,1369.1 1527.2,1369.9 1522.1,1370.9 1517.2,1372.1 1512.6,1373.6 1508.3,1375.4 1504.2,1377.6 1500.2,1380.2 1496.0,1383.4 1491.6,1387.2 1486.9,1391.5 1481.9,1396.5 1476.5,1401.9 1470.8,1407.7 1465.1,1413.7 1459.3,1419.8 1453.6,1425.6 1448.2,1431.0 1443.2,1435.9 1438.5,1440.3 1434.1,1444.0 1429.9,1447.2 1425.9,1449.9 1421.8,1452.1 1417.5,1453.9 1412.9,1455.3 1408.0,1456.6 1402.9,1457.6 1398.2,1458.3 1394.4,1458.8 1391.9,1459.1 1390.9,1459.2 1390.7,1459.2Z" fill="#42a2db"/>
<path d="M1390.7,1458.5 1390.9,1458.5 1391.9,1458.4 1394.4,1458.1 1398.2,1457.6 1402.9,1456.9 1408.0,1455.9 1412.9,1454.6 1417.5,1453.2 1421.8,1451.4 1425.9,1449.2 1429.9,1446.5 1434.1,1443.3 1438.5,1439.6 1443.2,1435.2 1448.2,1430.3 1453.6,1424.9 1459.3,1419.1 1465.1,1413.0 1470.8,1407.0 1476.5,1401.2 1481.9,1395.8 1486.9,1390.8 1491.6,1386.5 1496.0,1382.7 1500.2,1379.5 1504.2,1376.9 1508.3,1374.7 1512.6,1372.9 1517.2,1371.4 1522.1,1370.2 1527.2,1369.2 1531.9,1368.4 1535.7,1367.9 1538.2,1367.7 1539.2,1367.6 1539.4,1367.6 1539.4,1380.9 1539.2,1380.9 1538.2,1381.0 1535.7,1381.2 1531.9,1381.7 1527.2,1382.3 1522.1,1383.3 1517.2,1384.4 1512.6,1385.8 1508.3,1387.4 1504.2,1389.4 1500.2,1391.8 1496.0,1394.7 1491.6,1398.2 1486.9,1402.1 1481.9,1406.6 1476.5,1411.6 1470.8,1416.9 1465.1,1422.4 1459.3,1427.9 1453.6,1433.3 1448.2,1438.2 1443.2,1442.7 1438.5,1446.7 1434.1,1450.1 1429.9,1453.1 1425.9,1455.5 1421.8,1457.5 1417.5,1459.1 1412.9,1460.5 1408.0,1461.6 1402.9,1462.5 1398.2,1463.2 1394.4,1463.7 1391.9,1463.9 1390.9,1464.0 1390.7,1464.0Z" fill="#6995cd"/>
<path d="M1390.7,1463.3 1390.9,1463.3 1391.9,1463.2 1394.4,1463.0 1398.2,1462.5 1402.9,1461.8 1408.0,1460.9 1412.9,1459.8 1417.5,1458.4 1421.8,1456.8 1425.9,1454.8 1429.9,1452.4 1434.1,1449.4 1438.5,1446.0 1443.2,1442.0 1448.2,1437.5 1453.6,1432.6 1459.3,1427.2 1465.1,1421.7 1470.8,1416.2 1476.5,1410.9 1481.9,1405.9 1486.9,1401.4 1491.6,1397.5 1496.0,1394.0 1500.2,1391.1 1504.2,1388.7 1508.3,1386.7 1512.6,1385.1 1517.2,1383.7 1522.1,1382.6 1527.2,1381.6 1531.9,1381.0 1535.7,1380.5 1538.2,1380.3 1539.2,1380.2 1539.4,1380.2 1539.4,1406.0 1539.2,1406.1 1538.2,1406.1 1535.7,1406.3 1531.9,1406.7 1527.2,1407.3 1522.1,1408.1 1517.2,1409.1 1512.6,1410.2 1508.3,1411.6 1504.2,1413.3 1500.2,1415.4 1496.0,1417.9 1491.6,1420.8 1486.9,1424.2 1481.9,1428.0 1476.5,1432.3 1470.8,1436.8 1465.1,1441.5 1459.3,1446.2 1453.6,1450.8 1448.2,1455.0 1443.2,1458.8 1438.5,1462.2 1434.1,1465.2 1429.9,1467.7 1425.9,1469.7 1421.8,1471.4 1417.5,1472.8 1412.9,1474.0 1408.0,1475.0 1402.9,1475.7 1398.2,1476.3 1394.4,1476.7 1391.9,1476.9 1390.9,1477.0 1390.7,1477.0Z" fill="#908ac3"/>
<path d="M1390.7,1476.3 1390.9,1476.3 1391.9,1476.2 1394.4,1476.0 1398.2,1475.6 1402.9,1475.0 1408.0,1474.3 1412.9,1473.3 1417.5,1472.1 1421.8,1470.7 1425.9,1469.0 1429.9,1467.0 1434.1,1464.5 1438.5,1461.5 1443.2,1458.1 1448.2,1454.3 1453.6,1450.1 1459.3,1445.5 1465.1,1440.8 1470.8,1436.1 1476.5,1431.6 1481.9,1427.3 1486.9,1423.5 1491.6,1420.1 1496.0,1417.2 1500.2,1414.7 1504.2,1412.6 1508.3,1410.9 1512.6,1409.5 1517.2,1408.4 1522.1,1407.4 1527.2,1406.6 1531.9,1406.0 1535.7,1405.6 1538.2,1405.4 1539.2,1405.4 1539.4,1405.3 1539.4,1418.6 1539.2,1418.6 1538.2,1418.7 1535.7,1418.9 1531.9,1419.2 1527.2,1419.7 1522.1,1420.3 1517.2,1421.1 1512.6,1422.1 1508.3,1423.2 1504.2,1424.6 1500.2,1426.3 1496.0,1428.4 1491.6,1430.8 1486.9,1433.6 1481.9,1436.7 1476.5,1440.2 1470.8,1444.0 1465.1,1447.8 1459.3,1451.7 1453.6,1455.4 1448.2,1458.9 1443.2,1462.1 1438.5,1464.9 1434.1,1467.3 1429.9,1469.3 1425.9,1471.0 1421.8,1472.4 1417.5,1473.6 1412.9,1474.5 1408.0,1475.3 1402.9,1476.0 1398.2,1476.4 1394.4,1476.8 1391.9,1476.9 1390.9,1477.0 1390.7,1477.0Z" fill="#a881bb"/>
<path d="M1390.7,1476.3 1390.9,1476.3 1391.9,1476.2 1394.4,1476.1 1398.2,1475.7 1402.9,1475.3 1408.0,1474.6 1412.9,1473.8 1417.5,1472.9 1421.8,1471.7 1425.9,1470.3 1429.9,1468.6 1434.1,1466.6 1438.5,1464.2 1443.2,1461.4 1448.2,1458.2 1453.6,1454.7 1459.3,1451.0 1465.1,1447.1 1470.8,1443.3 1476.5,1439.5 1481.9,1436.0 1486.9,1432.9 1491.6,1430.1 1496.0,1427.7 1500.2,1425.6 1504.2,1423.9 1508.3,1422.5 1512.6,1421.4 1517.2,1420.4 1522.1,1419.6 1527.2,1419.0 1531.9,1418.5 1535.7,1418.2 1538.2,1418.0 1539.2,1417.9 1539.4,1417.9 1539.4,1431.2 1539.2,1431.2 1538.2,1431.3 1535.7,1431.4 1531.9,1431.7 1527.2,1432.0 1522.1,1432.5 1517.2,1433.2 1512.6,1433.9 1508.3,1434.8 1504.2,1435.9 1500.2,1437.3 1496.0,1438.9 1491.6,1440.8 1486.9,1442.9 1481.9,1445.4 1476.5,1448.2 1470.8,1451.1 1465.1,1454.1 1459.3,1457.1 1453.6,1460.1 1448.2,1462.8 1443.2,1465.3 1438.5,1467.5 1434.1,1469.4 1429.9,1471.0 1425.9,1472.3 1421.8,1473.4 1417.5,1474.3 1412.9,1475.1 1408.0,1475.7 1402.9,1476.2 1398.2,1476.6 1394.4,1476.8 1391.9,1476.9 1390.9,1477.0 1390.7,1477.0Z" fill="#b979b4"/>
<path d="M1390.7,1476.3 1390.9,1476.3 1391.9,1476.2 1394.4,1476.1 1398.2,1475.9 1402.9,1475.5 1408.0,1475.0 1412.9,1474.4 1417.5,1473.6 1421.8,1472.7 1425.9,1471.6 1429.9,1470.3 1434.1,1468.7 1438.5,1466.8 1443.2,1464.6 1448.2,1462.1 1453.6,1459.4 1459.3,1456.4 1465.1,1453.4 1470.8,1450.4 1476.5,1447.5 1481.9,1444.7 1486.9,1442.2 1491.6,1440.1 1496.0,1438.2 1500.2,1436.6 1504.2,1435.2 1508.3,1434.1 1512.6,1433.2 1517.2,1432.5 1522.1,1431.8 1527.2,1431.3 1531.9,1431.0 1535.7,1430.7 1538.2,1430.6 1539.2,1430.5 1539.4,1430.5 1539.4,1443.8 1539.2,1443.8 1538.2,1443.9 1535.7,1444.0 1531.9,1444.1 1527.2,1444.4 1522.1,1444.8 1517.2,1445.2 1512.6,1445.8 1508.3,1446.4 1504.2,1447.2 1500.2,1448.2 1496.0,1449.4 1491.6,1450.7 1486.9,1452.3 1481.9,1454.1 1476.5,1456.1 1470.8,1458.2 1465.1,1460.4 1459.3,1462.6 1453.6,1464.7 1448.2,1466.7 1443.2,1468.5 1438.5,1470.1 1434.1,1471.5 1429.9,1472.6 1425.9,1473.6 1421.8,1474.4 1417.5,1475.0 1412.9,1475.6 1408.0,1476.0 1402.9,1476.4 1398.2,1476.7 1394.4,1476.9 1391.9,1477.0 1390.9,1477.0 1390.7,1477.0Z" fill="#cd71ae"/>
<path d="M1390.7,1476.3 1390.9,1476.3 1391.9,1476.3 1394.4,1476.2 1398.2,1476.0 1402.9,1475.7 1408.0,1475.3 1412.9,1474.9 1417.5,1474.3 1421.8,1473.7 1425.9,1472.9 1429.9,1471.9 1434.1,1470.8 1438.5,1469.4 1443.2,1467.8 1448.2,1466.0 1453.6,1464.0 1459.3,1461.9 1465.1,1459.7 1470.8,1457.5 1476.5,1455.4 1481.9,1453.4 1486.9,1451.6 1491.6,1450.0 1496.0,1448.7 1500.2,1447.5 1504.2,1446.5 1508.3,1445.7 1512.6,1445.1 1517.2,1444.5 1522.1,1444.1 1527.2,1443.7 1531.9,1443.4 1535.7,1443.3 1538.2,1443.2 1539.2,1443.1 1539.4,1443.1 1539.4,1456.4 1539.2,1456.4 1538.2,1456.4 1535.7,1456.5 1531.9,1456.7 1527.2,1456.9 1522.1,1457.1 1517.2,1457.5 1512.6,1457.9 1508.3,1458.4 1504.2,1459.0 1500.2,1459.7 1496.0,1460.6 1491.6,1461.7 1486.9,1462.9 1481.9,1464.2 1476.5,1465.7 1470.8,1467.3 1465.1,1469.0 1459.3,1470.7 1453.6,1472.3 1448.2,1473.8 1443.2,1475.2 1438.5,1476.4 1434.1,1477.4 1429.9,1478.3 1425.9,1479.0 1421.8,1479.6 1417.5,1480.1 1412.9,1480.5 1408.0,1480.9 1402.9,1481.2 1398.2,1481.4 1394.4,1481.5 1391.9,1481.6 1390.9,1481.6 1390.7,1481.6Z" fill="#e26ba7"/>
<path d="M1390.7,1480.9 1390.9,1480.9 1391.9,1480.9 1394.4,1480.8 1398.2,1480.7 1402.9,1480.5 1408.0,1480.2 1412.9,1479.8 1417.5,1479.4 1421.8,1478.9 1425.9,1478.3 1429.9,1477.6 1434.1,1476.7 1438.5,1475.7 1443.2,1474.5 1448.2,1473.1 1453.6,1471.6 1459.3,1470.0 1465.1,1468.3 1470.8,1466.6 1476.5,1465.0 1481.9,1463.5 1486.9,1462.2 1491.6,1461.0 1496.0,1459.9 1500.2,1459.0 1504.2,1458.3 1508.3,1457.7 1512.6,1457.2 1517.2,1456.8 1522.1,1456.4 1527.2,1456.2 1531.9,1456.0 1535.7,1455.8 1538.2,1455.7 1539.2,1455.7 1539.4,1455.7 1539.4,1469.0 1539.2,1469.0 1538.2,1469.0 1535.7,1469.1 1531.9,1469.1 1527.2,1469.2 1522.1,1469.4 1517.2,1469.5 1512.6,1469.7 1508.3,1470.0 1504.2,1470.3 1500.2,1470.7 1496.0,1471.1 1491.6,1471.6 1486.9,1472.2 1481.9,1472.9 1476.5,1473.7 1470.8,1474.5 1465.1,1475.3 1459.3,1476.1 1453.6,1476.9 1448.2,1477.7 1443.2,1478.4 1438.5,1479.0 1434.1,1479.5 1429.9,1479.9 1425.9,1480.3 1421.8,1480.6 1417.5,1480.9 1412.9,1481.1 1408.0,1481.2 1402.9,1481.4 1398.2,1481.5 1394.4,1481.5 1391.9,1481.6 1390.9,1481.6 1390.7,1481.6Z" fill="#f068a1"/>
<path d="M1390.7,1480.9 1390.9,1480.9 1391.9,1480.9 1394.4,1480.8 1398.2,1480.8 1402.9,1480.7 1408.0,1480.5 1412.9,1480.4 1417.5,1480.2 1421.8,1479.9 1425.9,1479.6 1429.9,1479.2 1434.1,1478.8 1438.5,1478.3 1443.2,1477.7 1448.2,1477.0 1453.6,1476.2 1459.3,1475.4 1465.1,1474.6 1470.8,1473.8 1476.5,1473.0 1481.9,1472.2 1486.9,1471.5 1491.6,1470.9 1496.0,1470.4 1500.2,1470.0 1504.2,1469.6 1508.3,1469.3 1512.6,1469.0 1517.2,1468.8 1522.1,1468.7 1527.2,1468.5 1531.9,1468.4 1535.7,1468.4 1538.2,1468.3 1539.2,1468.3 1539.4,1468.3 1539.4,1480.9 1539.2,1480.9 1538.2,1480.9 1535.7,1480.9 1531.9,1480.9 1527.2,1480.9 1522.1,1480.9 1517.2,1480.9 1512.6,1480.9 1508.3,1480.9 1504.2,1480.9 1500.2,1480.9 1496.0,1480.9 1491.6,1480.9 1486.9,1480.9 1481.9,1480.9 1476.5,1480.9 1470.8,1480.9 1465.1,1480.9 1459.3,1480.9 1453.6,1480.9 1448.2,1480.9 1443.2,1480.9 1438.5,1480.9 1434.1,1480.9 1429.9,1480.9 1425.9,1480.9 1421.8,1480.9 1417.5,1480.9 1412.9,1480.9 1408.0,1480.9 1402.9,1480.9 1398.2,1480.9 1394.4,1480.9 1391.9,1480.9 1390.9,1480.9 1390.7,1480.9Z" fill="#f26c8b"/>
</g>
<rect x="1315.7" y="1002.4" width="75.0" height="261.1" fill="#939598" stroke="#3d3d3f" stroke-width="1.25"/>
<rect x="1315.7" y="1263.5" width="75.0" height="5.3" fill="#f47670" stroke="#0a0a0a" stroke-opacity="0.88" stroke-width="1.25"/>
<rect x="1315.7" y="1268.8" width="75.0" height="8.6" fill="#d1972d" stroke="#0a0a0a" stroke-opacity="0.88" stroke-width="1.25"/>
<rect x="1315.7" y="1277.4" width="75.0" height="62.1" fill="#a2a93e" stroke="#0a0a0a" stroke-opacity="0.88" stroke-width="1.25"/>
<rect x="1315.7" y="1339.5" width="75.0" height="8.6" fill="#80b042" stroke="#0a0a0a" stroke-opacity="0.88" stroke-width="1.25"/>
<rect x="1315.7" y="1348.1" width="75.0" height="22.2" fill="#2fb351" stroke="#0a0a0a" stroke-opacity="0.88" stroke-width="1.25"/>
<rect x="1315.7" y="1370.3" width="75.0" height="9.1" fill="#31b464" stroke="#0a0a0a" stroke-opacity="0.88" stroke-width="1.25"/>
<rect x="1315.7" y="1379.4" width="75.0" height="5.2" fill="#31b883" stroke="#0a0a0a" stroke-opacity="0.88" stroke-width="1.25"/>
<rect x="1315.7" y="1384.6" width="75.0" height="16.5" fill="#21bba4" stroke="#0a0a0a" stroke-opacity="0.88" stroke-width="1.25"/>
<rect x="1315.7" y="1401.1" width="75.0" height="22.8" fill="#2daee3" stroke="#0a0a0a" stroke-opacity="0.88" stroke-width="1.25"/>
<rect x="1315.7" y="1423.9" width="75.0" height="34.6" fill="#42a2db" stroke="#0a0a0a" stroke-opacity="0.88" stroke-width="1.25"/>
<rect x="1315.7" y="1458.5" width="75.0" height="4.8" fill="#6995cd" stroke="#0a0a0a" stroke-opacity="0.88" stroke-width="1.25"/>
<rect x="1315.7" y="1463.3" width="75.0" height="13.0" fill="#908ac3" stroke="#0a0a0a" stroke-opacity="0.88" stroke-width="1.25"/>
<rect x="1315.7" y="1476.3" width="75.0" height="4.6" fill="#e26ba7" stroke="#0a0a0a" stroke-opacity="0.88" stroke-width="1.25"/>
<rect x="1539.4" y="1002.4" width="75.3" height="25.2" fill="#f47670" stroke="#0a0a0a" stroke-opacity="0.88" stroke-width="1.25"/>
<rect x="1539.4" y="1027.6" width="75.3" height="25.2" fill="#f1823e" stroke="#0a0a0a" stroke-opacity="0.88" stroke-width="1.25"/>
<rect x="1539.4" y="1052.8" width="75.3" height="12.6" fill="#e19030" stroke="#0a0a0a" stroke-opacity="0.88" stroke-width="1.25"/>
<rect x="1539.4" y="1065.4" width="75.3" height="50.4" fill="#d1972d" stroke="#0a0a0a" stroke-opacity="0.88" stroke-width="1.25"/>
<rect x="1539.4" y="1115.7" width="75.3" height="12.6" fill="#bca138" stroke="#0a0a0a" stroke-opacity="0.88" stroke-width="1.25"/>
<rect x="1539.4" y="1128.3" width="75.3" height="75.6" fill="#a2a93e" stroke="#0a0a0a" stroke-opacity="0.88" stroke-width="1.25"/>
<rect x="1539.4" y="1203.9" width="75.3" height="25.2" fill="#80b042" stroke="#0a0a0a" stroke-opacity="0.88" stroke-width="1.25"/>
<rect x="1539.4" y="1229.1" width="75.3" height="12.6" fill="#51b448" stroke="#0a0a0a" stroke-opacity="0.88" stroke-width="1.25"/>
<rect x="1539.4" y="1241.7" width="75.3" height="25.2" fill="#2fb351" stroke="#0a0a0a" stroke-opacity="0.88" stroke-width="1.25"/>
<rect x="1539.4" y="1266.8" width="75.3" height="12.6" fill="#31b464" stroke="#0a0a0a" stroke-opacity="0.88" stroke-width="1.25"/>
<rect x="1539.4" y="1279.4" width="75.3" height="12.6" fill="#31b883" stroke="#0a0a0a" stroke-opacity="0.88" stroke-width="1.25"/>
<rect x="1539.4" y="1292.0" width="75.3" height="12.6" fill="#21bba4" stroke="#0a0a0a" stroke-opacity="0.88" stroke-width="1.25"/>
<rect x="1539.4" y="1304.6" width="75.3" height="12.6" fill="#22bcc8" stroke="#0a0a0a" stroke-opacity="0.88" stroke-width="1.25"/>
<rect x="1539.4" y="1317.2" width="75.3" height="12.6" fill="#1eb8dc" stroke="#0a0a0a" stroke-opacity="0.88" stroke-width="1.25"/>
<rect x="1539.4" y="1329.8" width="75.3" height="25.2" fill="#2daee3" stroke="#0a0a0a" stroke-opacity="0.88" stroke-width="1.25"/>
<rect x="1539.4" y="1355.0" width="75.3" height="12.6" fill="#42a2db" stroke="#0a0a0a" stroke-opacity="0.88" stroke-width="1.25"/>
<rect x="1539.4" y="1367.6" width="75.3" height="12.6" fill="#6995cd" stroke="#0a0a0a" stroke-opacity="0.88" stroke-width="1.25"/>
<rect x="1539.4" y="1380.2" width="75.3" height="25.2" fill="#908ac3" stroke="#0a0a0a" stroke-opacity="0.88" stroke-width="1.25"/>
<rect x="1539.4" y="1405.3" width="75.3" height="12.6" fill="#a881bb" stroke="#0a0a0a" stroke-opacity="0.88" stroke-width="1.25"/>
<rect x="1539.4" y="1417.9" width="75.3" height="12.6" fill="#b979b4" stroke="#0a0a0a" stroke-opacity="0.88" stroke-width="1.25"/>
<rect x="1539.4" y="1430.5" width="75.3" height="12.6" fill="#cd71ae" stroke="#0a0a0a" stroke-opacity="0.88" stroke-width="1.25"/>
<rect x="1539.4" y="1443.1" width="75.3" height="12.6" fill="#e26ba7" stroke="#0a0a0a" stroke-opacity="0.88" stroke-width="1.25"/>
<rect x="1539.4" y="1455.7" width="75.3" height="12.6" fill="#f068a1" stroke="#0a0a0a" stroke-opacity="0.88" stroke-width="1.25"/>
<rect x="1539.4" y="1468.3" width="75.3" height="12.6" fill="#f26c8b" stroke="#0a0a0a" stroke-opacity="0.88" stroke-width="1.25"/>
<line x1="1213.2" y1="979.0" x2="1213.2" y2="1506.0" stroke="#111" stroke-width="1.9"/>
<line x1="1212.2" y1="1505.3" x2="1693.0" y2="1505.3" stroke="#888888" stroke-width="2.4"/>
<line x1="1212.2" y1="1505.3" x2="1221.2" y2="1505.3" stroke="#111" stroke-width="1.9"/>
<line x1="1353.2" y1="1505.3" x2="1353.2" y2="1507.7" stroke="#707070" stroke-width="1.1"/>
<line x1="1577.1" y1="1505.3" x2="1577.1" y2="1507.7" stroke="#707070" stroke-width="1.1"/>
<line x1="1207.2" y1="1480.9" x2="1213.2" y2="1480.9" stroke="#111" stroke-width="1.5"/>
<line x1="1207.2" y1="1361.3" x2="1213.2" y2="1361.3" stroke="#111" stroke-width="1.5"/>
<line x1="1207.2" y1="1241.7" x2="1213.2" y2="1241.7" stroke="#111" stroke-width="1.5"/>
<line x1="1207.2" y1="1122.0" x2="1213.2" y2="1122.0" stroke="#111" stroke-width="1.5"/>
<line x1="1207.2" y1="1002.4" x2="1213.2" y2="1002.4" stroke="#111" stroke-width="1.5"/>
<text transform="translate(1199.20,1009.10) scale(1,1.04)" font-size="33.5" text-anchor="end" stroke="#000" stroke-width="0.5">1.00</text>
<text transform="translate(1205.10,1128.60) scale(1,1.04)" font-size="33.5" text-anchor="end" stroke="#000" stroke-width="0.5">0.75</text>
<text transform="translate(1205.10,1250.40) scale(1,1.04)" font-size="33.5" text-anchor="end" stroke="#000" stroke-width="0.5">0.50</text>
<text transform="translate(1206.10,1370.80) scale(1,1.04)" font-size="33.5" text-anchor="end" stroke="#000" stroke-width="0.5">0.25</text>
<text transform="translate(1205.10,1489.30) scale(1,1.04)" font-size="33.5" text-anchor="end" stroke="#000" stroke-width="0.5">0.00</text>
<text transform="translate(1115.20,1252.50) rotate(-90) scale(1,1.04)" font-size="33.5" text-anchor="middle" stroke="#000" stroke-width="0.5">Proportion</text>
<text transform="translate(1416.80,945.00) scale(1,1.04)" font-size="50" text-anchor="middle" stroke="#000" stroke-width="0.6">CP28</text>
<text transform="translate(1261.70,1555.80) scale(1,1.04)" font-size="33.5" stroke="#000" stroke-width="0.5">CXCR5</text>
<text transform="translate(1375.40,1547.20) scale(1,1.04)" font-size="21" stroke="#000" stroke-width="0.5">-</text>
<text transform="translate(1391.80,1555.80) scale(1,1.04)" font-size="33.5" stroke="#000" stroke-width="0.5">T</text>
<text transform="translate(1412.40,1559.90) scale(1,1.04)" font-size="21.5" stroke="#000" stroke-width="0.5" letter-spacing="1">mem</text>
<text transform="translate(1592.70,1555.80) scale(1,1.04)" font-size="33.5" text-anchor="middle" stroke="#000" stroke-width="0.5">cTFH</text>
<text transform="translate(1779.00,898.50) scale(1,1.04)" font-size="25.2" stroke="#000" stroke-width="0.4">Clonotype</text>
<rect x="1730.40" y="919.70" width="25.10" height="631.44" fill="#3a2424"/>
<rect x="1730.10" y="919.35" width="25.70" height="25.86" fill="#f8766d"/>
<rect x="1731.00" y="920.25" width="23.90" height="24.06" fill="none" stroke="#140c0c" stroke-opacity="0.8" stroke-width="1.8"/>
<text transform="translate(1768.50,939.29) scale(1,1.04)" font-size="16.75" fill="#383838" stroke="#383838" stroke-width="0.3">CASRQIPRGSTDTQYF</text>
<rect x="1730.10" y="945.71" width="25.70" height="25.86" fill="#ed813e"/>
<rect x="1731.00" y="946.61" width="23.90" height="24.06" fill="none" stroke="#140c0c" stroke-opacity="0.8" stroke-width="1.8"/>
<text transform="translate(1768.50,965.65) scale(1,1.04)" font-size="16.75" fill="#383838" stroke="#383838" stroke-width="0.3">CASSQAGEGTGYTF</text>
<rect x="1730.10" y="972.07" width="25.70" height="25.86" fill="#de8c00"/>
<rect x="1731.00" y="972.97" width="23.90" height="24.06" fill="none" stroke="#140c0c" stroke-opacity="0.8" stroke-width="1.8"/>
<text transform="translate(1768.50,992.01) scale(1,1.04)" font-size="16.75" fill="#383838" stroke="#383838" stroke-width="0.3">CASSQDRLGGYEQYF</text>
<rect x="1730.10" y="998.43" width="25.70" height="25.86" fill="#cd9600"/>
<rect x="1731.00" y="999.33" width="23.90" height="24.06" fill="none" stroke="#140c0c" stroke-opacity="0.8" stroke-width="1.8"/>
<text transform="translate(1768.50,1018.37) scale(1,1.04)" font-size="16.75" fill="#383838" stroke="#383838" stroke-width="0.3">CASSQDWRQGGRPQHF</text>
<rect x="1730.10" y="1024.79" width="25.70" height="25.86" fill="#b79f00"/>
<rect x="1731.00" y="1025.69" width="23.90" height="24.06" fill="none" stroke="#140c0c" stroke-opacity="0.8" stroke-width="1.8"/>
<text transform="translate(1768.50,1044.73) scale(1,1.04)" font-size="16.75" fill="#383838" stroke="#383838" stroke-width="0.3">CASSQERQGGYGYTF</text>
<rect x="1730.10" y="1051.15" width="25.70" height="25.86" fill="#9da700"/>
<rect x="1731.00" y="1052.05" width="23.90" height="24.06" fill="none" stroke="#140c0c" stroke-opacity="0.8" stroke-width="1.8"/>
<text transform="translate(1768.50,1071.09) scale(1,1.04)" font-size="16.75" fill="#383838" stroke="#383838" stroke-width="0.3">CATSAVSGGNYNEQFF</text>
<rect x="1730.10" y="1077.51" width="25.70" height="25.86" fill="#7cae00"/>
<rect x="1731.00" y="1078.41" width="23.90" height="24.06" fill="none" stroke="#140c0c" stroke-opacity="0.8" stroke-width="1.8"/>
<text transform="translate(1768.50,1097.45) scale(1,1.04)" font-size="16.75" fill="#383838" stroke="#383838" stroke-width="0.3">CATSDPGRGDNQPQHF</text>
<rect x="1730.10" y="1103.87" width="25.70" height="25.86" fill="#49b500"/>
<rect x="1731.00" y="1104.77" width="23.90" height="24.06" fill="none" stroke="#140c0c" stroke-opacity="0.8" stroke-width="1.8"/>
<text transform="translate(1768.50,1123.81) scale(1,1.04)" font-size="16.75" fill="#383838" stroke="#383838" stroke-width="0.3">CATSDPGTGDNQPQHF</text>
<rect x="1730.10" y="1130.23" width="25.70" height="25.86" fill="#00ba38"/>
<rect x="1731.00" y="1131.13" width="23.90" height="24.06" fill="none" stroke="#140c0c" stroke-opacity="0.8" stroke-width="1.8"/>
<text transform="translate(1768.50,1150.17) scale(1,1.04)" font-size="16.75" fill="#383838" stroke="#383838" stroke-width="0.3">CATSDPGTGNNQPQHF</text>
<rect x="1730.10" y="1156.59" width="25.70" height="25.86" fill="#00be67"/>
<rect x="1731.00" y="1157.49" width="23.90" height="24.06" fill="none" stroke="#140c0c" stroke-opacity="0.8" stroke-width="1.8"/>
<text transform="translate(1768.50,1176.53) scale(1,1.04)" font-size="16.75" fill="#383838" stroke="#383838" stroke-width="0.3">CATSDPSLGNNQPQHF</text>
<rect x="1730.10" y="1182.95" width="25.70" height="25.86" fill="#00c08b"/>
<rect x="1731.00" y="1183.85" width="23.90" height="24.06" fill="none" stroke="#140c0c" stroke-opacity="0.8" stroke-width="1.8"/>
<text transform="translate(1768.50,1202.89) scale(1,1.04)" font-size="16.75" fill="#383838" stroke="#383838" stroke-width="0.3">CSARDRQGAAMNTEAFF</text>
<rect x="1730.10" y="1209.31" width="25.70" height="25.86" fill="#00c1a9"/>
<rect x="1731.00" y="1210.21" width="23.90" height="24.06" fill="none" stroke="#140c0c" stroke-opacity="0.8" stroke-width="1.8"/>
<text transform="translate(1768.50,1229.25) scale(1,1.04)" font-size="16.75" fill="#383838" stroke="#383838" stroke-width="0.3">CSARLSWDQNQPQHF</text>
<rect x="1730.10" y="1235.67" width="25.70" height="25.86" fill="#00bfc4"/>
<rect x="1731.00" y="1236.57" width="23.90" height="24.06" fill="none" stroke="#140c0c" stroke-opacity="0.8" stroke-width="1.8"/>
<text transform="translate(1768.50,1255.61) scale(1,1.04)" font-size="16.75" fill="#383838" stroke="#383838" stroke-width="0.3">CSARLSWGQNQPQHF</text>
<rect x="1730.10" y="1262.03" width="25.70" height="25.86" fill="#00bbdc"/>
<rect x="1731.00" y="1262.93" width="23.90" height="24.06" fill="none" stroke="#140c0c" stroke-opacity="0.8" stroke-width="1.8"/>
<text transform="translate(1768.50,1281.97) scale(1,1.04)" font-size="16.75" fill="#383838" stroke="#383838" stroke-width="0.3">CSARQDRGDYSPLHF</text>
<rect x="1730.10" y="1288.39" width="25.70" height="25.86" fill="#00b4f0"/>
<rect x="1731.00" y="1289.29" width="23.90" height="24.06" fill="none" stroke="#140c0c" stroke-opacity="0.8" stroke-width="1.8"/>
<text transform="translate(1768.50,1308.33) scale(1,1.04)" font-size="16.75" fill="#383838" stroke="#383838" stroke-width="0.3">CSARRGAEAFF</text>
<rect x="1730.10" y="1314.75" width="25.70" height="25.86" fill="#00a9ff"/>
<rect x="1731.00" y="1315.65" width="23.90" height="24.06" fill="none" stroke="#140c0c" stroke-opacity="0.8" stroke-width="1.8"/>
<text transform="translate(1768.50,1334.69) scale(1,1.04)" font-size="16.75" fill="#383838" stroke="#383838" stroke-width="0.3">CSARRGTEAFF</text>
<rect x="1730.10" y="1341.11" width="25.70" height="25.86" fill="#619cff"/>
<rect x="1731.00" y="1342.01" width="23.90" height="24.06" fill="none" stroke="#140c0c" stroke-opacity="0.8" stroke-width="1.8"/>
<text transform="translate(1768.50,1361.05) scale(1,1.04)" font-size="16.75" fill="#383838" stroke="#383838" stroke-width="0.3">CSASFSYSRDQPQHF</text>
<rect x="1730.10" y="1367.47" width="25.70" height="25.86" fill="#9f8cff"/>
<rect x="1731.00" y="1368.37" width="23.90" height="24.06" fill="none" stroke="#140c0c" stroke-opacity="0.8" stroke-width="1.8"/>
<text transform="translate(1768.50,1387.41) scale(1,1.04)" font-size="16.75" fill="#383838" stroke="#383838" stroke-width="0.3">CSATDRVNTGELFF</text>
<rect x="1730.10" y="1393.83" width="25.70" height="25.86" fill="#c77cff"/>
<rect x="1731.00" y="1394.73" width="23.90" height="24.06" fill="none" stroke="#140c0c" stroke-opacity="0.8" stroke-width="1.8"/>
<text transform="translate(1768.50,1413.77) scale(1,1.04)" font-size="16.75" fill="#383838" stroke="#383838" stroke-width="0.3">CSATLVPAGLWVSPLHF</text>
<rect x="1730.10" y="1420.19" width="25.70" height="25.86" fill="#e36ef6"/>
<rect x="1731.00" y="1421.09" width="23.90" height="24.06" fill="none" stroke="#140c0c" stroke-opacity="0.8" stroke-width="1.8"/>
<text transform="translate(1768.50,1440.13) scale(1,1.04)" font-size="16.75" fill="#383838" stroke="#383838" stroke-width="0.3">CSATRGAGGTETQYF</text>
<rect x="1730.10" y="1446.55" width="25.70" height="25.86" fill="#f564e3"/>
<rect x="1731.00" y="1447.45" width="23.90" height="24.06" fill="none" stroke="#140c0c" stroke-opacity="0.8" stroke-width="1.8"/>
<text transform="translate(1768.50,1466.49) scale(1,1.04)" font-size="16.75" fill="#383838" stroke="#383838" stroke-width="0.3">CSATTGANSYNEQFF</text>
<rect x="1730.10" y="1472.91" width="25.70" height="25.86" fill="#ff61cc"/>
<rect x="1731.00" y="1473.81" width="23.90" height="24.06" fill="none" stroke="#140c0c" stroke-opacity="0.8" stroke-width="1.8"/>
<text transform="translate(1768.50,1492.85) scale(1,1.04)" font-size="16.75" fill="#383838" stroke="#383838" stroke-width="0.3">CSVDAGGPDTQYF</text>
<rect x="1730.10" y="1499.27" width="25.70" height="25.86" fill="#ff64b0"/>
<rect x="1731.00" y="1500.17" width="23.90" height="24.06" fill="none" stroke="#140c0c" stroke-opacity="0.8" stroke-width="1.8"/>
<text transform="translate(1768.50,1519.21) scale(1,1.04)" font-size="16.75" fill="#383838" stroke="#383838" stroke-width="0.3">FSARRGSEAFF</text>
<rect x="1730.10" y="1525.63" width="25.70" height="25.86" fill="#ff6c91"/>
<rect x="1731.00" y="1526.53" width="23.90" height="24.06" fill="none" stroke="#140c0c" stroke-opacity="0.8" stroke-width="1.8"/>
<text transform="translate(1768.50,1545.57) scale(1,1.04)" font-size="16.75" fill="#383838" stroke="#383838" stroke-width="0.3">GSDKRDGGNTYGYTF</text>
</g>
<text transform="translate(-3.30,32.00) scale(1,1.04)" font-size="58" font-weight="bold">a</text>
<text transform="translate(-1.80,900.90) scale(1,1.04)" font-size="58" font-weight="bold">b</text>
</svg>
</body></html>
